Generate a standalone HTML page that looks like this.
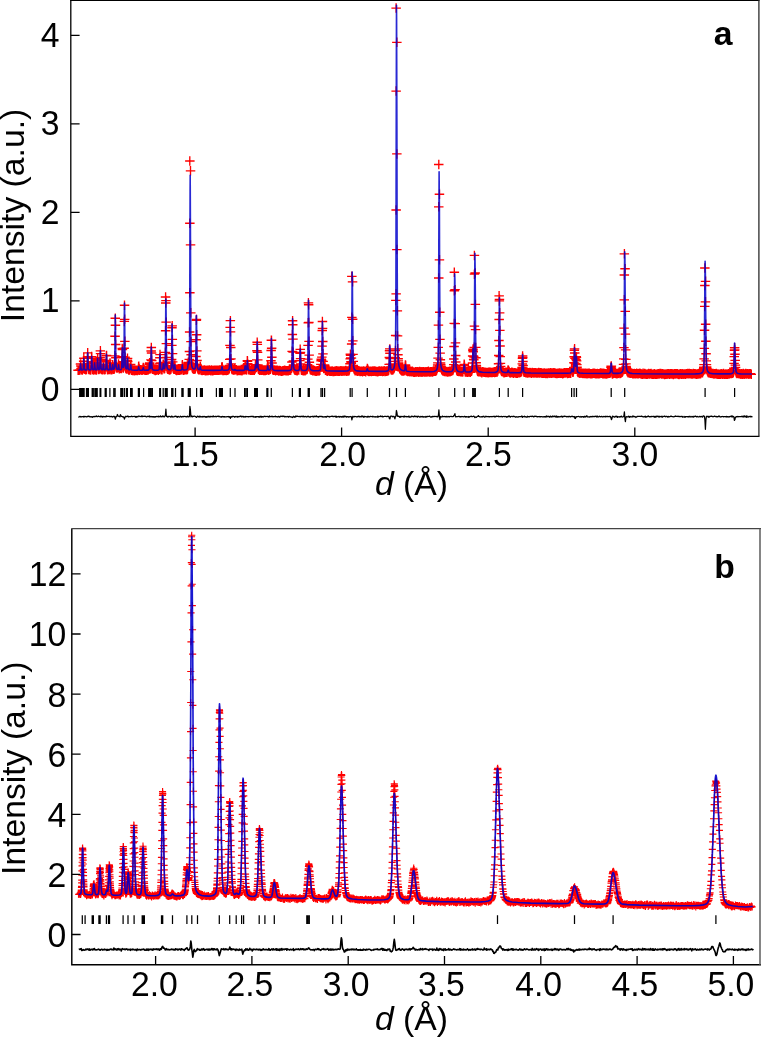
<!DOCTYPE html>
<html lang="en">
<head>
<meta charset="utf-8">
<title>Diffraction patterns a and b</title>
<style>
html,body{margin:0;padding:0;background:#fff;}
body{width:761px;height:1037px;overflow:hidden;}
svg{display:block;}
</style>
</head>
<body>
<svg width="761" height="1037" viewBox="0 0 761 1037">
<rect width="761" height="1037" fill="#fff"/>
<g id="panel-a">
<clipPath id="clip-a"><rect x="70.8" y="0.3" width="688.1" height="436"/></clipPath>
<g clip-path="url(#clip-a)" fill="none">
<path d="M73.3,370.2h9.5M78.1,365.5v9.5M74.1,370.3h9.5M78.9,365.5v9.5M74.9,369.9h9.5M79.7,365.2v9.5M75.7,364.1h9.5M80.5,359.4v9.5M75.9,363.9h9.5M80.7,359.2v9.5M76.1,366h9.5M80.9,361.2v9.5M76.3,368.3h9.5M81.1,363.5v9.5M76.5,369.7h9.5M81.3,365v9.5M76.7,369.6h9.5M81.4,364.9v9.5M76.9,369.7h9.5M81.6,365v9.5M77.7,370.1h9.5M82.4,365.3v9.5M78.5,368.8h9.5M83.2,364.1v9.5M78.7,366.4h9.5M83.4,361.6v9.5M78.9,361.2h9.5M83.6,356.5v9.5M79.1,358.2h9.5M83.8,353.5v9.5M79.2,361.2h9.5M84,356.4v9.5M79.4,364.9h9.5M84.2,360.1v9.5M79.6,367.8h9.5M84.4,363.1v9.5M79.8,368.7h9.5M84.6,363.9v9.5M80,369.2h9.5M84.8,364.5v9.5M80.2,369.3h9.5M84.9,364.5v9.5M81,369.9h9.5M85.7,365.1v9.5M81.8,369.4h9.5M86.5,364.7v9.5M82.6,364h9.5M87.3,359.2v9.5M82.8,356.7h9.5M87.5,351.9v9.5M83,352.8h9.5M87.7,348v9.5M83.2,357h9.5M87.9,352.2v9.5M83.4,363.3h9.5M88.1,358.6v9.5M83.5,367.1h9.5M88.3,362.4v9.5M83.7,368.8h9.5M88.5,364v9.5M83.9,368.9h9.5M88.7,364.2v9.5M84.1,369.4h9.5M88.9,364.7v9.5M84.3,369.5h9.5M89.1,364.7v9.5M85.1,369.7h9.5M89.9,365v9.5M85.9,370h9.5M90.7,365.3v9.5M86.7,361.7h9.5M91.5,357v9.5M86.9,356.6h9.5M91.6,351.8v9.5M87.1,358.2h9.5M91.8,353.4v9.5M87.3,362.7h9.5M92,358v9.5M87.5,366.7h9.5M92.2,361.9v9.5M87.7,368.6h9.5M92.4,363.9v9.5M87.8,369.3h9.5M92.6,364.6v9.5M88,369.2h9.5M92.8,364.5v9.5M88.2,369.7h9.5M93,365v9.5M89,370.1h9.5M93.8,365.3v9.5M89.2,369h9.5M94,364.2v9.5M89.4,368.6h9.5M94.2,363.9v9.5M89.6,365.9h9.5M94.3,361.2v9.5M89.8,362.8h9.5M94.5,358v9.5M90,364h9.5M94.7,359.2v9.5M90.2,366.3h9.5M94.9,361.5v9.5M90.4,367.9h9.5M95.1,363.1v9.5M90.5,369.3h9.5M95.3,364.5v9.5M90.7,369.8h9.5M95.5,365v9.5M90.9,369.7h9.5M95.7,365v9.5M91.7,370h9.5M96.5,365.2v9.5M92.5,365.1h9.5M97.3,360.3v9.5M92.7,360.2h9.5M97.5,355.5v9.5M92.9,358.9h9.5M97.7,354.1v9.5M93.1,361.8h9.5M97.8,357.1v9.5M93.3,366h9.5M98,361.2v9.5M93.5,368.1h9.5M98.2,363.3v9.5M93.7,369.2h9.5M98.4,364.4v9.5M93.9,369.1h9.5M98.6,364.4v9.5M94,369.4h9.5M98.8,364.7v9.5M94.8,369h9.5M99.6,364.3v9.5M95,368.4h9.5M99.8,363.6v9.5M95.2,365.4h9.5M100,360.6v9.5M95.4,357.7h9.5M100.2,353v9.5M95.6,350.8h9.5M100.4,346.1v9.5M95.8,353.6h9.5M100.5,348.8v9.5M96,359.7h9.5M100.7,355v9.5M96.2,365.3h9.5M100.9,360.6v9.5M96.4,368h9.5M101.1,363.2v9.5M96.6,369.3h9.5M101.3,364.6v9.5M96.7,369.5h9.5M101.5,364.8v9.5M96.9,369.5h9.5M101.7,364.7v9.5M97.7,369.6h9.5M102.5,364.9v9.5M98.5,364.3h9.5M103.3,359.6v9.5M98.7,364.4h9.5M103.5,359.6v9.5M98.9,365.9h9.5M103.7,361.1v9.5M99.1,367.9h9.5M103.9,363.2v9.5M99.3,369.2h9.5M104,364.5v9.5M99.5,369.6h9.5M104.2,364.8v9.5M99.7,369.7h9.5M104.4,365v9.5M100.5,369.5h9.5M105.2,364.7v9.5M101.3,366.9h9.5M106,362.1v9.5M101.5,361.9h9.5M106.2,357.2v9.5M101.7,355.8h9.5M106.4,351.1v9.5M101.8,355.5h9.5M106.6,350.8v9.5M102,360.5h9.5M106.8,355.8v9.5M102.2,365.5h9.5M107,360.8v9.5M102.4,367.9h9.5M107.2,363.1v9.5M102.6,369.3h9.5M107.4,364.6v9.5M102.8,369.4h9.5M107.5,364.7v9.5M103,369.8h9.5M107.7,365v9.5M103.8,369.5h9.5M108.5,364.8v9.5M104.6,369.6h9.5M109.3,364.8v9.5M104.8,368.1h9.5M109.5,363.4v9.5M105,365.8h9.5M109.7,361.1v9.5M105.2,363.2h9.5M109.9,358.4v9.5M105.3,362.9h9.5M110.1,358.2v9.5M105.5,365.6h9.5M110.3,360.9v9.5M105.7,368.3h9.5M110.5,363.5v9.5M105.9,368.8h9.5M110.7,364.1v9.5M106.1,369.4h9.5M110.9,364.6v9.5M106.3,369.8h9.5M111,365v9.5M107.1,369.8h9.5M111.8,365v9.5M107.3,369.2h9.5M112,364.5v9.5M107.5,368.1h9.5M112.2,363.4v9.5M107.7,366.3h9.5M112.4,361.5v9.5M107.9,364.8h9.5M112.6,360.1v9.5M108,365.5h9.5M112.8,360.8v9.5M108.2,367.5h9.5M113,362.8v9.5M108.4,368.7h9.5M113.2,364v9.5M108.6,368.9h9.5M113.4,364.1v9.5M108.8,369.3h9.5M113.6,364.6v9.5M109,369h9.5M113.7,364.2v9.5M109.2,369.3h9.5M113.9,364.6v9.5M109.4,368.9h9.5M114.1,364.2v9.5M109.6,368.6h9.5M114.3,363.8v9.5M109.8,367.7h9.5M114.5,362.9v9.5M109.9,365.2h9.5M114.7,360.4v9.5M110.1,355.8h9.5M114.9,351v9.5M110.3,336.2h9.5M115.1,331.4v9.5M110.5,318.2h9.5M115.3,313.4v9.5M110.7,325.2h9.5M115.5,320.5v9.5M110.9,344.5h9.5M115.6,339.8v9.5M111.1,357.7h9.5M115.8,352.9v9.5M111.3,364.9h9.5M116,360.1v9.5M111.5,366.7h9.5M116.2,362v9.5M111.7,367.9h9.5M116.4,363.1v9.5M111.8,367.9h9.5M116.6,363.1v9.5M112,367.4h9.5M116.8,362.6v9.5M112.2,368h9.5M117,363.3v9.5M112.4,367.9h9.5M117.2,363.2v9.5M112.6,367.4h9.5M117.4,362.7v9.5M113.4,367.3h9.5M118.2,362.5v9.5M113.6,365.9h9.5M118.3,361.2v9.5M113.8,364.1h9.5M118.5,359.3v9.5M114,365.2h9.5M118.7,360.4v9.5M114.2,366.6h9.5M118.9,361.9v9.5M114.4,368.2h9.5M119.1,363.5v9.5M114.5,368.7h9.5M119.3,364v9.5M114.7,368.9h9.5M119.5,364.1v9.5M114.9,368.6h9.5M119.7,363.8v9.5M115.7,368.3h9.5M120.5,363.5v9.5M116.5,368.3h9.5M121.3,363.5v9.5M116.7,368.5h9.5M121.5,363.7v9.5M116.9,367.4h9.5M121.7,362.7v9.5M117.1,364.2h9.5M121.8,359.5v9.5M117.3,357.1h9.5M122,352.4v9.5M117.5,348.5h9.5M122.2,343.8v9.5M117.7,349.5h9.5M122.4,344.8v9.5M117.9,356.6h9.5M122.6,351.9v9.5M118,362.9h9.5M122.8,358.1v9.5M118.2,365.8h9.5M123,361.1v9.5M118.4,367.1h9.5M123.2,362.4v9.5M118.6,368h9.5M123.4,363.2v9.5M118.8,367h9.5M123.6,362.3v9.5M119,365.8h9.5M123.7,361v9.5M119.2,361.7h9.5M123.9,357v9.5M119.4,348.2h9.5M124.1,343.5v9.5M119.6,321.4h9.5M124.3,316.7v9.5M119.8,305.2h9.5M124.5,300.4v9.5M119.9,319.3h9.5M124.7,314.5v9.5M120.1,341.3h9.5M124.9,336.6v9.5M120.3,357.2h9.5M125.1,352.4v9.5M120.5,363.9h9.5M125.3,359.2v9.5M120.7,366.5h9.5M125.5,361.8v9.5M120.9,367.3h9.5M125.6,362.6v9.5M121.1,368.2h9.5M125.8,363.5v9.5M121.3,368.3h9.5M126,363.6v9.5M121.5,368.7h9.5M126.2,363.9v9.5M121.7,368.6h9.5M126.4,363.8v9.5M121.8,368.5h9.5M126.6,363.8v9.5M122,369h9.5M126.8,364.3v9.5M122.2,367.5h9.5M127,362.8v9.5M122.4,364.8h9.5M127.2,360.1v9.5M122.6,360.1h9.5M127.4,355.3v9.5M122.8,358.3h9.5M127.5,353.5v9.5M123,361.5h9.5M127.7,356.7v9.5M123.2,365.6h9.5M127.9,360.8v9.5M123.4,367.8h9.5M128.1,363v9.5M123.6,368.9h9.5M128.3,364.2v9.5M123.7,369.4h9.5M128.5,364.6v9.5M123.9,369.9h9.5M128.7,365.2v9.5M124.7,370h9.5M129.5,365.3v9.5M125.5,368.6h9.5M130.3,363.8v9.5M125.7,366.4h9.5M130.5,361.6v9.5M125.9,364.4h9.5M130.7,359.6v9.5M126.1,365.8h9.5M130.9,361v9.5M126.3,367.6h9.5M131,362.9v9.5M126.5,368.8h9.5M131.2,364v9.5M126.7,369.7h9.5M131.4,364.9v9.5M126.9,370.1h9.5M131.6,365.3v9.5M127.1,370.2h9.5M131.8,365.4v9.5M127.9,370.4h9.5M132.6,365.7v9.5M128.7,370.1h9.5M133.4,365.3v9.5M129.5,370.7h9.5M134.2,365.9v9.5M130.3,369.9h9.5M135,365.2v9.5M131.1,370.5h9.5M135.8,365.7v9.5M131.9,370.4h9.5M136.6,365.6v9.5M132.7,370.5h9.5M137.4,365.7v9.5M133.5,370h9.5M138.2,365.3v9.5M133.6,368.9h9.5M138.4,364.2v9.5M133.8,366.8h9.5M138.6,362v9.5M134,366.4h9.5M138.8,361.6v9.5M134.2,368.1h9.5M139,363.4v9.5M134.4,368.8h9.5M139.2,364v9.5M134.6,369.7h9.5M139.3,364.9v9.5M134.8,370.2h9.5M139.5,365.5v9.5M135.6,369.8h9.5M140.3,365v9.5M136.4,369.8h9.5M141.1,365v9.5M137.2,370.3h9.5M141.9,365.6v9.5M138,369.9h9.5M142.7,365.2v9.5M138.2,369.3h9.5M142.9,364.5v9.5M138.4,368.3h9.5M143.1,363.6v9.5M138.6,367.5h9.5M143.3,362.7v9.5M138.7,367.8h9.5M143.5,363.1v9.5M138.9,369.1h9.5M143.7,364.3v9.5M139.1,369.5h9.5M143.9,364.7v9.5M139.3,369.6h9.5M144.1,364.8v9.5M140.1,370.4h9.5M144.9,365.6v9.5M140.9,370.2h9.5M145.7,365.5v9.5M141.7,370.4h9.5M146.5,365.6v9.5M142.5,369.9h9.5M147.3,365.2v9.5M143.3,369.9h9.5M148.1,365.2v9.5M144.1,369.4h9.5M148.9,364.6v9.5M144.3,368.7h9.5M149.1,363.9v9.5M144.5,367.2h9.5M149.2,362.4v9.5M144.7,364h9.5M149.4,359.2v9.5M144.9,362.8h9.5M149.6,358.1v9.5M145.1,364.4h9.5M149.8,359.7v9.5M145.3,367.1h9.5M150,362.3v9.5M145.4,367.7h9.5M150.2,362.9v9.5M145.6,368.8h9.5M150.4,364v9.5M145.8,368.1h9.5M150.6,363.3v9.5M146,366h9.5M150.8,361.2v9.5M146.2,359.9h9.5M151,355.1v9.5M146.4,351h9.5M151.1,346.2v9.5M146.6,347.5h9.5M151.3,342.8v9.5M146.8,353h9.5M151.5,348.3v9.5M147,360.6h9.5M151.7,355.8v9.5M147.2,365.5h9.5M151.9,360.7v9.5M147.3,368.3h9.5M152.1,363.5v9.5M147.5,368.9h9.5M152.3,364.2v9.5M147.7,368.9h9.5M152.5,364.1v9.5M147.9,369.4h9.5M152.7,364.6v9.5M148.1,369.3h9.5M152.9,364.5v9.5M148.9,369.6h9.5M153.7,364.8v9.5M149.7,370h9.5M154.5,365.3v9.5M150.5,370.6h9.5M155.3,365.8v9.5M151.3,370.2h9.5M156.1,365.5v9.5M152.1,369.9h9.5M156.9,365.1v9.5M152.9,369.9h9.5M157.7,365.1v9.5M153.7,370.3h9.5M158.5,365.5v9.5M154.5,369.1h9.5M159.3,364.4v9.5M154.7,367.7h9.5M159.4,362.9v9.5M154.9,363.9h9.5M159.6,359.1v9.5M155.1,357.7h9.5M159.8,353v9.5M155.3,354.6h9.5M160,349.8v9.5M155.5,357.9h9.5M160.2,353.1v9.5M155.6,363h9.5M160.4,358.2v9.5M155.8,366.3h9.5M160.6,361.6v9.5M156,368.6h9.5M160.8,363.8v9.5M156.2,369h9.5M161,364.2v9.5M156.4,369.8h9.5M161.2,365v9.5M156.6,369.3h9.5M161.3,364.5v9.5M157.4,369.7h9.5M162.1,364.9v9.5M158.2,367.3h9.5M162.9,362.6v9.5M158.4,364.6h9.5M163.1,359.8v9.5M158.6,364.2h9.5M163.3,359.4v9.5M158.8,365.4h9.5M163.5,360.7v9.5M159,366.8h9.5M163.7,362.1v9.5M159.1,368.4h9.5M163.9,363.7v9.5M159.3,368.8h9.5M164.1,364.1v9.5M159.5,368.3h9.5M164.3,363.6v9.5M159.7,368.7h9.5M164.5,363.9v9.5M159.9,368.2h9.5M164.7,363.4v9.5M160.1,367.5h9.5M164.8,362.7v9.5M160.3,365.7h9.5M165,360.9v9.5M160.5,362.3h9.5M165.2,357.5v9.5M160.7,352.3h9.5M165.4,347.6v9.5M160.9,330.7h9.5M165.6,326v9.5M161,303h9.5M165.8,298.3v9.5M161.2,300.6h9.5M166,295.8v9.5M161.4,322.1h9.5M166.2,317.4v9.5M161.6,343.6h9.5M166.4,338.9v9.5M161.8,357.3h9.5M166.6,352.6v9.5M162,363.3h9.5M166.7,358.5v9.5M162.2,366.7h9.5M166.9,362v9.5M162.4,367.7h9.5M167.1,363v9.5M162.6,368.4h9.5M167.3,363.6v9.5M162.8,368.8h9.5M167.5,364v9.5M162.9,368.9h9.5M167.7,364.2v9.5M163.1,369.2h9.5M167.9,364.4v9.5M163.3,369.2h9.5M168.1,364.5v9.5M163.5,369.4h9.5M168.3,364.6v9.5M164.3,369.7h9.5M169.1,364.9v9.5M165.1,370.1h9.5M169.9,365.3v9.5M165.9,369.4h9.5M170.7,364.6v9.5M166.1,368.9h9.5M170.9,364.2v9.5M166.3,368.3h9.5M171,363.6v9.5M166.5,367.5h9.5M171.2,362.8v9.5M166.7,366h9.5M171.4,361.2v9.5M166.9,359.5h9.5M171.6,354.7v9.5M167.1,345.4h9.5M171.8,340.6v9.5M167.2,327.7h9.5M172,323v9.5M167.4,325.9h9.5M172.2,321.1v9.5M167.6,339.4h9.5M172.4,334.7v9.5M167.8,353.6h9.5M172.6,348.8v9.5M168,361.9h9.5M172.8,357.1v9.5M168.2,365.9h9.5M172.9,361.2v9.5M168.4,367.6h9.5M173.1,362.8v9.5M168.6,368.4h9.5M173.3,363.6v9.5M168.8,368.3h9.5M173.5,363.6v9.5M169,368.9h9.5M173.7,364.2v9.5M169.1,368.8h9.5M173.9,364.1v9.5M169.3,369.1h9.5M174.1,364.4v9.5M169.5,367.9h9.5M174.3,363.1v9.5M169.7,366.5h9.5M174.5,361.7v9.5M169.9,365.2h9.5M174.7,360.4v9.5M170.1,365.3h9.5M174.8,360.5v9.5M170.3,366.9h9.5M175,362.1v9.5M170.5,368.5h9.5M175.2,363.8v9.5M170.7,369.3h9.5M175.4,364.5v9.5M170.9,369.4h9.5M175.6,364.6v9.5M171,370h9.5M175.8,365.2v9.5M171.8,370.5h9.5M176.6,365.8v9.5M172.6,370.1h9.5M177.4,365.3v9.5M173.4,370.1h9.5M178.2,365.4v9.5M174.2,369.9h9.5M179,365.2v9.5M175,370.3h9.5M179.8,365.5v9.5M175.8,369.8h9.5M180.6,365.1v9.5M176.6,369.6h9.5M181.4,364.9v9.5M177.4,365.5h9.5M182.2,360.7v9.5M177.6,364.7h9.5M182.4,359.9v9.5M177.8,366.8h9.5M182.6,362v9.5M178,368.5h9.5M182.8,363.8v9.5M178.2,369.2h9.5M183,364.5v9.5M178.4,369.8h9.5M183.1,365.1v9.5M178.6,370.3h9.5M183.3,365.6v9.5M179.4,370h9.5M184.1,365.2v9.5M180.2,369.8h9.5M184.9,365.1v9.5M181,369.5h9.5M185.7,364.7v9.5M181.8,369.6h9.5M186.5,364.9v9.5M182.6,369.4h9.5M187.3,364.7v9.5M182.8,369h9.5M187.5,364.2v9.5M183,367.8h9.5M187.7,363v9.5M183.2,366.3h9.5M187.9,361.6v9.5M183.3,364h9.5M188.1,359.3v9.5M183.5,362.3h9.5M188.3,357.6v9.5M183.7,362.5h9.5M188.5,357.8v9.5M183.9,363.7h9.5M188.7,359v9.5M184.1,364h9.5M188.9,359.3v9.5M184.3,362.6h9.5M189,357.9v9.5M184.5,359.3h9.5M189.2,354.5v9.5M184.7,351.5h9.5M189.4,346.8v9.5M184.9,332h9.5M189.6,327.2v9.5M186,312.8h9.5M190.8,308v9.5M186.2,341.6h9.5M190.9,336.9v9.5M186.4,354.7h9.5M191.1,350v9.5M186.6,360.8h9.5M191.3,356.1v9.5M186.8,363.5h9.5M191.5,358.7v9.5M187,364.8h9.5M191.7,360.1v9.5M187.1,365.5h9.5M191.9,360.7v9.5M187.3,366.6h9.5M192.1,361.9v9.5M187.5,367.1h9.5M192.3,362.4v9.5M187.7,367.9h9.5M192.5,363.2v9.5M187.9,368.6h9.5M192.7,363.8v9.5M188.1,368.4h9.5M192.8,363.7v9.5M188.3,368.4h9.5M193,363.6v9.5M188.5,368.4h9.5M193.2,363.7v9.5M188.7,368.9h9.5M193.4,364.1v9.5M188.9,368.9h9.5M193.6,364.2v9.5M189,368.7h9.5M193.8,364v9.5M189.2,369.1h9.5M194,364.4v9.5M190,368.6h9.5M194.8,363.8v9.5M190.2,369h9.5M195,364.2v9.5M190.4,368.6h9.5M195.2,363.9v9.5M190.6,368.2h9.5M195.4,363.4v9.5M190.8,366.8h9.5M195.5,362v9.5M191,364.4h9.5M195.7,359.7v9.5M191.2,356.5h9.5M195.9,351.7v9.5M191.4,339.7h9.5M196.1,335v9.5M191.6,320.3h9.5M196.3,315.6v9.5M191.7,319.5h9.5M196.5,314.7v9.5M191.9,334.7h9.5M196.7,329.9v9.5M192.1,350.9h9.5M196.9,346.2v9.5M192.3,360.5h9.5M197.1,355.7v9.5M192.5,365.2h9.5M197.3,360.5v9.5M192.7,367.3h9.5M197.4,362.6v9.5M192.9,367.5h9.5M197.6,362.7v9.5M193.1,368.3h9.5M197.8,363.5v9.5M193.3,368.9h9.5M198,364.1v9.5M193.5,369.2h9.5M198.2,364.5v9.5M193.6,369.2h9.5M198.4,364.4v9.5M193.8,369.7h9.5M198.6,365v9.5M194.6,369.7h9.5M199.4,365v9.5M195.4,366.7h9.5M200.2,361.9v9.5M195.6,366.6h9.5M200.4,361.8v9.5M195.8,368h9.5M200.6,363.2v9.5M196,368.9h9.5M200.8,364.1v9.5M196.2,369h9.5M200.9,364.3v9.5M196.4,370.2h9.5M201.1,365.4v9.5M196.6,370.1h9.5M201.3,365.4v9.5M197.4,370.5h9.5M202.1,365.8v9.5M198.2,370.1h9.5M202.9,365.4v9.5M199,370.2h9.5M203.7,365.4v9.5M199.8,370h9.5M204.5,365.2v9.5M200.6,370.8h9.5M205.3,366v9.5M201.4,370.3h9.5M206.1,365.5v9.5M202.2,370.8h9.5M206.9,366v9.5M203,370.2h9.5M207.7,365.4v9.5M203.8,370.4h9.5M208.5,365.7v9.5M204.6,369.9h9.5M209.3,365.2v9.5M205.4,370.3h9.5M210.1,365.5v9.5M206.2,370.7h9.5M210.9,365.9v9.5M207,370.1h9.5M211.7,365.3v9.5M207.8,370.7h9.5M212.5,365.9v9.5M208.6,370.5h9.5M213.3,365.7v9.5M209.4,370.1h9.5M214.1,365.4v9.5M210.2,370.3h9.5M214.9,365.5v9.5M211,370.3h9.5M215.7,365.5v9.5M211.8,370.4h9.5M216.5,365.6v9.5M212.6,370.3h9.5M217.3,365.5v9.5M213.4,370.2h9.5M218.1,365.4v9.5M214.2,370.3h9.5M218.9,365.6v9.5M215,370.1h9.5M219.7,365.3v9.5M215.8,370h9.5M220.5,365.2v9.5M216.6,370h9.5M221.3,365.2v9.5M216.8,369.7h9.5M221.5,364.9v9.5M217,367.9h9.5M221.7,363.1v9.5M217.2,367h9.5M221.9,362.2v9.5M217.3,366.7h9.5M222.1,361.9v9.5M217.5,367.6h9.5M222.3,362.8v9.5M217.7,369.1h9.5M222.5,364.4v9.5M217.9,369.5h9.5M222.7,364.7v9.5M218.1,370.4h9.5M222.8,365.7v9.5M218.3,369.9h9.5M223,365.2v9.5M219.1,370.4h9.5M223.8,365.7v9.5M219.9,370.3h9.5M224.6,365.5v9.5M220.7,370.1h9.5M225.4,365.4v9.5M221.5,370.4h9.5M226.2,365.7v9.5M222.3,370.2h9.5M227,365.4v9.5M223.1,370.2h9.5M227.8,365.4v9.5M223.9,369.5h9.5M228.6,364.8v9.5M224.1,369h9.5M228.8,364.3v9.5M224.3,369h9.5M229,364.2v9.5M224.5,368.5h9.5M229.2,363.8v9.5M224.7,367.9h9.5M229.4,363.2v9.5M224.8,365.3h9.5M229.6,360.5v9.5M225,359.4h9.5M229.8,354.6v9.5M225.2,345.3h9.5M230,340.5v9.5M225.4,327.3h9.5M230.2,322.5v9.5M225.6,320.6h9.5M230.4,315.9v9.5M225.8,331.9h9.5M230.5,327.1v9.5M226,347.5h9.5M230.7,342.8v9.5M226.2,358.8h9.5M230.9,354.1v9.5M226.4,363.9h9.5M231.1,359.2v9.5M226.6,366.6h9.5M231.3,361.8v9.5M226.7,367.8h9.5M231.5,363.1v9.5M226.9,368.3h9.5M231.7,363.6v9.5M227.1,369.1h9.5M231.9,364.4v9.5M227.3,369.1h9.5M232.1,364.3v9.5M227.5,369.3h9.5M232.3,364.5v9.5M227.7,369.8h9.5M232.4,365.1v9.5M228.5,369.8h9.5M233.2,365.1v9.5M229.3,370.2h9.5M234,365.5v9.5M230.1,369.2h9.5M234.8,364.4v9.5M230.9,369.9h9.5M235.6,365.1v9.5M231.7,369.9h9.5M236.4,365.1v9.5M232.5,370.8h9.5M237.2,366.1v9.5M233.3,370.3h9.5M238,365.5v9.5M234.1,370.5h9.5M238.8,365.7v9.5M234.9,370.4h9.5M239.6,365.6v9.5M235.7,370.4h9.5M240.4,365.7v9.5M236.5,370.4h9.5M241.2,365.7v9.5M237.3,370.9h9.5M242,366.1v9.5M238.1,370.1h9.5M242.8,365.3v9.5M238.9,369.9h9.5M243.6,365.1v9.5M239.7,369.7h9.5M244.4,365v9.5M239.9,369.1h9.5M244.6,364.4v9.5M240.1,368.6h9.5M244.8,363.9v9.5M240.3,367h9.5M245,362.2v9.5M240.5,365.4h9.5M245.2,360.7v9.5M240.6,366h9.5M245.4,361.3v9.5M240.8,367.7h9.5M245.6,362.9v9.5M241,369.3h9.5M245.8,364.5v9.5M241.2,369.1h9.5M246,364.3v9.5M241.4,369.9h9.5M246.2,365.2v9.5M241.6,369.5h9.5M246.3,364.7v9.5M242.4,364.4h9.5M247.1,359.6v9.5M242.6,360.7h9.5M247.3,356v9.5M242.8,361.3h9.5M247.5,356.5v9.5M243,363.6h9.5M247.7,358.9v9.5M243.2,366.5h9.5M247.9,361.7v9.5M243.3,368.9h9.5M248.1,364.1v9.5M243.5,369.6h9.5M248.3,364.9v9.5M243.7,369.7h9.5M248.5,364.9v9.5M243.9,369.8h9.5M248.7,365v9.5M244.7,369.8h9.5M249.5,365v9.5M245.5,370.2h9.5M250.3,365.5v9.5M246.3,370.4h9.5M251.1,365.6v9.5M247.1,370.3h9.5M251.9,365.6v9.5M247.9,370.3h9.5M252.7,365.6v9.5M248.7,370h9.5M253.5,365.3v9.5M249.5,370.2h9.5M254.3,365.4v9.5M250.3,369h9.5M255.1,364.2v9.5M250.5,367.9h9.5M255.3,363.2v9.5M250.7,366.1h9.5M255.4,361.3v9.5M250.9,364.7h9.5M255.6,359.9v9.5M251.1,365.3h9.5M255.8,360.6v9.5M251.3,366.8h9.5M256,362.1v9.5M251.5,367.5h9.5M256.2,362.8v9.5M251.6,367.3h9.5M256.4,362.6v9.5M251.8,365.5h9.5M256.6,360.8v9.5M252,359.8h9.5M256.8,355v9.5M252.2,350.7h9.5M257,345.9v9.5M252.4,342.2h9.5M257.2,337.4v9.5M252.6,344.3h9.5M257.3,339.5v9.5M252.8,352.3h9.5M257.5,347.5v9.5M253,359.9h9.5M257.7,355.1v9.5M253.2,364.8h9.5M257.9,360.1v9.5M253.4,367.5h9.5M258.1,362.8v9.5M253.5,368.5h9.5M258.3,363.8v9.5M253.7,369.3h9.5M258.5,364.5v9.5M253.9,369.5h9.5M258.7,364.8v9.5M254.1,369.4h9.5M258.9,364.6v9.5M254.9,370.2h9.5M259.7,365.4v9.5M255.7,370h9.5M260.5,365.2v9.5M256.5,370.2h9.5M261.3,365.5v9.5M257.3,370.4h9.5M262.1,365.6v9.5M258.1,370h9.5M262.9,365.3v9.5M258.9,370.5h9.5M263.7,365.8v9.5M259.7,370.5h9.5M264.5,365.8v9.5M260.5,370.4h9.5M265.3,365.7v9.5M261.3,370.3h9.5M266.1,365.6v9.5M262.1,370.1h9.5M266.9,365.3v9.5M262.3,369.6h9.5M267.1,364.8v9.5M262.5,369h9.5M267.2,364.3v9.5M262.7,367.5h9.5M267.4,362.8v9.5M262.9,366.3h9.5M267.6,361.6v9.5M263.1,366h9.5M267.8,361.3v9.5M263.3,367.5h9.5M268,362.8v9.5M263.4,368.7h9.5M268.2,364v9.5M263.6,369.4h9.5M268.4,364.7v9.5M263.8,369.8h9.5M268.6,365v9.5M264,370.2h9.5M268.8,365.5v9.5M264.8,369.6h9.5M269.6,364.8v9.5M265.6,369.2h9.5M270.4,364.5v9.5M265.8,368.3h9.5M270.6,363.6v9.5M266,366.2h9.5M270.7,361.4v9.5M266.2,360.7h9.5M270.9,356v9.5M266.4,350.5h9.5M271.1,345.8v9.5M266.6,340.2h9.5M271.3,335.4v9.5M266.8,340.1h9.5M271.5,335.4v9.5M266.9,348.2h9.5M271.7,343.4v9.5M267.1,357.2h9.5M271.9,352.4v9.5M267.3,363h9.5M272.1,358.3v9.5M267.5,367h9.5M272.3,362.2v9.5M267.7,368.7h9.5M272.5,363.9v9.5M267.9,369.4h9.5M272.6,364.6v9.5M268.1,369.5h9.5M272.8,364.8v9.5M268.3,369.3h9.5M273,364.5v9.5M268.5,370.1h9.5M273.2,365.4v9.5M269.3,370.2h9.5M274,365.5v9.5M270.1,370h9.5M274.8,365.2v9.5M270.9,370.6h9.5M275.6,365.9v9.5M271.7,370.2h9.5M276.4,365.4v9.5M272.5,370.2h9.5M277.2,365.5v9.5M273.3,370.4h9.5M278,365.7v9.5M274.1,371h9.5M278.8,366.2v9.5M274.9,370.5h9.5M279.6,365.8v9.5M275.7,370.7h9.5M280.4,366v9.5M276.5,371.1h9.5M281.2,366.4v9.5M277.3,371.1h9.5M282,366.4v9.5M278.1,370.7h9.5M282.8,365.9v9.5M278.9,370.6h9.5M283.6,365.9v9.5M279.7,370.3h9.5M284.4,365.6v9.5M280.5,370.5h9.5M285.2,365.7v9.5M281.3,370.8h9.5M286,366v9.5M282.1,370.8h9.5M286.8,366v9.5M282.9,370.7h9.5M287.6,365.9v9.5M283.7,370.9h9.5M288.4,366.1v9.5M284.5,370.3h9.5M289.2,365.6v9.5M285.3,370.3h9.5M290,365.6v9.5M286.1,370.1h9.5M290.8,365.3v9.5M286.9,368.3h9.5M291.6,363.5v9.5M287.1,366.7h9.5M291.8,362v9.5M287.2,362h9.5M292,357.2v9.5M287.4,351.3h9.5M292.2,346.5v9.5M287.6,334.5h9.5M292.4,329.8v9.5M287.8,320.7h9.5M292.6,315.9v9.5M288,324.7h9.5M292.8,319.9v9.5M288.2,339.1h9.5M292.9,334.3v9.5M288.4,352.1h9.5M293.1,347.4v9.5M288.6,360.9h9.5M293.3,356.2v9.5M288.8,364.9h9.5M293.5,360.1v9.5M289,367.3h9.5M293.7,362.5v9.5M289.1,368.2h9.5M293.9,363.5v9.5M289.3,368.7h9.5M294.1,364v9.5M289.5,368.8h9.5M294.3,364.1v9.5M289.7,369.5h9.5M294.5,364.7v9.5M289.9,370h9.5M294.7,365.3v9.5M290.1,370h9.5M294.8,365.3v9.5M290.9,370.1h9.5M295.6,365.4v9.5M291.7,370.4h9.5M296.4,365.7v9.5M292.5,370.7h9.5M297.2,365.9v9.5M293.3,370h9.5M298,365.2v9.5M294.1,370h9.5M298.8,365.3v9.5M294.9,365.9h9.5M299.6,361.2v9.5M295.1,360.6h9.5M299.8,355.8v9.5M295.3,353.4h9.5M300,348.6v9.5M295.5,349.3h9.5M300.2,344.6v9.5M295.7,352.4h9.5M300.4,347.7v9.5M295.8,358.6h9.5M300.6,353.8v9.5M296,364h9.5M300.8,359.2v9.5M296.2,366.9h9.5M301,362.1v9.5M296.4,368.7h9.5M301.2,363.9v9.5M296.6,369.7h9.5M301.4,364.9v9.5M296.8,370.3h9.5M301.5,365.5v9.5M297,370h9.5M301.7,365.2v9.5M297.2,370.1h9.5M301.9,365.4v9.5M298,370.5h9.5M302.7,365.7v9.5M298.8,370.9h9.5M303.5,366.1v9.5M299.6,370.5h9.5M304.3,365.8v9.5M300.4,370.8h9.5M305.1,366.1v9.5M301.2,370h9.5M305.9,365.2v9.5M302,369.6h9.5M306.7,364.8v9.5M302.2,369.3h9.5M306.9,364.5v9.5M302.4,369.1h9.5M307.1,364.4v9.5M302.5,368.6h9.5M307.3,363.8v9.5M302.7,366.8h9.5M307.5,362.1v9.5M302.9,364.7h9.5M307.7,359.9v9.5M303.1,359.1h9.5M307.9,354.4v9.5M303.3,345.4h9.5M308.1,340.6v9.5M303.5,322.8h9.5M308.2,318v9.5M303.7,302.9h9.5M308.4,298.1v9.5M303.9,304.7h9.5M308.6,300v9.5M304.1,322.5h9.5M308.8,317.7v9.5M304.3,341.3h9.5M309,336.5v9.5M304.4,355.1h9.5M309.2,350.3v9.5M304.6,362.2h9.5M309.4,357.4v9.5M304.8,366h9.5M309.6,361.3v9.5M305,367.1h9.5M309.8,362.3v9.5M305.2,368h9.5M310,363.2v9.5M305.4,368.8h9.5M310.1,364.1v9.5M305.6,369h9.5M310.3,364.2v9.5M305.8,369.7h9.5M310.5,364.9v9.5M306,369.8h9.5M310.7,365v9.5M306.2,369.6h9.5M310.9,364.9v9.5M306.3,370h9.5M311.1,365.3v9.5M307.1,370.3h9.5M311.9,365.5v9.5M307.9,370.8h9.5M312.7,366.1v9.5M308.7,370.5h9.5M313.5,365.7v9.5M309.5,370.6h9.5M314.3,365.9v9.5M310.3,371.1h9.5M315.1,366.3v9.5M311.1,371.2h9.5M315.9,366.5v9.5M311.9,371.2h9.5M316.7,366.5v9.5M312.7,370.8h9.5M317.5,366v9.5M313.5,370.8h9.5M318.3,366v9.5M314.3,371h9.5M319.1,366.2v9.5M315.1,370.2h9.5M319.9,365.4v9.5M315.9,366.9h9.5M320.7,362.2v9.5M316.1,364.3h9.5M320.9,359.5v9.5M316.3,360.9h9.5M321.1,356.1v9.5M316.5,359.2h9.5M321.3,354.5v9.5M316.7,360h9.5M321.5,355.2v9.5M316.9,360.3h9.5M321.6,355.6v9.5M317.1,357.1h9.5M321.8,352.4v9.5M317.3,346.1h9.5M322,341.4v9.5M317.5,330.5h9.5M322.2,325.7v9.5M317.7,321.5h9.5M322.4,316.7v9.5M317.8,328.3h9.5M322.6,323.6v9.5M318,341.5h9.5M322.8,336.8v9.5M318.2,353.8h9.5M323,349.1v9.5M318.4,361.3h9.5M323.2,356.5v9.5M318.6,365.5h9.5M323.4,360.7v9.5M318.8,367.1h9.5M323.5,362.4v9.5M319,368.5h9.5M323.7,363.8v9.5M319.2,368.4h9.5M323.9,363.6v9.5M319.4,367.6h9.5M324.1,362.9v9.5M319.6,366.4h9.5M324.3,361.7v9.5M319.7,364.9h9.5M324.5,360.2v9.5M319.9,365.1h9.5M324.7,360.3v9.5M320.1,365.8h9.5M324.9,361v9.5M320.3,367.5h9.5M325.1,362.8v9.5M320.5,368.9h9.5M325.3,364.2v9.5M320.7,370.2h9.5M325.4,365.5v9.5M320.9,370.4h9.5M325.6,365.6v9.5M321.1,370.3h9.5M325.8,365.6v9.5M321.9,370.9h9.5M326.6,366.1v9.5M322.7,371.3h9.5M327.4,366.5v9.5M323.5,370.8h9.5M328.2,366.1v9.5M324.3,370.8h9.5M329,366.1v9.5M325.1,371.3h9.5M329.8,366.6v9.5M325.9,371.1h9.5M330.6,366.4v9.5M326.7,371.2h9.5M331.4,366.5v9.5M327.5,370.9h9.5M332.2,366.2v9.5M328.3,371.5h9.5M333,366.8v9.5M329.1,371.5h9.5M333.8,366.8v9.5M329.9,371.2h9.5M334.6,366.5v9.5M330.7,371.3h9.5M335.4,366.5v9.5M331.5,370.6h9.5M336.2,365.9v9.5M332.3,371.3h9.5M337,366.5v9.5M333.1,371.1h9.5M337.8,366.3v9.5M333.9,371.2h9.5M338.6,366.5v9.5M334.7,371.3h9.5M339.4,366.5v9.5M335.5,371h9.5M340.2,366.3v9.5M336.3,370.7h9.5M341,365.9v9.5M337.1,371.2h9.5M341.8,366.5v9.5M337.9,370.9h9.5M342.6,366.2v9.5M338.7,371h9.5M343.4,366.3v9.5M339.5,370.9h9.5M344.2,366.2v9.5M340.3,371h9.5M345,366.2v9.5M341.1,370.6h9.5M345.8,365.8v9.5M341.9,371.3h9.5M346.6,366.5v9.5M342.7,370.9h9.5M347.4,366.2v9.5M343.5,371h9.5M348.2,366.2v9.5M344.3,370.6h9.5M349,365.9v9.5M344.5,369.9h9.5M349.2,365.2v9.5M344.7,369.1h9.5M349.4,364.4v9.5M344.8,368.6h9.5M349.6,363.8v9.5M345,366.8h9.5M349.8,362.1v9.5M345.2,363.7h9.5M350,358.9v9.5M345.4,358.8h9.5M350.2,354v9.5M345.6,354.2h9.5M350.4,349.4v9.5M345.8,355.2h9.5M350.5,350.5v9.5M346,358h9.5M350.7,353.2v9.5M346.2,361.7h9.5M350.9,357v9.5M346.4,363.5h9.5M351.1,358.7v9.5M346.6,363h9.5M351.3,358.2v9.5M346.7,358.1h9.5M351.5,353.4v9.5M346.9,344h9.5M351.7,339.2v9.5M347.1,317.3h9.5M351.9,312.5v9.5M347.9,319.2h9.5M352.6,314.5v9.5M348.1,340.9h9.5M352.8,336.1v9.5M348.3,354.4h9.5M353,349.7v9.5M348.5,361.3h9.5M353.2,356.5v9.5M348.6,365.3h9.5M353.4,360.6v9.5M348.8,366.6h9.5M353.6,361.9v9.5M349,367.6h9.5M353.8,362.9v9.5M349.2,368.3h9.5M354,363.5v9.5M349.4,368.9h9.5M354.2,364.1v9.5M349.6,369.1h9.5M354.3,364.4v9.5M349.8,369.5h9.5M354.5,364.8v9.5M350,369.5h9.5M354.7,364.8v9.5M350.2,369.9h9.5M354.9,365.1v9.5M350.4,370.6h9.5M355.1,365.9v9.5M350.5,370.3h9.5M355.3,365.5v9.5M351.3,370.6h9.5M356.1,365.8v9.5M352.1,371h9.5M356.9,366.2v9.5M352.9,371.2h9.5M357.7,366.4v9.5M353.7,370.8h9.5M358.5,366v9.5M354.5,371.1h9.5M359.3,366.3v9.5M355.3,371.4h9.5M360.1,366.7v9.5M356.1,371.3h9.5M360.9,366.5v9.5M356.9,371.3h9.5M361.7,366.5v9.5M357.7,371.7h9.5M362.5,366.9v9.5M358.5,371.1h9.5M363.3,366.3v9.5M359.3,371.3h9.5M364.1,366.5v9.5M360.1,371.1h9.5M364.9,366.4v9.5M360.9,371.6h9.5M365.7,366.9v9.5M361.7,370.6h9.5M366.5,365.8v9.5M362.5,368.5h9.5M367.3,363.8v9.5M362.7,368.9h9.5M367.5,364.1v9.5M362.9,369.9h9.5M367.7,365.1v9.5M363.1,370.5h9.5M367.9,365.7v9.5M363.3,371.2h9.5M368.1,366.4v9.5M363.5,370.6h9.5M368.2,365.8v9.5M364.3,371.5h9.5M369,366.7v9.5M365.1,371.2h9.5M369.8,366.5v9.5M365.9,371.2h9.5M370.6,366.4v9.5M366.7,371.5h9.5M371.4,366.7v9.5M367.5,371.1h9.5M372.2,366.4v9.5M368.3,370.9h9.5M373,366.2v9.5M369.1,371.3h9.5M373.8,366.5v9.5M369.9,371h9.5M374.6,366.2v9.5M370.7,371.2h9.5M375.4,366.5v9.5M371.5,371.5h9.5M376.2,366.7v9.5M372.3,371.5h9.5M377,366.7v9.5M373.1,371.8h9.5M377.8,367.1v9.5M373.9,371.3h9.5M378.6,366.6v9.5M374.7,371h9.5M379.4,366.2v9.5M375.5,371.2h9.5M380.2,366.4v9.5M376.3,371.1h9.5M381,366.4v9.5M377.1,371h9.5M381.8,366.3v9.5M377.9,371.5h9.5M382.6,366.7v9.5M378.7,371.2h9.5M383.4,366.4v9.5M379.5,370.8h9.5M384.2,366.1v9.5M380.3,371.5h9.5M385,366.7v9.5M381.1,371.2h9.5M385.8,366.4v9.5M381.9,371.2h9.5M386.6,366.5v9.5M382.7,371h9.5M387.4,366.2v9.5M383.5,370.6h9.5M388.2,365.9v9.5M383.7,370.2h9.5M388.4,365.5v9.5M383.9,370.2h9.5M388.6,365.5v9.5M384.1,369.4h9.5M388.8,364.7v9.5M384.3,367.9h9.5M389,363.1v9.5M384.4,364.3h9.5M389.2,359.5v9.5M384.6,357.5h9.5M389.4,352.7v9.5M384.8,350.7h9.5M389.6,346v9.5M385,348.9h9.5M389.8,344.2v9.5M385.2,353.2h9.5M390,348.4v9.5M385.4,358.6h9.5M390.1,353.8v9.5M385.6,364.1h9.5M390.3,359.4v9.5M385.8,366.8h9.5M390.5,362v9.5M386,368h9.5M390.7,363.3v9.5M386.2,368.7h9.5M390.9,363.9v9.5M386.3,369.4h9.5M391.1,364.7v9.5M386.5,369.7h9.5M391.3,365v9.5M386.7,369.6h9.5M391.5,364.9v9.5M386.9,369.9h9.5M391.7,365.2v9.5M387.1,369.7h9.5M391.9,365v9.5M387.3,370h9.5M392,365.3v9.5M387.5,369.7h9.5M392.2,364.9v9.5M387.7,369.8h9.5M392.4,365v9.5M387.9,369.9h9.5M392.6,365.2v9.5M388.1,370h9.5M392.8,365.2v9.5M388.2,369.1h9.5M393,364.3v9.5M388.4,369h9.5M393.2,364.3v9.5M388.6,368.7h9.5M393.4,364v9.5M388.8,368.9h9.5M393.6,364.2v9.5M389,368.1h9.5M393.8,363.4v9.5M389.2,368.1h9.5M393.9,363.3v9.5M389.4,368h9.5M394.1,363.2v9.5M389.6,367.4h9.5M394.3,362.7v9.5M389.8,366.9h9.5M394.5,362.1v9.5M390,366h9.5M394.7,361.2v9.5M390.1,363.9h9.5M394.9,359.1v9.5M390.3,361.3h9.5M395.1,356.5v9.5M390.5,357.4h9.5M395.3,352.7v9.5M390.7,350.5h9.5M395.5,345.8v9.5M390.9,335.5h9.5M395.7,330.8v9.5M391.1,300.4h9.5M395.8,295.7v9.5M392.6,310.9h9.5M397.4,306.1v9.5M392.8,335.9h9.5M397.6,331.2v9.5M393,348.8h9.5M397.7,344v9.5M393.2,354.7h9.5M397.9,350v9.5M393.4,358.7h9.5M398.1,353.9v9.5M393.6,360.8h9.5M398.3,356v9.5M393.8,363h9.5M398.5,358.3v9.5M393.9,364h9.5M398.7,359.3v9.5M394.1,365.2h9.5M398.9,360.5v9.5M394.3,366.6h9.5M399.1,361.9v9.5M394.5,367.1h9.5M399.3,362.3v9.5M394.7,367.3h9.5M399.5,362.6v9.5M394.9,367.9h9.5M399.6,363.2v9.5M395.1,368.4h9.5M399.8,363.7v9.5M395.3,369h9.5M400,364.3v9.5M395.5,368.8h9.5M400.2,364.1v9.5M395.7,368.8h9.5M400.4,364v9.5M395.8,369.4h9.5M400.6,364.6v9.5M396,369.6h9.5M400.8,364.9v9.5M396.2,369.8h9.5M401,365.1v9.5M396.4,370.3h9.5M401.2,365.6v9.5M396.6,370.2h9.5M401.4,365.4v9.5M396.8,370.4h9.5M401.5,365.7v9.5M397,370h9.5M401.7,365.2v9.5M397.2,370.6h9.5M401.9,365.9v9.5M397.4,370.9h9.5M402.1,366.2v9.5M398.2,370.9h9.5M402.9,366.2v9.5M399,370.9h9.5M403.7,366.2v9.5M399.8,370.6h9.5M404.5,365.8v9.5M400,370.5h9.5M404.7,365.8v9.5M400.1,368.7h9.5M404.9,364v9.5M400.3,367.1h9.5M405.1,362.4v9.5M400.5,365.4h9.5M405.3,360.6v9.5M400.7,365h9.5M405.5,360.2v9.5M400.9,365.9h9.5M405.7,361.1v9.5M401.1,367.8h9.5M405.8,363v9.5M401.3,369.1h9.5M406,364.3v9.5M401.5,370.1h9.5M406.2,365.4v9.5M401.7,370.6h9.5M406.4,365.9v9.5M401.9,370.6h9.5M406.6,365.9v9.5M402,371.1h9.5M406.8,366.3v9.5M402.8,371.6h9.5M407.6,366.8v9.5M403.6,371.2h9.5M408.4,366.4v9.5M404.4,371.4h9.5M409.2,366.7v9.5M405.2,371.7h9.5M410,367v9.5M406,371.3h9.5M410.8,366.5v9.5M406.8,371.7h9.5M411.6,366.9v9.5M407.6,371.4h9.5M412.4,366.6v9.5M408.4,372h9.5M413.2,367.2v9.5M409.2,372.2h9.5M414,367.4v9.5M410,372.2h9.5M414.8,367.4v9.5M410.8,371.7h9.5M415.6,366.9v9.5M411.6,371.9h9.5M416.4,367.2v9.5M412.4,371.8h9.5M417.2,367v9.5M413.2,371.8h9.5M418,367.1v9.5M414,372.2h9.5M418.8,367.5v9.5M414.8,371.4h9.5M419.6,366.7v9.5M415.6,372.1h9.5M420.4,367.3v9.5M416.4,371.8h9.5M421.2,367.1v9.5M417.2,372.2h9.5M422,367.5v9.5M418,371.9h9.5M422.8,367.1v9.5M418.8,371.7h9.5M423.6,366.9v9.5M419.6,371.9h9.5M424.4,367.2v9.5M420.4,372h9.5M425.2,367.3v9.5M421.2,371.9h9.5M426,367.1v9.5M422,372h9.5M426.8,367.2v9.5M422.8,371.7h9.5M427.6,367v9.5M423.6,371.4h9.5M428.4,366.6v9.5M424.4,372.1h9.5M429.2,367.3v9.5M425.2,372h9.5M430,367.2v9.5M426,371.8h9.5M430.8,367.1v9.5M426.8,371.8h9.5M431.6,367v9.5M427.6,372h9.5M432.4,367.2v9.5M428.4,371.5h9.5M433.2,366.7v9.5M429.2,371.3h9.5M434,366.5v9.5M430,371.2h9.5M434.8,366.4v9.5M430.8,371.2h9.5M435.6,366.4v9.5M431,370.3h9.5M435.8,365.6v9.5M431.2,370.9h9.5M436,366.1v9.5M431.4,370.2h9.5M436.2,365.4v9.5M431.6,369.8h9.5M436.4,365.1v9.5M431.8,370.2h9.5M436.5,365.4v9.5M432,369.5h9.5M436.7,364.7v9.5M432.2,368.7h9.5M436.9,363.9v9.5M432.4,368.4h9.5M437.1,363.6v9.5M432.6,368h9.5M437.3,363.2v9.5M432.7,367h9.5M437.5,362.2v9.5M432.9,365h9.5M437.7,360.3v9.5M433.1,362.8h9.5M437.9,358v9.5M433.3,358.1h9.5M438.1,353.3v9.5M433.5,347.3h9.5M438.3,342.5v9.5M433.7,325.1h9.5M438.4,320.3v9.5M435,312.2h9.5M439.8,307.4v9.5M435.2,339.3h9.5M440,334.6v9.5M435.4,353.1h9.5M440.2,348.3v9.5M435.6,359.7h9.5M440.3,355v9.5M435.8,363h9.5M440.5,358.2v9.5M436,364.7h9.5M440.7,359.9v9.5M436.2,366.3h9.5M440.9,361.5v9.5M436.4,366.7h9.5M441.1,361.9v9.5M436.5,367.9h9.5M441.3,363.2v9.5M436.7,368.3h9.5M441.5,363.5v9.5M436.9,369.3h9.5M441.7,364.6v9.5M437.1,369.7h9.5M441.9,365v9.5M437.3,369.2h9.5M442.1,364.4v9.5M437.5,369.6h9.5M442.2,364.9v9.5M437.7,370.3h9.5M442.4,365.6v9.5M437.9,370.6h9.5M442.6,365.8v9.5M438.1,370.7h9.5M442.8,366v9.5M438.3,370.6h9.5M443,365.9v9.5M438.4,370.9h9.5M443.2,366.2v9.5M438.6,371.1h9.5M443.4,366.3v9.5M438.8,371h9.5M443.6,366.2v9.5M439.6,371.6h9.5M444.4,366.8v9.5M440.4,371h9.5M445.2,366.3v9.5M441.2,371.8h9.5M446,367v9.5M442,371.4h9.5M446.8,366.7v9.5M442.8,372h9.5M447.6,367.3v9.5M443.6,371.7h9.5M448.4,367v9.5M444.4,371.5h9.5M449.2,366.8v9.5M445.2,371.8h9.5M450,367.1v9.5M446,371.3h9.5M450.8,366.6v9.5M446.8,371.1h9.5M451.6,366.3v9.5M447.6,370.4h9.5M452.4,365.6v9.5M447.8,370.5h9.5M452.6,365.8v9.5M448,370.4h9.5M452.8,365.6v9.5M448.2,370.1h9.5M452.9,365.4v9.5M448.4,369.3h9.5M453.1,364.5v9.5M448.6,368.8h9.5M453.3,364v9.5M448.8,367.2h9.5M453.5,362.4v9.5M449,364.6h9.5M453.7,359.9v9.5M449.1,359h9.5M453.9,354.2v9.5M449.3,346.5h9.5M454.1,341.8v9.5M449.5,323.4h9.5M454.3,318.7v9.5M450.5,323.6h9.5M455.2,318.9v9.5M450.7,342.8h9.5M455.4,338.1v9.5M450.9,355.5h9.5M455.6,350.8v9.5M451,362h9.5M455.8,357.2v9.5M451.2,365.7h9.5M456,361v9.5M451.4,367.5h9.5M456.2,362.8v9.5M451.6,368.3h9.5M456.4,363.6v9.5M451.8,369.6h9.5M456.6,364.9v9.5M452,369.8h9.5M456.7,365v9.5M452.2,370.5h9.5M456.9,365.8v9.5M452.4,370.6h9.5M457.1,365.9v9.5M452.6,370.5h9.5M457.3,365.7v9.5M452.8,370.7h9.5M457.5,366v9.5M452.9,371.1h9.5M457.7,366.4v9.5M453.1,371.2h9.5M457.9,366.4v9.5M453.3,371.3h9.5M458.1,366.5v9.5M454.1,371.5h9.5M458.9,366.8v9.5M454.9,371.3h9.5M459.7,366.6v9.5M455.7,371.8h9.5M460.5,367.1v9.5M456.5,371.5h9.5M461.3,366.7v9.5M457.3,372h9.5M462.1,367.3v9.5M458.1,371.6h9.5M462.9,366.9v9.5M458.9,369.3h9.5M463.7,364.6v9.5M459.1,367.5h9.5M463.9,362.8v9.5M459.3,365.5h9.5M464.1,360.8v9.5M459.5,364.4h9.5M464.2,359.6v9.5M459.7,365.4h9.5M464.4,360.6v9.5M459.9,367.3h9.5M464.6,362.6v9.5M460.1,368.8h9.5M464.8,364.1v9.5M460.3,370.2h9.5M465,365.5v9.5M460.4,371.6h9.5M465.2,366.9v9.5M460.6,371.3h9.5M465.4,366.5v9.5M460.8,371.9h9.5M465.6,367.2v9.5M461.6,371.6h9.5M466.4,366.9v9.5M462.4,372.1h9.5M467.2,367.4v9.5M463.2,372h9.5M468,367.2v9.5M464,372h9.5M468.8,367.2v9.5M464.8,372h9.5M469.6,367.3v9.5M465.6,372.2h9.5M470.4,367.4v9.5M466.4,371.3h9.5M471.2,366.6v9.5M466.6,371.1h9.5M471.4,366.4v9.5M466.8,370.6h9.5M471.6,365.8v9.5M467,370.7h9.5M471.7,365.9v9.5M467.2,369.9h9.5M471.9,365.2v9.5M467.4,369.2h9.5M472.1,364.4v9.5M467.6,366.7h9.5M472.3,362v9.5M467.8,363h9.5M472.5,358.3v9.5M467.9,356h9.5M472.7,351.2v9.5M468.1,350.3h9.5M472.9,345.5v9.5M468.3,349.1h9.5M473.1,344.3v9.5M468.5,351.7h9.5M473.3,347v9.5M468.7,355.9h9.5M473.5,351.2v9.5M468.9,359.3h9.5M473.6,354.6v9.5M469.1,359.9h9.5M473.8,355.1v9.5M469.3,357.1h9.5M474,352.4v9.5M469.5,347.4h9.5M474.2,342.6v9.5M469.7,326.1h9.5M474.4,321.3v9.5M470.6,304.4h9.5M475.4,299.7v9.5M470.8,329.6h9.5M475.5,324.8v9.5M471,347.4h9.5M475.7,342.7v9.5M471.2,357.7h9.5M475.9,352.9v9.5M471.4,362.7h9.5M476.1,358v9.5M471.6,365.3h9.5M476.3,360.6v9.5M471.7,366.8h9.5M476.5,362v9.5M471.9,368h9.5M476.7,363.3v9.5M472.1,368.5h9.5M476.9,363.8v9.5M472.3,369.7h9.5M477.1,365v9.5M472.5,369.8h9.5M477.3,365v9.5M472.7,370.4h9.5M477.4,365.7v9.5M472.9,371h9.5M477.6,366.3v9.5M473.1,371.1h9.5M477.8,366.4v9.5M473.3,370.7h9.5M478,365.9v9.5M473.5,371.4h9.5M478.2,366.7v9.5M473.6,371.6h9.5M478.4,366.9v9.5M473.8,371.2h9.5M478.6,366.5v9.5M474.6,371.5h9.5M479.4,366.8v9.5M475.4,372h9.5M480.2,367.2v9.5M476.2,371.7h9.5M481,367v9.5M477,372.6h9.5M481.8,367.9v9.5M477.8,371.8h9.5M482.6,367.1v9.5M478.6,372h9.5M483.4,367.3v9.5M479.4,372.3h9.5M484.2,367.6v9.5M480.2,372.4h9.5M485,367.6v9.5M481,372.5h9.5M485.8,367.7v9.5M481.8,372.5h9.5M486.6,367.8v9.5M482.6,372.4h9.5M487.4,367.7v9.5M483.4,372.8h9.5M488.2,368.1v9.5M484.2,372h9.5M489,367.3v9.5M485,372.5h9.5M489.8,367.8v9.5M485.8,372.3h9.5M490.6,367.6v9.5M486.6,372.5h9.5M491.4,367.8v9.5M487.4,372.6h9.5M492.2,367.8v9.5M488.2,372.2h9.5M493,367.5v9.5M489,372.3h9.5M493.8,367.5v9.5M489.8,372.6h9.5M494.6,367.8v9.5M490.6,372.4h9.5M495.4,367.6v9.5M491.4,371.9h9.5M496.2,367.1v9.5M492.2,372.1h9.5M497,367.4v9.5M493,370.9h9.5M497.8,366.2v9.5M493.2,369.5h9.5M498,364.8v9.5M493.4,369.1h9.5M498.2,364.3v9.5M493.6,367.7h9.5M498.4,363v9.5M493.8,363.7h9.5M498.5,359v9.5M494,355.5h9.5M498.7,350.7v9.5M494.2,340.5h9.5M498.9,335.8v9.5M494.4,319.5h9.5M499.1,314.7v9.5M494.6,300.9h9.5M499.3,296.2v9.5M494.7,299.4h9.5M499.5,294.6v9.5M494.9,312.9h9.5M499.7,308.1v9.5M495.1,330.4h9.5M499.9,325.7v9.5M495.3,346h9.5M500.1,341.2v9.5M495.5,356.6h9.5M500.3,351.8v9.5M495.7,363.3h9.5M500.4,358.5v9.5M495.9,366.4h9.5M500.6,361.7v9.5M496.1,368.4h9.5M500.8,363.6v9.5M496.3,369.7h9.5M501,365v9.5M496.5,370.2h9.5M501.2,365.4v9.5M496.6,370.7h9.5M501.4,365.9v9.5M496.8,371h9.5M501.6,366.2v9.5M497,371.2h9.5M501.8,366.4v9.5M497.2,371.3h9.5M502,366.6v9.5M497.4,371.5h9.5M502.2,366.7v9.5M497.6,371.9h9.5M502.3,367.1v9.5M498.4,371.8h9.5M503.1,367v9.5M499.2,372.7h9.5M503.9,367.9v9.5M500,372.4h9.5M504.7,367.7v9.5M500.8,372.3h9.5M505.5,367.5v9.5M501.6,372.4h9.5M506.3,367.6v9.5M502.4,372.3h9.5M507.1,367.5v9.5M503.2,370.8h9.5M507.9,366.1v9.5M503.4,370.1h9.5M508.1,365.3v9.5M503.6,370.6h9.5M508.3,365.9v9.5M503.8,370.6h9.5M508.5,365.8v9.5M504,370.9h9.5M508.7,366.2v9.5M504.1,371.7h9.5M508.9,366.9v9.5M504.3,371.7h9.5M509.1,367v9.5M504.5,372.4h9.5M509.3,367.6v9.5M505.3,372.9h9.5M510.1,368.2v9.5M506.1,372.9h9.5M510.9,368.1v9.5M506.9,372.4h9.5M511.7,367.6v9.5M507.7,372.5h9.5M512.5,367.8v9.5M508.5,373.2h9.5M513.3,368.5v9.5M509.3,372.9h9.5M514.1,368.1v9.5M510.1,372.8h9.5M514.9,368v9.5M510.9,373.1h9.5M515.7,368.3v9.5M511.7,373.2h9.5M516.5,368.5v9.5M512.5,373.1h9.5M517.3,368.4v9.5M513.3,372.8h9.5M518.1,368.1v9.5M514.1,372.8h9.5M518.9,368.1v9.5M514.9,372.9h9.5M519.7,368.1v9.5M515.7,372.4h9.5M520.5,367.6v9.5M516.5,371.8h9.5M521.3,367.1v9.5M516.7,371.9h9.5M521.5,367.1v9.5M516.9,371.1h9.5M521.7,366.3v9.5M517.1,370.1h9.5M521.8,365.3v9.5M517.3,367.5h9.5M522,362.8v9.5M517.5,363.8h9.5M522.2,359v9.5M517.7,358.2h9.5M522.4,353.5v9.5M517.9,356h9.5M522.6,351.2v9.5M518,357.6h9.5M522.8,352.9v9.5M518.2,361.5h9.5M523,356.8v9.5M518.4,365.5h9.5M523.2,360.8v9.5M518.6,368.1h9.5M523.4,363.3v9.5M518.8,369.9h9.5M523.6,365.1v9.5M519,370.7h9.5M523.7,365.9v9.5M519.2,371.4h9.5M523.9,366.7v9.5M519.4,372.1h9.5M524.1,367.4v9.5M519.6,372.2h9.5M524.3,367.4v9.5M520.4,372.3h9.5M525.1,367.5v9.5M521.2,372.6h9.5M525.9,367.9v9.5M522,372.8h9.5M526.7,368.1v9.5M522.8,373h9.5M527.5,368.2v9.5M523.6,372.7h9.5M528.3,368v9.5M524.4,372.8h9.5M529.1,368.1v9.5M525.2,372.5h9.5M529.9,367.7v9.5M526,372.6h9.5M530.7,367.9v9.5M526.8,373.4h9.5M531.5,368.6v9.5M527.6,372.5h9.5M532.3,367.7v9.5M528.4,372.9h9.5M533.1,368.1v9.5M529.2,373h9.5M533.9,368.3v9.5M530,372.9h9.5M534.7,368.1v9.5M530.8,372.8h9.5M535.5,368v9.5M531.6,373h9.5M536.3,368.2v9.5M532.4,373h9.5M537.1,368.3v9.5M533.2,373h9.5M537.9,368.2v9.5M534,372.6h9.5M538.7,367.8v9.5M534.8,373h9.5M539.5,368.2v9.5M535.6,372.8h9.5M540.3,368.1v9.5M536.4,372.9h9.5M541.1,368.1v9.5M537.2,373.1h9.5M541.9,368.4v9.5M538,373.2h9.5M542.7,368.5v9.5M538.8,373.3h9.5M543.5,368.6v9.5M539.6,372.9h9.5M544.3,368.2v9.5M540.4,373.3h9.5M545.1,368.6v9.5M541.2,373.4h9.5M545.9,368.7v9.5M542,373.4h9.5M546.7,368.6v9.5M542.8,373.5h9.5M547.5,368.7v9.5M543.6,373.1h9.5M548.3,368.3v9.5M544.4,373.1h9.5M549.1,368.3v9.5M545.2,373.3h9.5M549.9,368.6v9.5M546,372.8h9.5M550.7,368v9.5M546.8,373.2h9.5M551.5,368.4v9.5M547.6,373h9.5M552.3,368.2v9.5M548.4,373h9.5M553.1,368.3v9.5M549.2,372.7h9.5M553.9,367.9v9.5M550,372.9h9.5M554.7,368.2v9.5M550.8,373.2h9.5M555.5,368.4v9.5M551.6,373.4h9.5M556.3,368.7v9.5M552.4,373.4h9.5M557.1,368.7v9.5M553.2,373.2h9.5M557.9,368.4v9.5M554,373.1h9.5M558.7,368.4v9.5M554.8,373h9.5M559.5,368.2v9.5M555.6,373.3h9.5M560.3,368.5v9.5M556.4,373.1h9.5M561.1,368.4v9.5M557.2,373.4h9.5M561.9,368.6v9.5M558,373.7h9.5M562.7,368.9v9.5M558.8,373.2h9.5M563.5,368.4v9.5M559.6,372.8h9.5M564.3,368v9.5M560.4,373h9.5M565.1,368.2v9.5M561.2,372.8h9.5M565.9,368.1v9.5M562,372.9h9.5M566.7,368.1v9.5M562.8,373.5h9.5M567.5,368.8v9.5M563.6,373.2h9.5M568.3,368.5v9.5M564.4,372.7h9.5M569.1,368v9.5M565.2,373.2h9.5M569.9,368.5v9.5M566,373.1h9.5M570.7,368.4v9.5M566.8,369.8h9.5M571.5,365v9.5M566.9,368.7h9.5M571.7,364v9.5M567.1,368.7h9.5M571.9,363.9v9.5M567.3,369.5h9.5M572.1,364.7v9.5M567.5,370.4h9.5M572.3,365.7v9.5M567.7,371.3h9.5M572.5,366.6v9.5M567.9,371.9h9.5M572.6,367.1v9.5M568.1,372.1h9.5M572.8,367.3v9.5M568.3,372.2h9.5M573,367.4v9.5M568.5,371.8h9.5M573.2,367v9.5M568.7,370.6h9.5M573.4,365.9v9.5M568.9,369.8h9.5M573.6,365v9.5M569,367.4h9.5M573.8,362.6v9.5M569.2,362.7h9.5M574,357.9v9.5M569.4,356.7h9.5M574.2,352v9.5M569.6,350.3h9.5M574.4,345.6v9.5M569.8,348.8h9.5M574.6,344v9.5M570,353h9.5M574.7,348.2v9.5M570.2,358.4h9.5M574.9,353.6v9.5M570.4,363.5h9.5M575.1,358.7v9.5M570.6,367.1h9.5M575.3,362.4v9.5M570.8,368.4h9.5M575.5,363.7v9.5M570.9,367.2h9.5M575.7,362.4v9.5M571.1,363.4h9.5M575.9,358.7v9.5M571.3,359.5h9.5M576.1,354.7v9.5M571.5,356.7h9.5M576.3,352v9.5M571.7,357.4h9.5M576.5,352.6v9.5M571.9,360.8h9.5M576.6,356v9.5M572.1,364.6h9.5M576.8,359.9v9.5M572.3,367.2h9.5M577,362.5v9.5M572.5,369.2h9.5M577.2,364.5v9.5M572.7,371.3h9.5M577.4,366.6v9.5M572.8,371.5h9.5M577.6,366.8v9.5M573,371.7h9.5M577.8,367v9.5M573.2,372.4h9.5M578,367.6v9.5M573.4,372.6h9.5M578.2,367.8v9.5M574.2,372.7h9.5M579,367.9v9.5M575,373.3h9.5M579.8,368.5v9.5M575.8,373h9.5M580.6,368.3v9.5M576.6,373h9.5M581.4,368.2v9.5M577.4,373.3h9.5M582.2,368.5v9.5M578.2,373.5h9.5M583,368.7v9.5M579,373.1h9.5M583.8,368.4v9.5M579.8,373.4h9.5M584.6,368.7v9.5M580.6,373.3h9.5M585.4,368.6v9.5M581.4,373.8h9.5M586.2,369.1v9.5M582.2,373.2h9.5M587,368.4v9.5M583,373.8h9.5M587.8,369v9.5M583.8,373.4h9.5M588.6,368.6v9.5M584.6,373.4h9.5M589.4,368.6v9.5M585.4,373.6h9.5M590.2,368.9v9.5M586.2,373.7h9.5M591,368.9v9.5M587,373.8h9.5M591.8,369v9.5M587.8,373.5h9.5M592.6,368.8v9.5M588.6,373.3h9.5M593.4,368.5v9.5M589.4,373.3h9.5M594.2,368.6v9.5M590.2,373.6h9.5M595,368.8v9.5M591,373.6h9.5M595.8,368.9v9.5M591.8,373.8h9.5M596.6,369.1v9.5M592.6,373.6h9.5M597.4,368.8v9.5M593.4,373.8h9.5M598.2,369v9.5M594.2,373.9h9.5M599,369.1v9.5M595,373.5h9.5M599.8,368.8v9.5M595.8,373.1h9.5M600.6,368.3v9.5M596.6,373.2h9.5M601.4,368.4v9.5M597.4,373.1h9.5M602.2,368.4v9.5M598.2,373.9h9.5M603,369.2v9.5M599,373.3h9.5M603.8,368.5v9.5M599.8,373.8h9.5M604.6,369.1v9.5M600.6,373.7h9.5M605.4,368.9v9.5M601.4,374h9.5M606.2,369.2v9.5M602.2,373.8h9.5M607,369v9.5M603,373.4h9.5M607.8,368.7v9.5M603.8,373.3h9.5M608.6,368.6v9.5M604.6,373.3h9.5M609.4,368.6v9.5M605.4,373.1h9.5M610.2,368.3v9.5M605.6,372.5h9.5M610.3,367.7v9.5M605.8,371.7h9.5M610.5,366.9v9.5M606,370.4h9.5M610.7,365.7v9.5M606.2,367.3h9.5M610.9,362.6v9.5M606.4,366.1h9.5M611.1,361.4v9.5M606.6,366.1h9.5M611.3,361.3v9.5M606.7,368.1h9.5M611.5,363.4v9.5M606.9,370.4h9.5M611.7,365.7v9.5M607.1,372h9.5M611.9,367.2v9.5M607.3,373.3h9.5M612.1,368.5v9.5M607.5,373.1h9.5M612.3,368.4v9.5M607.7,374h9.5M612.4,369.2v9.5M607.9,373.4h9.5M612.6,368.7v9.5M608.1,373.6h9.5M612.8,368.9v9.5M608.9,373.4h9.5M613.6,368.6v9.5M609.7,372.9h9.5M614.4,368.2v9.5M610.5,373.2h9.5M615.2,368.5v9.5M611.3,373.5h9.5M616,368.7v9.5M612.1,373.8h9.5M616.8,369.1v9.5M612.9,373.5h9.5M617.6,368.7v9.5M613.7,373.4h9.5M618.4,368.6v9.5M614.5,372.9h9.5M619.2,368.1v9.5M615.3,373.5h9.5M620,368.7v9.5M616.1,373.3h9.5M620.8,368.6v9.5M616.9,372.4h9.5M621.6,367.7v9.5M617.1,372.2h9.5M621.8,367.4v9.5M617.3,371.6h9.5M622,366.9v9.5M617.4,372h9.5M622.2,367.3v9.5M617.6,372h9.5M622.4,367.2v9.5M617.8,371.3h9.5M622.6,366.6v9.5M618,371h9.5M622.8,366.2v9.5M618.2,370.1h9.5M623,365.3v9.5M618.4,368.7h9.5M623.1,364v9.5M618.6,367.8h9.5M623.3,363.1v9.5M618.8,364.3h9.5M623.5,359.5v9.5M619,358.8h9.5M623.7,354v9.5M619.2,347.6h9.5M623.9,342.8v9.5M619.3,328.1h9.5M624.1,323.4v9.5M619.5,299.9h9.5M624.3,295.1v9.5M620.5,311.3h9.5M625.2,306.5v9.5M620.7,334.1h9.5M625.4,329.3v9.5M620.9,349.9h9.5M625.6,345.1v9.5M621.1,359.3h9.5M625.8,354.5v9.5M621.2,363.8h9.5M626,359v9.5M621.4,366.3h9.5M626.2,361.5v9.5M621.6,367.6h9.5M626.4,362.9v9.5M621.8,369h9.5M626.6,364.3v9.5M622,369.8h9.5M626.8,365.1v9.5M622.2,370.8h9.5M626.9,366v9.5M622.4,370.4h9.5M627.1,365.6v9.5M622.6,371h9.5M627.3,366.3v9.5M622.8,371.8h9.5M627.5,367v9.5M623,371.7h9.5M627.7,367v9.5M623.1,371.9h9.5M627.9,367.2v9.5M623.3,372.6h9.5M628.1,367.9v9.5M623.5,372.2h9.5M628.3,367.5v9.5M623.7,372.2h9.5M628.5,367.4v9.5M623.9,372.2h9.5M628.7,367.5v9.5M624.7,373h9.5M629.5,368.3v9.5M625.5,373.3h9.5M630.3,368.5v9.5M626.3,372.9h9.5M631.1,368.2v9.5M627.1,373.1h9.5M631.9,368.4v9.5M627.9,373.6h9.5M632.7,368.9v9.5M628.7,373.7h9.5M633.5,368.9v9.5M629.5,373.4h9.5M634.3,368.7v9.5M630.3,373.8h9.5M635.1,369v9.5M631.1,373.8h9.5M635.9,369.1v9.5M631.9,373.2h9.5M636.7,368.5v9.5M632.7,373.6h9.5M637.5,368.9v9.5M633.5,373.8h9.5M638.3,369.1v9.5M634.3,373.6h9.5M639.1,368.8v9.5M635.1,373.3h9.5M639.9,368.5v9.5M635.9,373.7h9.5M640.7,368.9v9.5M636.7,374h9.5M641.5,369.2v9.5M637.5,374.2h9.5M642.3,369.5v9.5M638.3,373.3h9.5M643.1,368.6v9.5M639.1,374.3h9.5M643.9,369.5v9.5M639.9,373.5h9.5M644.7,368.8v9.5M640.7,374.1h9.5M645.5,369.3v9.5M641.5,374.2h9.5M646.3,369.4v9.5M642.3,374.1h9.5M647.1,369.4v9.5M643.1,373.9h9.5M647.9,369.2v9.5M643.9,373.6h9.5M648.7,368.8v9.5M644.7,374h9.5M649.5,369.3v9.5M645.5,373.7h9.5M650.3,368.9v9.5M646.3,373.4h9.5M651.1,368.7v9.5M647.1,374.4h9.5M651.9,369.6v9.5M647.9,374.1h9.5M652.7,369.4v9.5M648.7,374.4h9.5M653.5,369.6v9.5M649.5,373.7h9.5M654.3,368.9v9.5M650.3,374.3h9.5M655.1,369.6v9.5M651.1,374.4h9.5M655.9,369.6v9.5M651.9,374.4h9.5M656.7,369.6v9.5M652.7,373.9h9.5M657.5,369.2v9.5M653.5,373.6h9.5M658.3,368.9v9.5M654.3,373.9h9.5M659.1,369.2v9.5M655.1,373.5h9.5M659.9,368.8v9.5M655.9,373.5h9.5M660.7,368.8v9.5M656.7,374h9.5M661.5,369.2v9.5M657.5,373.7h9.5M662.3,369v9.5M658.3,373.9h9.5M663.1,369.2v9.5M659.1,373.9h9.5M663.9,369.2v9.5M659.9,374.4h9.5M664.6,369.7v9.5M660.7,374.3h9.5M665.4,369.6v9.5M661.5,374h9.5M666.2,369.2v9.5M662.3,374.3h9.5M667,369.6v9.5M663.1,373.8h9.5M667.8,369v9.5M663.9,373.9h9.5M668.6,369.1v9.5M664.7,374.2h9.5M669.4,369.5v9.5M665.5,373.6h9.5M670.2,368.9v9.5M666.3,373.9h9.5M671,369.2v9.5M667.1,373.6h9.5M671.8,368.9v9.5M667.9,374h9.5M672.6,369.3v9.5M668.7,374.4h9.5M673.4,369.7v9.5M669.5,373.8h9.5M674.2,369v9.5M670.3,374h9.5M675,369.3v9.5M671.1,373.7h9.5M675.8,369v9.5M671.9,373.7h9.5M676.6,368.9v9.5M672.7,373.6h9.5M677.4,368.9v9.5M673.5,374.4h9.5M678.2,369.6v9.5M674.3,374.4h9.5M679,369.7v9.5M675.1,374.1h9.5M679.8,369.3v9.5M675.9,373.8h9.5M680.6,369v9.5M676.7,374.2h9.5M681.4,369.4v9.5M677.5,373.9h9.5M682.2,369.1v9.5M678.3,374.2h9.5M683,369.4v9.5M679.1,374h9.5M683.8,369.3v9.5M679.9,374h9.5M684.6,369.3v9.5M680.7,374.1h9.5M685.4,369.4v9.5M681.5,373.8h9.5M686.2,369v9.5M682.3,373.8h9.5M687,369.1v9.5M683.1,373.5h9.5M687.8,368.7v9.5M683.9,373.8h9.5M688.6,369.1v9.5M684.7,373.6h9.5M689.4,368.8v9.5M685.5,373.9h9.5M690.2,369.1v9.5M686.3,373.7h9.5M691,368.9v9.5M687.1,373.9h9.5M691.8,369.2v9.5M687.9,374h9.5M692.6,369.3v9.5M688.7,373.5h9.5M693.4,368.8v9.5M689.5,373.7h9.5M694.2,368.9v9.5M690.3,373.6h9.5M695,368.9v9.5M691.1,374h9.5M695.8,369.3v9.5M691.9,374.3h9.5M696.6,369.5v9.5M692.7,374h9.5M697.4,369.3v9.5M693.5,373.6h9.5M698.2,368.9v9.5M694.3,374h9.5M699,369.3v9.5M695.1,373.1h9.5M699.8,368.4v9.5M695.9,373.8h9.5M700.6,369v9.5M696.7,372.9h9.5M701.4,368.1v9.5M697.5,372h9.5M702.2,367.3v9.5M697.7,372.7h9.5M702.4,368v9.5M697.9,372.4h9.5M702.6,367.7v9.5M698.1,371.4h9.5M702.8,366.6v9.5M698.3,371.3h9.5M703,366.5v9.5M698.4,370.6h9.5M703.2,365.9v9.5M698.6,370h9.5M703.4,365.2v9.5M698.8,368.6h9.5M703.6,363.8v9.5M699,367.2h9.5M703.8,362.4v9.5M699.2,364.6h9.5M704,359.8v9.5M699.4,358.8h9.5M704.1,354.1v9.5M699.6,348.3h9.5M704.3,343.5v9.5M699.8,330.2h9.5M704.5,325.4v9.5M700,306.4h9.5M704.7,301.7v9.5M700.7,301.8h9.5M705.5,297.1v9.5M700.9,324.2h9.5M705.7,319.4v9.5M701.1,341.2h9.5M705.9,336.5v9.5M701.3,353.7h9.5M706,349v9.5M701.5,360.9h9.5M706.2,356.1v9.5M701.7,364.6h9.5M706.4,359.9v9.5M701.9,367h9.5M706.6,362.3v9.5M702.1,368.3h9.5M706.8,363.5v9.5M702.2,369.2h9.5M707,364.4v9.5M702.4,370.2h9.5M707.2,365.5v9.5M702.6,370.8h9.5M707.4,366v9.5M702.8,370.9h9.5M707.6,366.1v9.5M703,371.2h9.5M707.8,366.4v9.5M703.2,371.8h9.5M707.9,367.1v9.5M703.4,372h9.5M708.1,367.2v9.5M703.6,372.5h9.5M708.3,367.8v9.5M703.8,372.9h9.5M708.5,368.1v9.5M704,372.8h9.5M708.7,368v9.5M704.1,372.7h9.5M708.9,367.9v9.5M704.3,372.8h9.5M709.1,368v9.5M705.1,372.9h9.5M709.9,368.2v9.5M705.9,373.1h9.5M710.7,368.4v9.5M706.7,373.3h9.5M711.5,368.5v9.5M707.5,373.5h9.5M712.3,368.8v9.5M708.3,373.6h9.5M713.1,368.8v9.5M709.1,373.9h9.5M713.9,369.2v9.5M709.9,373.7h9.5M714.7,368.9v9.5M710.7,373.8h9.5M715.5,369v9.5M711.5,373.5h9.5M716.3,368.8v9.5M712.3,374.3h9.5M717.1,369.5v9.5M713.1,374h9.5M717.9,369.3v9.5M713.9,374.3h9.5M718.7,369.6v9.5M714.7,374.1h9.5M719.5,369.4v9.5M715.5,374.3h9.5M720.3,369.5v9.5M716.3,373.8h9.5M721.1,369.1v9.5M717.1,374.1h9.5M721.9,369.3v9.5M717.9,374.4h9.5M722.7,369.6v9.5M718.7,373.6h9.5M723.5,368.8v9.5M719.5,374.2h9.5M724.3,369.5v9.5M720.3,374.4h9.5M725.1,369.6v9.5M721.1,374h9.5M725.9,369.3v9.5M721.9,374.1h9.5M726.7,369.4v9.5M722.7,374.2h9.5M727.5,369.5v9.5M723.5,373.7h9.5M728.3,368.9v9.5M724.3,374h9.5M729.1,369.2v9.5M725.1,373.6h9.5M729.9,368.8v9.5M725.9,373.5h9.5M730.7,368.8v9.5M726.7,373.4h9.5M731.5,368.7v9.5M727.5,373.3h9.5M732.3,368.5v9.5M728.3,372.8h9.5M733.1,368.1v9.5M728.5,372.6h9.5M733.3,367.9v9.5M728.7,371.5h9.5M733.5,366.8v9.5M728.9,371.1h9.5M733.7,366.3v9.5M729.1,368.2h9.5M733.8,363.5v9.5M729.3,363.4h9.5M734,358.7v9.5M729.5,356.6h9.5M734.2,351.9v9.5M729.7,350.2h9.5M734.4,345.5v9.5M729.9,347.7h9.5M734.6,342.9v9.5M730,349.9h9.5M734.8,345.1v9.5M730.2,354.2h9.5M735,349.4v9.5M730.4,360.3h9.5M735.2,355.5v9.5M730.6,365.1h9.5M735.4,360.3v9.5M730.8,367.5h9.5M735.6,362.7v9.5M731,370.3h9.5M735.7,365.6v9.5M731.2,371.4h9.5M735.9,366.6v9.5M731.4,371.9h9.5M736.1,367.2v9.5M731.6,372.8h9.5M736.3,368v9.5M731.8,372.3h9.5M736.5,367.6v9.5M731.9,372.9h9.5M736.7,368.2v9.5M732.1,373.4h9.5M736.9,368.7v9.5M732.9,373.4h9.5M737.7,368.6v9.5M733.7,373.5h9.5M738.5,368.8v9.5M734.5,373.8h9.5M739.3,369v9.5M735.3,373.7h9.5M740.1,368.9v9.5M736.1,374.3h9.5M740.9,369.5v9.5M736.9,373.6h9.5M741.7,368.9v9.5M737.7,374.1h9.5M742.5,369.4v9.5M738.5,373.6h9.5M743.3,368.8v9.5M739.3,374.1h9.5M744.1,369.4v9.5M740.1,373.9h9.5M744.9,369.2v9.5M740.9,373.5h9.5M745.7,368.7v9.5M741.7,373.9h9.5M746.5,369.2v9.5M742.5,373.7h9.5M747.3,368.9v9.5M743.3,373.8h9.5M748.1,369.1v9.5M744.1,374.4h9.5M748.9,369.6v9.5M744.9,373.7h9.5M749.7,368.9v9.5M745.7,373.7h9.5M750.5,368.9v9.5M746.5,374.4h9.5M751.3,369.6v9.5M160.8,297h9.5M165.6,292.2v9.5M185.1,161h9.5M189.8,156.2v9.5M185.8,170.8h9.5M190.5,166.1v9.5M185.1,223.2h9.5M189.8,218.4v9.5M185.8,244.9h9.5M190.5,240.2v9.5M185.1,292.7h9.5M189.8,287.9v9.5M347.1,276.4h9.5M351.8,271.6v9.5M347.8,281.9h9.5M352.6,277.1v9.5M391.4,8.1h9.5M396.1,3.3v9.5M392.1,42.4h9.5M396.9,37.6v9.5M391.4,91.1h9.5M396.1,86.3v9.5M392.1,153.9h9.5M396.9,149.2v9.5M391.4,210h9.5M396.1,205.2v9.5M392.1,249.6h9.5M396.9,244.8v9.5M391.4,293.8h9.5M396.1,289.1v9.5M434,164.5h9.5M438.8,159.8v9.5M434.7,194.2h9.5M439.5,189.4v9.5M434,206.8h9.5M438.8,202.1v9.5M434.7,259.9h9.5M439.5,255.1v9.5M434,278h9.5M438.8,273.2v9.5M449.6,272.2h9.5M454.3,267.4v9.5M450.3,289.6h9.5M455.1,284.9v9.5M449.6,290.7h9.5M454.3,285.9v9.5M469.7,255.4h9.5M474.4,250.7v9.5M470.4,273h9.5M475.2,268.2v9.5M469.7,274.1h9.5M474.4,269.4v9.5M494.4,295.9h9.5M499.1,291.1v9.5M619.6,253.8h9.5M624.4,249.1v9.5M620.3,268.7h9.5M625.1,263.9v9.5M619.6,275h9.5M624.4,270.2v9.5M700.1,268h9.5M704.9,263.2v9.5M700.8,281.3h9.5M705.6,276.6v9.5M700.1,285.5h9.5M704.9,280.8v9.5" stroke="#ff0000" stroke-width="1.35"/>
<path d="M78.1,370.24 79.6,370.05 79.8,369.9 80.1,369.2 80.3,366.6 80.6,363.7 80.8,365.87 81.1,368.5 81.3,369.6 81.6,369.9 82.3,370 82.8,369.8 83.1,369.4 83.3,367.65 83.6,362.04 83.8,358.2 83.8,358.4 84.1,363.33 84.3,367.65 84.6,369.24 84.8,369.7 85.3,369.9 86.1,369.9 86.6,369.7 86.8,369.4 87.1,368.4 87.3,363.9 87.6,354.4 87.7,352.7 87.8,355.2 88.1,363.2 88.3,367.73 88.6,369.14 88.8,369.56 89.3,369.85 90.1,369.9 90.6,369.77 90.8,369.53 91.1,368.7 91.3,365.1 91.6,357.56 91.7,356.2 91.8,358.17 92.1,364.5 92.3,368.17 92.6,369.3 92.8,369.6 93.3,369.8 93.6,369.8 93.8,369.6 94.1,368.83 94.3,365.9 94.6,362.7 94.8,365.1 95.1,368.1 95.3,369.4 95.6,369.73 96.1,369.86 96.6,369.7 96.8,369.4 97.1,368.1 97.3,363.3 97.6,358.2 97.8,362.03 98.1,366.8 98.3,368.9 98.6,369.43 98.8,369.6 99.1,369.6 99.3,369.45 99.6,369.07 99.8,367.5 100.1,361.1 100.3,351.2 100.4,350.7 100.6,355.1 100.8,363.6 101.1,367.8 101.3,369.1 101.6,369.5 102.1,369.74 102.6,369.67 102.8,369.2 103.1,367.1 103.3,363.86 103.4,363.7 103.6,365.14 103.8,367.9 104.1,369.3 104.3,369.7 104.8,369.85 105.3,369.7 105.6,369.5 105.8,368.76 106.1,365.5 106.3,357.36 106.5,354.3 106.6,355.3 106.8,362.26 107.1,367.24 107.3,369 107.6,369.5 108.1,369.8 108.8,369.86 109.1,369.8 109.3,369.44 109.6,367.9 109.8,364.1 110,362.7 110.1,363.2 110.3,366.4 110.6,368.7 110.8,369.5 111.1,369.73 111.6,369.8 111.8,369.64 112.1,369 112.6,364.7 112.8,366.3 113.1,368.3 113.3,369.15 113.6,369.27 113.8,369.1 114.1,368.76 114.3,368.03 114.6,366.04 114.8,357.3 115.1,331.7 115.3,315.1 115.3,316 115.6,337.4 115.8,357.3 116.1,365.3 116.3,367.6 116.6,368.47 116.8,368.94 117.3,369.4 117.6,369.46 117.8,369.4 118.1,368.85 118.6,364.7 118.8,366.33 119.1,368.4 119.3,369.4 119.6,369.65 120.3,369.74 120.8,369.6 121.1,369.4 121.3,369.1 121.6,368.2 121.8,364.6 122.1,354.3 122.3,347.7 122.3,348.03 122.6,356.34 122.8,364.1 123.1,367 123.3,367.36 123.6,366.6 123.8,363.5 124.1,349.3 124.3,315.4 124.5,303 124.6,307.16 124.8,335.7 125.1,356.95 125.3,364.8 125.6,367.13 125.8,368.06 126.1,368.56 126.3,368.8 126.6,368.9 126.8,368.46 127.1,366.1 127.3,360.3 127.5,358.2 127.6,358.94 127.8,363.9 128.1,367.66 128.3,369.1 128.6,369.5 129.1,369.8 129.6,369.84 129.8,369.8 130.1,369.44 130.3,368 130.6,365.2 130.7,364.7 130.8,365.4 131.1,367.8 131.3,369.3 131.6,369.8 132.1,370.07 134.8,370.25 137.6,370.2 137.8,370.1 138.1,369.86 138.3,368.86 138.6,367 138.7,366.7 138.8,367.16 139.1,368.7 139.3,369.7 139.6,370.05 140.6,370.24 142.3,370.2 142.6,370.1 142.8,369.65 143.1,368.44 143.3,367.7 143.3,367.74 143.8,369.65 144.1,370.05 144.8,370.24 147.8,370.16 148.6,369.9 148.8,369.67 149.1,368.67 149.6,362.7 149.8,364.7 150.1,367.44 150.3,368.5 150.6,368 150.8,364.1 151.1,353.56 151.3,347.1 151.3,347.46 151.6,355.94 151.8,364.3 152.1,367.95 152.3,369.1 152.6,369.5 153.1,369.9 154.3,370.15 157.3,370.2 158.6,369.94 158.8,369.8 159.1,369.5 159.3,368.6 159.6,364.94 159.8,357.05 160,354.3 160.1,355.2 160.3,361.64 160.6,366.74 160.8,368.8 161.1,369.4 161.6,369.7 162.1,369.75 162.3,369.66 162.6,369.4 162.8,368.3 163.1,365.4 163.3,363.7 163.3,363.8 163.8,367.94 164.1,368.73 164.3,368.75 164.6,368.4 164.8,367.6 165.1,365.7 165.3,358.34 165.6,333.63 165.8,300.64 165.9,299.1 166.1,313.16 166.3,342.65 166.6,359.6 166.8,365.45 167.1,367.35 167.3,368.2 167.6,368.74 168.1,369.3 168.8,369.64 169.8,369.67 170.3,369.5 170.6,369.3 170.8,368.96 171.1,368.34 171.3,366.73 171.6,360.3 171.8,341.5 172.1,324.1 172.3,337.04 172.6,355.1 172.8,364.3 173.1,367.4 173.3,368.4 173.6,368.86 173.8,369.07 174.1,368.86 174.3,367.5 174.6,365.1 174.7,364.7 174.8,365.35 175.1,367.56 175.3,369.06 175.6,369.65 176.1,369.96 178.1,370.2 180.8,370.1 181.3,370 181.6,369.7 181.8,368.7 182.1,366.17 182.3,364.7 182.3,364.8 182.8,368.65 183.1,369.56 183.3,369.85 184.3,370 186.1,369.77 186.8,369.46 187.3,369 187.6,368.5 187.8,367.16 188.1,364.14 188.3,362.2 188.3,362.15 188.6,363.34 188.8,364.16 189.1,363 189.3,358.66 189.6,342.3 189.8,285.04 190.1,190.56 190.2,175.4 190.3,197.54 190.6,277 190.8,332.35 191.1,354.15 191.3,361.15 191.6,364.05 191.8,365.7 192.1,366.77 192.3,367.5 192.6,368 193.1,368.64 193.8,369.05 194.3,369.07 194.8,368.8 195.1,368.5 195.3,367.8 195.6,366.2 195.8,360.05 196.1,340.8 196.3,316.6 196.4,315.5 196.6,325.7 196.8,347.74 197.1,361.16 197.3,366.14 197.6,367.8 197.8,368.5 198.1,368.96 198.6,369.44 199.3,369.7 199.6,369.6 199.8,369 200.1,367.53 200.3,366.7 200.3,366.75 200.8,369.15 201.1,369.76 201.3,370 202.8,370.2 213.8,370.4 220.6,370.3 221.1,370.2 221.3,369.93 221.6,369 221.8,367.27 222,366.7 222.1,366.9 222.3,368.26 222.6,369.45 222.8,370 223.3,370.25 226.1,370.3 227.8,370 228.6,369.6 228.8,369.3 229.1,368.8 229.3,367.84 229.6,364.93 229.8,354.4 230.1,331.3 230.3,318.7 230.3,319.35 230.6,336 230.8,354.4 231.1,363.84 231.3,367.2 231.6,368.4 231.8,368.96 232.3,369.6 233.1,369.96 234.1,370.1 234.3,370.05 234.9,369.4 235.1,369.57 235.3,369.9 235.6,370.16 236.6,370.34 243.1,370.36 244.1,370.2 244.3,370.1 244.6,369.6 244.8,368.17 245.1,366.03 245.2,365.7 245.3,366.16 245.6,367.9 245.8,369.2 246.1,369.7 246.3,369.8 246.6,369.5 246.8,368.3 247.1,364.86 247.3,360.9 247.4,360.7 247.6,362.35 247.8,366.1 248.1,368.6 248.3,369.6 248.6,369.94 249.3,370.23 252.1,370.37 254.1,370.2 254.6,370 254.8,369.7 255.1,368.8 255.3,366.57 255.6,364.7 255.8,365.76 256.1,367.35 256.4,367.67 256.6,365.15 256.9,356.44 257.1,343.6 257.2,341.7 257.4,344.6 257.6,355.4 257.9,363.8 258.1,367.6 258.4,368.9 258.6,369.43 259.1,369.9 260.1,370.26 263.4,370.5 266.4,370.4 266.9,370.2 267.1,369.7 267.4,368.35 267.6,366.4 267.7,366.1 267.9,366.5 268.1,368.1 268.4,369.4 268.6,369.93 268.9,370.1 269.6,370 270.1,369.6 270.4,369.13 270.6,367.9 270.9,363.47 271.1,351.9 271.4,339.05 271.4,338.5 271.6,343.7 271.9,355.8 272.1,364.15 272.4,367.7 272.6,369 272.9,369.5 273.4,370 274.4,370.36 277.4,370.6 287.4,370.64 289.6,370.44 290.6,370.06 291.1,369.54 291.4,369.04 291.6,368.1 291.9,365.3 292.1,355.9 292.4,335 292.6,318.8 292.9,330.6 293.1,349.54 293.4,361.45 293.6,366.4 293.9,368.2 294.1,369 294.4,369.4 294.9,369.94 295.9,370.34 297.6,370.46 298.6,370.24 298.9,370.1 299.1,369.8 299.4,369.04 299.6,366.5 299.9,359.66 300.1,350.35 300.2,349 300.4,351 300.6,358.8 300.9,365.2 301.1,368.3 301.4,369.4 301.6,369.9 302.1,370.25 303.4,370.5 305.1,370.45 306.1,370.14 306.6,369.76 306.9,369.4 307.1,368.9 307.4,368 307.6,366.03 307.9,359.5 308.1,340.4 308.4,309.55 308.5,300.4 308.6,303.35 308.9,326.6 309.1,349.3 309.4,361.4 309.6,366.06 309.9,367.8 310.1,368.7 310.4,369.2 310.9,369.84 311.6,370.3 313.1,370.6 316.9,370.8 318.9,370.6 319.6,370.4 320.1,370 320.4,369.5 320.6,368.15 320.9,364.8 321.1,360.34 321.2,359.5 321.4,359.77 321.6,360.86 321.9,356.2 322.1,339.9 322.4,322.1 322.4,321.4 322.6,328.8 322.9,346.5 323.1,359.5 323.4,365.56 323.6,367.75 323.9,368.4 324.1,367.9 324.4,366.07 324.6,364.7 324.9,366.04 325.1,368.1 325.4,369.45 325.6,370.1 325.9,370.36 326.9,370.7 330.1,371 343.6,371.1 347.1,370.9 348.4,370.6 348.9,370.3 349.1,370.1 349.4,369.7 349.6,368.8 349.9,366.15 350.4,354.6 350.4,354.3 350.6,355.97 350.9,360.4 351.1,362.85 351.4,360.83 351.6,348.74 351.9,317.3 352.1,277.64 352.2,272.1 352.4,280.4 352.6,313.83 352.9,342.9 353.1,358.25 353.4,364.37 353.6,366.8 353.9,368 354.1,368.75 354.4,369.3 354.9,369.93 355.6,370.45 357.1,370.9 360.9,371.2 365.9,371.23 366.4,371.14 366.6,370.9 366.9,370.3 367.1,369.2 367.3,368.7 367.4,368.7 367.6,369.4 367.9,370.3 368.1,370.86 368.4,371.1 369.4,371.3 382.1,371.36 386.4,371.15 387.6,370.86 388.1,370.6 388.4,370.3 388.6,369.85 388.9,368.7 389.1,365.1 389.4,356.9 389.6,347.05 389.7,345.7 389.9,347.65 390.1,355.8 390.4,363.2 390.6,367.24 390.9,368.9 391.1,369.5 391.4,369.8 391.9,369.9 392.6,369.7 393.1,369.25 393.6,368.5 393.9,368 394.1,367.24 394.4,366.25 394.6,364.85 394.9,362.8 395.1,359.6 395.4,354.04 395.6,340.4 395.9,298.43 396.1,193.9 396.4,46.04 396.5,5.2 396.6,18.2 396.9,125.7 397.1,240.5 397.4,309.8 397.6,340.5 397.9,352.54 398.1,358.1 398.4,361.34 398.6,363.54 398.9,365.1 399.1,366.27 399.4,367.15 399.6,367.83 400.1,368.8 400.9,369.7 401.9,370.35 403.4,370.8 404.1,370.8 404.4,370.7 404.6,370.4 404.9,369.26 405.1,366.95 405.4,364.8 405.4,364.7 405.6,365.57 405.9,367.77 406.1,369.56 406.4,370.5 406.6,370.9 407.1,371.2 409.4,371.5 420.4,371.8 430.9,371.8 433.9,371.5 435.1,371.1 435.9,370.67 436.4,370.13 436.6,369.74 436.9,369.2 437.1,368.5 437.4,367.47 437.6,365.9 437.9,363.3 438.1,357.7 438.4,341.37 438.6,297.86 438.9,222.04 439.1,171.7 439.4,207.8 439.6,272.94 439.9,322.1 440.1,347.73 440.4,358.5 440.6,363 440.9,365.4 441.1,366.87 441.4,367.9 441.6,368.7 441.9,369.26 442.4,370.05 443.1,370.73 444.4,371.3 446.6,371.7 449.6,371.73 451.1,371.5 451.9,371.2 452.4,370.8 452.6,370.5 452.9,370.05 453.1,369.4 453.4,368.35 453.6,366.34 453.9,360.95 454.1,345.6 454.4,313.7 454.6,278.35 454.7,273.7 454.9,280.6 455.1,310.14 455.4,338.6 455.6,355.8 455.9,363.65 456.1,366.9 456.4,368.4 456.6,369.3 456.9,369.9 457.4,370.7 458.1,371.3 459.4,371.7 461.6,371.95 462.9,371.8 463.1,371.67 463.4,371.26 463.6,370.1 463.9,367.7 464.1,365.04 464.2,364.7 464.4,365.2 464.9,369.6 465.1,370.9 465.4,371.5 465.6,371.75 466.6,372 469.1,371.96 470.6,371.6 471.4,371.1 471.6,370.8 471.9,370.25 472.1,369.1 472.4,366.04 472.6,359.53 472.9,351.1 473,348.7 473.1,349.1 473.4,353.86 473.6,358.84 473.9,360.05 474.1,353.64 474.4,331.9 474.6,290.6 474.9,254.56 474.9,253.2 475.1,266.96 475.4,303.8 475.6,335.74 475.9,354.2 476.1,362.6 476.4,366.1 476.6,367.84 476.9,368.9 477.1,369.6 477.4,370.15 477.9,370.85 478.6,371.44 479.9,371.9 482.6,372.3 490.1,372.5 494.6,372.4 496.1,372.1 496.9,371.75 497.4,371.3 497.6,370.9 497.9,370.3 498.1,369.3 498.4,367.27 498.6,361.57 498.9,346.9 499.1,320.8 499.4,298.55 499.4,297.7 499.6,306 499.9,328.7 500.1,348.76 500.4,360.7 500.6,366.3 500.9,368.64 501.1,369.8 501.4,370.46 501.6,370.9 502.1,371.5 502.9,372 504.4,372.36 506.9,372.5 507.4,372.3 507.6,371.9 508.1,370.3 508.2,370.2 508.4,370.36 508.9,371.8 509.1,372.23 509.4,372.46 510.4,372.66 518.1,372.77 520.4,372.6 521.1,372.24 521.4,371.96 521.6,371.3 521.9,369.54 522.1,365.34 522.4,358.77 522.6,354.7 522.9,357.6 523.1,363.1 523.4,367.6 523.6,370.2 523.9,371.4 524.1,371.95 524.6,372.37 525.9,372.7 530.9,372.93 567.4,373.2 570.1,373 570.6,372.84 570.9,372.6 571.1,372.04 571.4,370.9 571.6,369.35 571.8,368.7 571.9,368.7 572.1,369.47 572.4,370.6 572.6,371.4 572.9,371.8 573.1,371.7 573.4,371.23 573.6,369.74 573.9,365.9 574.1,358.5 574.4,349.87 574.5,347.7 574.6,348.3 574.9,354.04 575.1,360.93 575.4,365.4 575.6,366.24 575.9,363.3 576.1,358.3 576.3,356.3 576.4,356.46 576.6,359.8 576.9,364.6 577.1,368.4 577.4,370.6 577.6,371.66 577.9,372.17 578.4,372.6 579.6,373 583.1,373.3 605.9,373.5 608.9,373.36 609.6,373.2 609.9,373 610.1,372.7 610.4,371.9 610.6,369.97 610.9,366.7 611.1,363.6 611.2,363.2 611.4,363.77 611.6,366.37 611.9,369.2 612.1,371.2 612.4,372.3 612.6,372.8 613.1,373.14 614.6,373.4 618.4,373.33 620.4,373 621.4,372.6 622.1,371.9 622.4,371.55 622.6,371.04 622.9,370.3 623.1,369.27 623.4,367.5 623.6,363.6 623.9,353.63 624.1,330.76 624.4,292.4 624.6,256.1 624.7,251.7 624.9,258.24 625.1,288.5 625.4,321.6 625.6,345.26 625.9,358.4 626.1,364.6 626.4,367.5 626.6,369.05 626.9,370 627.1,370.7 627.4,371.24 627.9,371.95 628.6,372.56 629.9,373.1 632.4,373.46 640.1,373.76 667.9,374 695.4,373.86 699.6,373.6 701.1,373.2 701.9,372.8 702.4,372.36 702.9,371.6 703.1,371 703.4,370.1 703.6,368.77 703.9,366.1 704.1,359.86 704.4,345.17 704.6,317.4 704.9,281.1 705.1,261.2 705.4,275.2 705.6,304.4 705.9,331.7 706.1,350.34 706.4,360.7 706.6,365.76 706.9,368.2 707.1,369.6 707.4,370.5 707.6,371.1 708.1,371.96 708.9,372.67 710.1,373.24 712.4,373.6 718.6,373.9 729.4,373.83 731.6,373.6 732.4,373.3 732.9,372.9 733.1,372.5 733.4,371.7 733.6,369.9 733.9,365.7 734.1,358.1 734.4,348.36 734.6,343.1 734.9,346.8 735.1,354.6 735.4,362 735.6,367.2 735.9,370.1 736.1,371.6 736.4,372.3 736.6,372.7 737.1,373.16 738.1,373.55 740.6,373.83 751.9,374" stroke="#0000cc" stroke-opacity="0.84" stroke-width="1.6" stroke-linejoin="round"/>
<path d="M79.7,387.9V396.9M80.9,387.9V396.9M82.1,387.9V396.9M83.3,387.9V396.9M84.1,387.9V396.9M86.5,387.9V396.9M87.5,387.9V396.9M88.4,387.9V396.9M92.2,387.9V396.9M93.3,387.9V396.9M94.9,387.9V396.9M96,387.9V396.9M97.2,387.9V396.9M100.1,387.9V396.9M100.8,387.9V396.9M105.2,387.9V396.9M106.2,387.9V396.9M109.9,387.9V396.9M113.8,387.9V396.9M115.1,387.9V396.9M120.8,387.9V396.9M121.8,387.9V396.9M122.7,387.9V396.9M124.5,387.9V396.9M126.5,387.9V396.9M127.4,387.9V396.9M130.6,387.9V396.9M131.4,387.9V396.9M132.2,387.9V396.9M138.4,387.9V396.9M139.4,387.9V396.9M143.6,387.9V396.9M148.7,387.9V396.9M149.9,387.9V396.9M151.1,387.9V396.9M152.4,387.9V396.9M159.7,387.9V396.9M160.5,387.9V396.9M163.2,387.9V396.9M165.3,387.9V396.9M166.3,387.9V396.9M167.2,387.9V396.9M171.7,387.9V396.9M172.9,387.9V396.9M175.5,387.9V396.9M181.9,387.9V396.9M183.1,387.9V396.9M188.3,387.9V396.9M189.3,387.9V396.9M190.2,387.9V396.9M196.6,387.9V396.9M200.5,387.9V396.9M201.5,387.9V396.9M202.4,387.9V396.9M216.4,387.9V396.9M219.5,387.9V396.9M220.6,387.9V396.9M221.6,387.9V396.9M222.4,387.9V396.9M230.3,387.9V396.9M235,387.9V396.9M244.6,387.9V396.9M246,387.9V396.9M247.4,387.9V396.9M254.6,387.9V396.9M255.6,387.9V396.9M256.5,387.9V396.9M257.4,387.9V396.9M266.9,387.9V396.9M267.8,387.9V396.9M271.3,387.9V396.9M292.4,387.9V396.9M299.4,387.9V396.9M300.4,387.9V396.9M308.2,387.9V396.9M309.3,387.9V396.9M321,387.9V396.9M322.5,387.9V396.9M324.6,387.9V396.9M350.2,387.9V396.9M352.1,387.9V396.9M367.3,387.9V396.9M389.5,387.9V396.9M396.5,387.9V396.9M405.4,387.9V396.9M438.9,387.9V396.9M454.7,387.9V396.9M464.2,387.9V396.9M472.7,387.9V396.9M474,387.9V396.9M475.3,387.9V396.9M499.4,387.9V396.9M508.2,387.9V396.9M522.6,387.9V396.9M571.6,387.9V396.9M574.1,387.9V396.9M576.5,387.9V396.9M611.2,387.9V396.9M624.7,387.9V396.9M705.1,387.9V396.9M734.6,387.9V396.9" stroke="#000" stroke-width="1.25"/>
<path d="M78.4,416.6 78.9,417.1 79.4,416.7 79.9,416.3 80.4,416.6 80.9,417 81.4,416.9 81.9,416.6 82.4,416.6 82.9,416.6 83.4,416.4 83.9,417.2 84.4,416.6 84.9,416.3 85.4,416.5 85.9,416.8 86.4,416.8 86.9,416.6 87.4,416.4 87.9,416.6 88.4,416.1 88.9,416.2 89.4,416.8 89.9,416.5 90.4,416.7 90.9,417 91.4,416.8 91.9,416.6 92.4,417.3 92.9,416.8 93.4,416.5 93.9,416.8 94.4,416.7 94.9,416.3 95.4,416.6 95.9,416.5 96.4,416 96.9,416.5 97.4,416.5 97.9,416.5 98.4,416.1 98.9,416.5 99.4,416.6 99.9,416.6 100.4,416.2 100.9,416.8 101.4,416.2 101.9,416.5 102.4,417 102.9,416.4 103.4,416.4 103.9,416.9 104.4,416.5 104.9,416.5 105.4,416.7 105.9,416.9 106.4,415.9 106.9,416.3 107.4,416.3 107.9,416.3 108.4,416.3 108.9,416.3 109.4,416.7 109.9,416.3 110.4,416.6 110.9,416.7 111.4,416.4 111.9,416.6 112.4,417.1 112.9,416.7 113.4,416.4 113.9,416.6 114.4,416.3 114.9,417.6 115.4,419.2 115.9,416.6 116.4,416.5 116.9,416.5 117.4,414.5 117.9,415.6 118.4,416.2 118.9,416.3 119.4,416.4 119.9,416.8 120.4,414.7 120.9,415.5 121.4,416.4 121.9,416.5 122.4,416.8 122.9,416.7 123.4,417.2 123.9,416.9 124.4,419.1 124.9,417.5 125.4,416.8 125.9,416.2 126.4,416.6 126.9,416.6 127.4,416.5 127.9,416 128.4,416.9 128.9,416.5 129.4,416.5 129.9,416.5 130.4,416.5 130.9,416.7 131.4,416.2 131.9,416.3 132.4,416.7 132.9,416.6 133.4,416.5 133.9,416.4 134.4,416.3 134.9,416.6 135.4,417 135.9,416.3 136.4,417.1 136.9,416.9 137.4,416.5 137.9,416.8 138.4,416.2 138.9,416.1 139.4,416.2 139.9,416.5 140.4,416.5 140.9,416.4 141.4,416.6 141.9,416 142.4,416.7 142.9,416.2 143.4,416.4 143.9,416.5 144.4,416.3 144.9,416.2 145.4,416.3 145.9,416.6 146.4,416.8 146.9,416.8 147.4,416.3 147.9,416.4 148.4,416.3 148.9,416.7 149.4,416 149.9,417 150.4,416.5 150.9,416.4 151.4,416.7 151.9,416.9 152.4,416.7 152.9,416.9 153.4,416.6 153.9,417 154.4,417 154.9,416.6 155.4,417 155.9,416.6 156.4,416.6 156.9,416.3 157.4,416.5 157.9,416.8 158.4,416.2 158.9,416.8 159.4,416.7 159.9,416.7 160.4,415.9 160.9,416.6 161.4,416.8 161.9,416.4 162.4,416.6 162.9,415.9 163.4,416.8 163.9,416.4 164.4,416.9 164.9,416 165.4,415 165.9,409.2 166.4,416.5 166.9,416.3 167.4,416.4 167.9,417.3 168.4,416.4 168.9,416.4 169.4,416.5 169.9,416.3 170.4,417 170.9,417.1 171.4,416.4 171.9,416.1 172.4,417 172.9,416.9 173.4,416.8 173.9,416.9 174.4,416.3 174.9,416.5 175.4,416.2 175.9,416.2 176.4,416.9 176.9,416.4 177.4,417.3 177.9,416.6 178.4,416.4 178.9,416.8 179.4,417.1 179.9,416.7 180.4,416.2 180.9,416.7 181.4,417 181.9,416.5 182.4,416.4 182.9,416.9 183.4,416.6 183.9,416.3 184.4,416.5 184.9,416.4 185.4,416.7 185.9,416.6 186.4,416.9 186.9,416.8 187.4,416.1 187.9,416.7 188.4,416.9 188.9,416.7 189.4,416.7 189.9,406.3 190.4,409.9 190.9,416.8 191.4,416.3 191.9,416 192.4,416.9 192.9,416.4 193.4,416.5 193.9,416.2 194.4,416.2 194.9,416.3 195.4,416.5 195.9,416.9 196.4,417.4 196.9,417 197.4,416.2 197.9,416.3 198.4,416.8 198.9,416.6 199.4,416.1 199.9,417.2 200.4,416.3 200.9,416.7 201.4,416.7 201.9,417 202.4,416.5 202.9,416.9 203.4,416.4 203.9,416.9 204.4,416.4 204.9,416.5 205.4,417.2 205.9,416.7 206.4,416.6 206.9,417.3 207.4,416.7 207.9,416.4 208.4,416.8 208.9,416.2 209.4,416.9 209.9,417 210.4,416.4 210.9,416.4 211.4,416.7 211.9,416.6 212.4,416.3 212.9,416.8 213.4,416 213.9,416.5 214.4,416.5 214.9,416.5 215.4,416.7 215.9,416.2 216.4,416.8 216.9,416.5 217.4,416.4 217.9,416.2 218.4,416.2 218.9,416.7 219.4,416.3 219.9,416.6 220.4,416.9 220.9,416.9 221.4,417.1 221.9,416.5 222.4,416.3 222.9,416.9 223.4,416.7 223.9,416.9 224.4,416.6 224.9,417 225.4,416.9 225.9,416.8 226.4,416.8 226.9,416.7 227.4,416.7 227.9,416.7 228.4,416.9 228.9,416.4 229.4,417.1 229.9,416.9 230.4,418.4 230.9,416.6 231.4,416.5 231.9,417.2 232.4,416.5 232.9,416.2 233.4,416.4 233.9,416.5 234.4,417.2 234.9,416.7 235.4,416.9 235.9,416.3 236.4,416.7 236.9,416.8 237.4,417.1 237.9,416.4 238.4,416.8 238.9,416.7 239.4,416.3 239.9,416.6 240.4,416.5 240.9,415.9 241.4,416.8 241.9,416.8 242.4,416.5 242.9,416.2 243.4,417 243.9,416.7 244.4,416.9 244.9,417 245.4,416.4 245.9,416.8 246.4,416.5 246.9,416.6 247.4,416.6 247.9,416.6 248.4,416.9 248.9,416.6 249.4,416.6 249.9,416.5 250.4,416.7 250.9,416.3 251.4,416.4 251.9,416.6 252.4,416.4 252.9,416.6 253.4,416.4 253.9,417.2 254.4,417 254.9,416.7 255.4,416.6 255.9,417.3 256.4,416.7 256.9,416.6 257.4,416.7 257.9,416.7 258.4,417 258.9,416.6 259.4,417.2 259.9,416.3 260.4,416.8 260.9,416.3 261.4,417.1 261.9,416.5 262.4,416.6 262.9,416.9 263.4,417 263.9,416.3 264.4,416.5 264.9,416.2 265.4,416.6 265.9,416.6 266.4,416.5 266.9,416.4 267.4,416.5 267.9,416.4 268.4,416.8 268.9,417.1 269.4,416 269.9,416.6 270.4,416.5 270.9,416.7 271.4,416.3 271.9,416.6 272.4,416.3 272.9,416.8 273.4,416.6 273.9,416.6 274.4,416.7 274.9,416.5 275.4,416.1 275.9,416.8 276.4,416.7 276.9,416.6 277.4,416.9 277.9,417 278.4,416.3 278.9,416.4 279.4,417.1 279.9,417 280.4,416.4 280.9,416.2 281.4,416.4 281.9,416.5 282.4,416.1 282.9,416.6 283.4,416.2 283.9,416.2 284.4,416.9 284.9,416.4 285.4,416.6 285.9,416.8 286.4,416.8 286.9,416.5 287.4,416.6 287.9,416.4 288.4,417.1 288.9,416.8 289.4,416.3 289.9,416.6 290.4,416.8 290.9,416.7 291.4,417.1 291.9,417 292.4,417.5 292.9,417.3 293.4,416.2 293.9,416.7 294.4,416.6 294.9,417.4 295.4,416.6 295.9,416 296.4,416.4 296.9,416.6 297.4,416.2 297.9,416.3 298.4,416.5 298.9,416.7 299.4,416.6 299.9,416.3 300.4,416.8 300.9,416.4 301.4,416.5 301.9,416.2 302.4,416.4 302.9,416.8 303.4,416.1 303.9,416.6 304.4,416.8 304.9,416.5 305.4,416.7 305.9,416.3 306.4,417 306.9,416.9 307.4,416.7 307.9,416.1 308.4,416.3 308.9,416.9 309.4,417.1 309.9,416.7 310.4,417 310.9,416.4 311.4,416.5 311.9,416.6 312.4,416.7 312.9,416.1 313.4,416.9 313.9,417 314.4,416.3 314.9,416.2 315.4,416.7 315.9,416.4 316.4,415.9 316.9,416.8 317.4,416.6 317.9,416.5 318.4,417.2 318.9,416.6 319.4,416.4 319.9,416.6 320.4,416.3 320.9,416.4 321.4,416.7 321.9,416.4 322.4,416.5 322.9,417.1 323.4,416.9 323.9,416.8 324.4,416.8 324.9,416.7 325.4,417 325.9,416.6 326.4,417.2 326.9,416.3 327.4,416.5 327.9,416.2 328.4,416.5 328.9,416.8 329.4,417 329.9,416.4 330.4,416.6 330.9,416.5 331.4,416.4 331.9,416.2 332.4,416.6 332.9,416.1 333.4,416.6 333.9,416.6 334.4,416.4 334.9,416.3 335.4,416.2 335.9,417.2 336.4,416.2 336.9,417.1 337.4,416.8 337.9,416.5 338.4,416.3 338.9,416.9 339.4,417.1 339.9,416.3 340.4,416.5 340.9,416.9 341.4,416.7 341.9,417.2 342.4,416.4 342.9,416.8 343.4,416.2 343.9,417.2 344.4,416.4 344.9,415.9 345.4,416.6 345.9,416.6 346.4,417.2 346.9,416.5 347.4,416.6 347.9,416.8 348.4,417.1 348.9,416.6 349.4,416.9 349.9,416.8 350.4,416.5 350.9,416.6 351.4,417 351.9,419.8 352.4,417.3 352.9,416.2 353.4,417 353.9,416.9 354.4,416.6 354.9,416.4 355.4,416.5 355.9,416.7 356.4,416.8 356.9,416.7 357.4,416.9 357.9,416.4 358.4,416.7 358.9,416.1 359.4,416.8 359.9,416.6 360.4,416.5 360.9,416.9 361.4,416.8 361.9,415.8 362.4,416.6 362.9,416.2 363.4,416.9 363.9,417.3 364.4,416.4 364.9,416.6 365.4,416.5 365.9,416.7 366.4,416.8 366.9,417 367.4,416.3 367.9,417.1 368.4,416.3 368.9,416.7 369.4,416.9 369.9,416.8 370.4,416.3 370.9,416.4 371.4,416.5 371.9,416.6 372.4,416.9 372.9,416.2 373.4,416.7 373.9,416.8 374.4,416.8 374.9,416.7 375.4,417.1 375.9,416.7 376.4,416.9 376.9,416.8 377.4,417.1 377.9,416 378.4,417 378.9,416.5 379.4,416.5 379.9,416.3 380.4,416 380.9,416.5 381.4,416.4 381.9,416.7 382.4,416.2 382.9,417 383.4,416.7 383.9,416.5 384.4,416.4 384.9,416.4 385.4,416.3 385.9,416.4 386.4,416.6 386.9,416.5 387.4,416.2 387.9,416.5 388.4,416.3 388.9,416.7 389.4,418.5 389.9,418.9 390.4,416.5 390.9,416.1 391.4,416.2 391.9,416.1 392.4,416.8 392.9,416.4 393.4,416.6 393.9,416.4 394.4,417.3 394.9,418.9 395.4,416.6 395.9,416.2 396.4,410.5 396.9,412.6 397.4,416.2 397.9,416.3 398.4,416.2 398.9,416.2 399.4,416.7 399.9,417.4 400.4,416.3 400.9,416.9 401.4,416.7 401.9,416.3 402.4,416.5 402.9,416.5 403.4,416.4 403.9,417.2 404.4,416 404.9,416.7 405.4,416.7 405.9,416.4 406.4,416.6 406.9,416.9 407.4,416.6 407.9,416.7 408.4,416.8 408.9,416 409.4,417 409.9,417.3 410.4,416.9 410.9,416.9 411.4,416.2 411.9,416.6 412.4,416.4 412.9,416.4 413.4,416.9 413.9,416.4 414.4,416.6 414.9,416 415.4,416.6 415.9,416.6 416.4,416.4 416.9,416.4 417.4,417.2 417.9,416.2 418.4,416.3 418.9,416.4 419.4,417 419.9,417.2 420.4,416.7 420.9,416.4 421.4,416.5 421.9,416.9 422.4,416.3 422.9,417 423.4,417 423.9,416.6 424.4,416.8 424.9,416.8 425.4,417.1 425.9,416.3 426.4,417 426.9,416.5 427.4,416.4 427.9,416.6 428.4,416.5 428.9,416.3 429.4,416.1 429.9,416.3 430.4,417 430.9,417.2 431.4,416.8 431.9,417 432.4,416.4 432.9,416.6 433.4,416.7 433.9,416.3 434.4,416.3 434.9,416.6 435.4,416.5 435.9,416.3 436.4,416.7 436.9,416.5 437.4,416.9 437.9,416.6 438.4,415.3 438.9,409.9 439.4,417 439.9,419.5 440.4,416.5 440.9,416.8 441.4,416.8 441.9,417 442.4,416.1 442.9,416.5 443.4,416.5 443.9,416.7 444.4,416.5 444.9,416.4 445.4,416.8 445.9,416.7 446.4,416.3 446.9,417 447.4,416.9 447.9,416.4 448.4,416.8 448.9,416.4 449.4,416.9 449.9,416.5 450.4,416.4 450.9,416.5 451.4,416.4 451.9,416.7 452.4,416.7 452.9,416.6 453.4,416.4 453.9,415.5 454.4,415.1 454.9,413.6 455.4,416.6 455.9,416.9 456.4,416.7 456.9,416.5 457.4,416.5 457.9,416.6 458.4,416.4 458.9,416.4 459.4,416.3 459.9,417 460.4,416.6 460.9,416.9 461.4,416.5 461.9,416.6 462.4,416.5 462.9,416.7 463.4,416.8 463.9,416.7 464.4,416.4 464.9,416.4 465.4,417.1 465.9,416.5 466.4,416.5 466.9,417 467.4,416.9 467.9,416.8 468.4,416.5 468.9,417.3 469.4,416.7 469.9,416.8 470.4,416.5 470.9,416.2 471.4,416.2 471.9,416.7 472.4,416.7 472.9,416.5 473.4,416.2 473.9,416.2 474.4,416.7 474.9,417.7 475.4,417 475.9,416.9 476.4,417.4 476.9,416.9 477.4,416.4 477.9,416.3 478.4,415.6 478.9,416.4 479.4,416.5 479.9,416.9 480.4,416.8 480.9,416.8 481.4,416.7 481.9,416.8 482.4,417 482.9,416.3 483.4,416.5 483.9,416.2 484.4,417.1 484.9,417 485.4,416.8 485.9,416.2 486.4,416.7 486.9,416.5 487.4,416.6 487.9,416.5 488.4,416.8 488.9,416.5 489.4,416.9 489.9,416.7 490.4,416.5 490.9,416.6 491.4,416.5 491.9,416.8 492.4,416.5 492.9,416.7 493.4,416.5 493.9,416.2 494.4,416.9 494.9,416.3 495.4,416.8 495.9,416.7 496.4,416.1 496.9,416.3 497.4,416.4 497.9,416.4 498.4,416.2 498.9,416.8 499.4,416.5 499.9,416.7 500.4,416.5 500.9,416.7 501.4,416.4 501.9,416.6 502.4,416.8 502.9,416.6 503.4,416.5 503.9,416.3 504.4,416.7 504.9,416.7 505.4,416.5 505.9,416.4 506.4,416.8 506.9,417.3 507.4,416.5 507.9,416.7 508.4,416.7 508.9,415.8 509.4,416.6 509.9,416.4 510.4,417 510.9,416.5 511.4,416.4 511.9,416.5 512.4,416.6 512.9,416.4 513.4,416.6 513.9,416.2 514.4,416.5 514.9,416.8 515.4,417.2 515.9,416.8 516.4,416.7 516.9,417 517.4,416.9 517.9,417.1 518.4,416.9 518.9,416.6 519.4,416.7 519.9,416.7 520.4,416.7 520.9,416.7 521.4,416.4 521.9,416 522.4,417.4 522.9,416.7 523.4,416.6 523.9,416.6 524.4,416.1 524.9,416.8 525.4,416.9 525.9,416.6 526.4,417.1 526.9,417.2 527.4,416.2 527.9,416.9 528.4,416.7 528.9,416.7 529.4,416.9 529.9,416.4 530.4,416.4 530.9,416.4 531.4,416.4 531.9,416.6 532.4,416.2 532.9,416.3 533.4,416.8 533.9,416.6 534.4,416.7 534.9,416 535.4,416.4 535.9,416.4 536.4,416.6 536.9,416.4 537.4,416.9 537.9,416.6 538.4,416.6 538.9,416.6 539.4,416.8 539.9,416.5 540.4,416.9 540.9,416.7 541.4,416.6 541.9,416.6 542.4,416.8 542.9,416.9 543.4,416.9 543.9,416.7 544.4,416.9 544.9,416.6 545.4,417 545.9,416.6 546.4,416 546.9,417 547.4,416.6 547.9,416.2 548.4,416.5 548.9,416.3 549.4,417.2 549.9,416.7 550.4,416.1 550.9,416.8 551.4,416.5 551.9,417.2 552.4,416.3 552.9,415.9 553.4,416.6 553.9,416.5 554.4,416.5 554.9,416 555.4,416.7 555.9,417.1 556.4,416 556.9,417 557.4,416.4 557.9,417.3 558.4,416.7 558.9,416.5 559.4,416.9 559.9,416.8 560.4,416.4 560.9,416.8 561.4,416.4 561.9,416.1 562.4,417.2 562.9,416.5 563.4,416.4 563.9,416.7 564.4,416.1 564.9,416.2 565.4,416.5 565.9,416.4 566.4,416.6 566.9,416.9 567.4,416.5 567.9,416.7 568.4,416.8 568.9,416.3 569.4,416.7 569.9,416.3 570.4,416.9 570.9,416.7 571.4,416.6 571.9,416.2 572.4,416.6 572.9,416.4 573.4,416.8 573.9,416.6 574.4,416.5 574.9,418.3 575.4,418.5 575.9,416.7 576.4,417 576.9,416.5 577.4,416.5 577.9,416.6 578.4,416.4 578.9,416.5 579.4,416.6 579.9,417.1 580.4,417 580.9,416.5 581.4,417.1 581.9,416.6 582.4,416.7 582.9,416.9 583.4,416.7 583.9,417.3 584.4,416.7 584.9,416.2 585.4,417 585.9,416.5 586.4,416.5 586.9,415.7 587.4,416.9 587.9,416.8 588.4,416.8 588.9,416.9 589.4,417.1 589.9,416.6 590.4,416.9 590.9,416.4 591.4,416.5 591.9,416.9 592.4,416.7 592.9,416.2 593.4,416.7 593.9,416.5 594.4,416.4 594.9,416.7 595.4,416.5 595.9,416.1 596.4,416.3 596.9,417.1 597.4,416.1 597.9,416.7 598.4,416.8 598.9,416.8 599.4,416.2 599.9,416.5 600.4,416.6 600.9,416.8 601.4,416.4 601.9,416.3 602.4,416.9 602.9,416.9 603.4,416.7 603.9,416.4 604.4,416.7 604.9,416.6 605.4,416.9 605.9,416.2 606.4,416.6 606.9,416.6 607.4,416.3 607.9,416.7 608.4,416.6 608.9,416.5 609.4,416.7 609.9,416.2 610.4,416.6 610.9,417.6 611.4,419.6 611.9,418.6 612.4,416.4 612.9,416.2 613.4,416.7 613.9,416.7 614.4,417.2 614.9,416.8 615.4,416.3 615.9,416.8 616.4,416.3 616.9,416.2 617.4,417.4 617.9,416.7 618.4,416.8 618.9,416.8 619.4,417.1 619.9,416.7 620.4,417 620.9,416.3 621.4,416.2 621.9,417 622.4,417 622.9,416.8 623.4,416.7 623.9,415.8 624.4,411.9 624.9,418.6 625.4,421.7 625.9,417.1 626.4,416.7 626.9,416.9 627.4,416.8 627.9,416.8 628.4,416.2 628.9,416.8 629.4,417.3 629.9,416.4 630.4,416.6 630.9,416.9 631.4,416.9 631.9,416.8 632.4,416.1 632.9,416.8 633.4,416.2 633.9,416.4 634.4,416.8 634.9,416.5 635.4,416.8 635.9,417.5 636.4,416.8 636.9,416.8 637.4,416.3 637.9,416.4 638.4,416.3 638.9,416.4 639.4,416.3 639.9,416.4 640.4,416.5 640.9,416.3 641.4,416.2 641.9,416.2 642.4,416.7 642.9,416.6 643.4,416.9 643.9,416.9 644.4,416.5 644.9,416.8 645.4,416.2 645.9,417.3 646.4,417 646.9,416.5 647.4,416.3 647.9,416.7 648.4,416 648.9,416.4 649.4,416.8 649.9,416.6 650.4,416.5 650.9,416.9 651.4,416.3 651.9,416.7 652.4,416.5 652.9,416.3 653.4,416.7 653.9,416.3 654.4,417.2 654.9,416.4 655.4,417.2 655.9,416.3 656.4,416.8 656.9,416.2 657.4,416.2 657.9,416.6 658.4,416.8 658.9,416.2 659.4,417 659.9,416.4 660.4,416.6 660.9,416.7 661.4,416.8 661.9,416.1 662.4,417.1 662.9,416.8 663.4,416.5 663.9,416.3 664.4,416.1 664.9,416.2 665.4,416.8 665.9,416.5 666.4,416.3 666.9,416.4 667.4,417.1 667.9,416.5 668.4,416.4 668.9,417 669.4,416.7 669.9,416.6 670.4,416.4 670.9,416.1 671.4,416.2 671.9,416.5 672.4,416.5 672.9,416.7 673.4,416.8 673.9,416.7 674.4,416.7 674.9,416.3 675.4,416 675.9,416.4 676.4,416.3 676.9,416.4 677.4,416.5 677.9,416.2 678.4,416.3 678.9,416.6 679.4,416.6 679.9,416.4 680.4,416.7 680.9,416.5 681.4,416.3 681.9,416.6 682.4,417.2 682.9,416.4 683.4,416.9 683.9,417 684.4,417 684.9,416.4 685.4,417.2 685.9,416.6 686.4,416.5 686.9,416.5 687.4,416.8 687.9,416.6 688.4,416.5 688.9,417 689.4,416.4 689.9,416.3 690.4,416.8 690.9,416.8 691.4,416.9 691.9,416.3 692.4,416.9 692.9,416.7 693.4,417.1 693.9,416.2 694.4,416.7 694.9,416.5 695.4,416.1 695.9,416.4 696.4,416.9 696.9,416.5 697.4,416.4 697.9,416.9 698.4,416.9 698.9,416.9 699.4,416.4 699.9,416.6 700.4,416.9 700.9,416.4 701.4,416.4 701.9,416.8 702.4,417.1 702.9,416.3 703.4,415.8 703.9,416.2 704.4,416.4 704.9,419.8 705.4,429.3 705.9,419.8 706.4,416.4 706.9,416.6 707.4,416.3 707.9,416.6 708.4,416.4 708.9,417.4 709.4,416.8 709.9,416.3 710.4,416.3 710.9,416.5 711.4,416.1 711.9,416.4 712.4,416.4 712.9,416.9 713.4,416.5 713.9,416.4 714.4,416.2 714.9,416.2 715.4,416.6 715.9,416.5 716.4,416.9 716.9,416.4 717.4,416.9 717.9,416.7 718.4,416.6 718.9,416 719.4,416.2 719.9,416.8 720.4,417 720.9,416.7 721.4,416.8 721.9,416.5 722.4,416.5 722.9,416.4 723.4,416.9 723.9,416.7 724.4,416.5 724.9,416.5 725.4,416.8 725.9,416.7 726.4,416.4 726.9,417.1 727.4,416.7 727.9,416.6 728.4,417 728.9,416.9 729.4,416.6 729.9,416.8 730.4,416.3 730.9,416.4 731.4,415.9 731.9,417 732.4,416 732.9,416.8 733.4,416.4 733.9,416.9 734.4,420.3 734.9,419.7 735.4,417.1 735.9,417.1 736.4,416.7 736.9,416.9 737.4,416.4 737.9,416.8 738.4,416.6 738.9,416.5 739.4,416.6 739.9,416.6 740.4,416.7 740.9,416.7 741.4,416.4 741.9,416.4 742.4,416.8 742.9,416.1 743.4,416.4 743.9,417.1 744.4,415.8 744.9,416.4 745.4,416.8 745.9,416.1 746.4,417.4 746.9,415.8 747.4,417 747.9,417.1 748.4,416.9 748.9,416.5 749.4,416.7 749.9,416.3 750.4,416.8 750.9,416.3 751.4,416.5 751.9,416.9 752.4,416.3" stroke="#000" stroke-width="1.25" stroke-linejoin="round"/>
</g>
<path d="M195.1,436.3v-8.8M341.6,436.3v-8.8M488.2,436.3v-8.8M634.8,436.3v-8.8M70.8,389.4h8.8M70.8,300.9h8.8M70.8,212.4h8.8M70.8,123.9h8.8M70.8,35.4h8.8" stroke="#000" stroke-width="1.3" fill="none"/>
</g>
<g id="panel-b">
<clipPath id="clip-b"><rect x="71.8" y="528.7" width="688.2" height="436.1"/></clipPath>
<g clip-path="url(#clip-b)" fill="none">
<path d="M75,894.2h7.1M78.5,890.7v7.1M75.7,894.5h7.1M79.2,891v7.1M76.4,893.3h7.1M79.9,889.7v7.1M77.1,894.5h7.1M80.6,891v7.1M77.1,893.8h7.1M80.7,890.3v7.1M77.2,892.4h7.1M80.8,888.9v7.1M77.3,893.2h7.1M80.9,889.6v7.1M77.4,892.3h7.1M81,888.8v7.1M77.5,891.9h7.1M81.1,888.4v7.1M77.6,891.7h7.1M81.2,888.2v7.1M77.7,890.3h7.1M81.3,886.7v7.1M77.8,890.1h7.1M81.4,886.6v7.1M77.9,887.3h7.1M81.5,883.7v7.1M78,886.2h7.1M81.6,882.7v7.1M78.1,882.8h7.1M81.7,879.2v7.1M78.2,880.1h7.1M81.8,876.5v7.1M78.3,875.2h7.1M81.9,871.7v7.1M78.4,870.9h7.1M82,867.3v7.1M78.5,865.8h7.1M82.1,862.2v7.1M78.6,862.2h7.1M82.1,858.6v7.1M78.7,857.8h7.1M82.2,854.3v7.1M78.8,854.4h7.1M82.3,850.8v7.1M78.9,851h7.1M82.4,847.5v7.1M79,848.6h7.1M82.5,845v7.1M79.1,848h7.1M82.6,844.5v7.1M79.2,849.3h7.1M82.7,845.8v7.1M79.3,850.9h7.1M82.8,847.4v7.1M79.4,854.6h7.1M82.9,851.1v7.1M79.5,857.6h7.1M83,854v7.1M79.6,860.1h7.1M83.1,856.5v7.1M79.7,864h7.1M83.2,860.5v7.1M79.8,869.4h7.1M83.3,865.8v7.1M79.9,872.4h7.1M83.4,868.9v7.1M80,875.6h7.1M83.5,872.1v7.1M80.1,879.8h7.1M83.6,876.3v7.1M80.2,881.6h7.1M83.7,878v7.1M80.3,884.1h7.1M83.8,880.6v7.1M80.4,886.1h7.1M83.9,882.5v7.1M80.4,886.9h7.1M84,883.4v7.1M80.5,890.1h7.1M84.1,886.5v7.1M80.6,889.8h7.1M84.2,886.2v7.1M80.7,891h7.1M84.3,887.5v7.1M80.8,891.6h7.1M84.4,888v7.1M80.9,893.1h7.1M84.5,889.5v7.1M81,892.9h7.1M84.6,889.4v7.1M81.1,893.3h7.1M84.7,889.7v7.1M81.2,892.3h7.1M84.8,888.8v7.1M81.3,893.6h7.1M84.9,890v7.1M81.4,892.7h7.1M85,889.2v7.1M81.5,894.1h7.1M85.1,890.5v7.1M81.6,894.2h7.1M85.2,890.6v7.1M82.3,894.3h7.1M85.9,890.7v7.1M83,895.6h7.1M86.6,892.1v7.1M83.7,895h7.1M87.3,891.4v7.1M84.4,895.1h7.1M88,891.5v7.1M85.1,894.8h7.1M88.7,891.3v7.1M85.8,894.6h7.1M89.4,891.1v7.1M86.5,895.4h7.1M90.1,891.9v7.1M87.2,895.5h7.1M90.8,891.9v7.1M87.9,893.8h7.1M91.5,890.3v7.1M88.6,895.1h7.1M92.2,891.5v7.1M88.7,894.6h7.1M92.3,891v7.1M88.8,894.7h7.1M92.4,891.1v7.1M88.9,894.1h7.1M92.5,890.5v7.1M89,892.5h7.1M92.6,889v7.1M89.1,892.1h7.1M92.7,888.6v7.1M89.2,893.5h7.1M92.8,889.9v7.1M89.3,891.8h7.1M92.9,888.2v7.1M89.4,889.8h7.1M93,886.3v7.1M89.5,890.1h7.1M93.1,886.5v7.1M89.6,888.5h7.1M93.2,885v7.1M89.7,886.6h7.1M93.3,883v7.1M89.8,885.5h7.1M93.4,882v7.1M89.9,884.6h7.1M93.5,881.1v7.1M90,885.1h7.1M93.6,881.5v7.1M90.1,884.3h7.1M93.7,880.8v7.1M90.2,883.9h7.1M93.8,880.4v7.1M90.3,884.4h7.1M93.9,880.8v7.1M90.4,884.9h7.1M94,881.3v7.1M90.5,883.8h7.1M94.1,880.3v7.1M90.6,885.4h7.1M94.2,881.9v7.1M90.7,885.8h7.1M94.3,882.3v7.1M90.8,886.4h7.1M94.4,882.9v7.1M90.9,887.8h7.1M94.5,884.2v7.1M91,888.9h7.1M94.6,885.4v7.1M91.1,889.7h7.1M94.7,886.1v7.1M91.2,889.6h7.1M94.8,886.1v7.1M91.3,891h7.1M94.9,887.5v7.1M91.4,893.1h7.1M95,889.6v7.1M91.5,891.8h7.1M95.1,888.3v7.1M91.6,891.8h7.1M95.2,888.3v7.1M91.7,893.5h7.1M95.3,890v7.1M91.8,894.1h7.1M95.4,890.5v7.1M91.9,894.2h7.1M95.5,890.7v7.1M92,893.3h7.1M95.6,889.8v7.1M92.1,894.9h7.1M95.7,891.4v7.1M92.3,893.8h7.1M95.8,890.3v7.1M93,893.8h7.1M96.5,890.3v7.1M93.7,894.2h7.1M97.2,890.6v7.1M94.4,894.2h7.1M97.9,890.7v7.1M94.5,894.7h7.1M98,891.2v7.1M94.6,894.5h7.1M98.1,891v7.1M94.7,893.9h7.1M98.2,890.3v7.1M94.8,894.3h7.1M98.3,890.7v7.1M94.9,893.4h7.1M98.4,889.8v7.1M95,893.4h7.1M98.5,889.9v7.1M95.1,891.2h7.1M98.6,887.7v7.1M95.2,890.2h7.1M98.7,886.7v7.1M95.3,890.7h7.1M98.8,887.2v7.1M95.4,887.8h7.1M98.9,884.3v7.1M95.5,886.9h7.1M99,883.3v7.1M95.6,885h7.1M99.1,881.4v7.1M95.7,882.4h7.1M99.2,878.8v7.1M95.8,879.9h7.1M99.3,876.3v7.1M95.9,878.5h7.1M99.4,874.9v7.1M96,873.7h7.1M99.5,870.2v7.1M96.1,873h7.1M99.6,869.4v7.1M96.2,871.4h7.1M99.7,867.8v7.1M96.3,868.7h7.1M99.8,865.1v7.1M96.4,867.8h7.1M99.9,864.3v7.1M96.5,868.3h7.1M100,864.7v7.1M96.6,869.5h7.1M100.2,865.9v7.1M96.7,868.6h7.1M100.3,865v7.1M96.8,871h7.1M100.4,867.4v7.1M96.9,872.6h7.1M100.5,869.1v7.1M97,875.2h7.1M100.6,871.6v7.1M97.1,877.1h7.1M100.7,873.5v7.1M97.2,879.6h7.1M100.8,876.1v7.1M97.3,881.1h7.1M100.9,877.5v7.1M97.4,883.4h7.1M101,879.9v7.1M97.5,884.8h7.1M101.1,881.2v7.1M97.6,886.5h7.1M101.2,882.9v7.1M97.7,888.3h7.1M101.3,884.7v7.1M97.8,889.5h7.1M101.4,886v7.1M97.9,889.9h7.1M101.5,886.3v7.1M98,892.6h7.1M101.6,889.1v7.1M98.1,892.2h7.1M101.7,888.6v7.1M98.2,891.9h7.1M101.8,888.3v7.1M98.4,894h7.1M101.9,890.4v7.1M98.5,893.1h7.1M102,889.5v7.1M98.6,894.2h7.1M102.1,890.6v7.1M98.7,894h7.1M102.2,890.5v7.1M98.8,894.4h7.1M102.3,890.8v7.1M98.9,894.4h7.1M102.4,890.9v7.1M99,894h7.1M102.5,890.4v7.1M99.7,894.7h7.1M103.2,891.1v7.1M100.4,895.9h7.1M103.9,892.4v7.1M101.1,893.6h7.1M104.6,890.1v7.1M101.8,894.4h7.1M105.3,890.8v7.1M101.9,894.5h7.1M105.4,890.9v7.1M102,893.3h7.1M105.5,889.7v7.1M102.1,892.8h7.1M105.6,889.2v7.1M102.2,894.6h7.1M105.7,891v7.1M102.3,892.8h7.1M105.8,889.2v7.1M102.4,893.8h7.1M105.9,890.2v7.1M102.5,892.6h7.1M106.1,889v7.1M102.6,891.8h7.1M106.2,888.3v7.1M102.7,891.6h7.1M106.3,888.1v7.1M102.8,891.3h7.1M106.4,887.8v7.1M102.9,891.4h7.1M106.5,887.8v7.1M103,890.6h7.1M106.6,887.1v7.1M103.1,890.3h7.1M106.7,886.8v7.1M103.2,890.3h7.1M106.8,886.8v7.1M103.3,891.2h7.1M106.9,887.6v7.1M103.4,891h7.1M107,887.4v7.1M103.5,889.9h7.1M107.1,886.4v7.1M103.7,890.4h7.1M107.2,886.8v7.1M103.8,891.2h7.1M107.3,887.7v7.1M103.9,890.7h7.1M107.4,887.2v7.1M104,891h7.1M107.5,887.4v7.1M104.1,890.6h7.1M107.6,887v7.1M104.2,890.9h7.1M107.7,887.3v7.1M104.3,890.9h7.1M107.8,887.4v7.1M104.4,890.7h7.1M107.9,887.2v7.1M104.5,889.1h7.1M108,885.6v7.1M104.6,889h7.1M108.1,885.5v7.1M104.7,886.2h7.1M108.3,882.6v7.1M104.8,885.4h7.1M108.4,881.9v7.1M104.9,882.7h7.1M108.5,879.1v7.1M105,879.8h7.1M108.6,876.2v7.1M105.1,876.3h7.1M108.7,872.8v7.1M105.2,872.7h7.1M108.8,869.1v7.1M105.3,871h7.1M108.9,867.5v7.1M105.4,868.9h7.1M109,865.3v7.1M105.5,868h7.1M109.1,864.5v7.1M105.7,864.7h7.1M109.2,861.2v7.1M105.8,866.5h7.1M109.3,862.9v7.1M105.9,865.5h7.1M109.4,861.9v7.1M106,867.1h7.1M109.5,863.5v7.1M106.1,866.9h7.1M109.6,863.3v7.1M106.2,869.9h7.1M109.7,866.4v7.1M106.3,871.7h7.1M109.8,868.2v7.1M106.4,874.7h7.1M109.9,871.1v7.1M106.5,876.7h7.1M110,873.1v7.1M106.6,878.2h7.1M110.2,874.6v7.1M106.7,881.8h7.1M110.3,878.3v7.1M106.8,883.8h7.1M110.4,880.2v7.1M106.9,885.6h7.1M110.5,882.1v7.1M107,887.6h7.1M110.6,884.1v7.1M107.1,889.2h7.1M110.7,885.6v7.1M107.2,889.7h7.1M110.8,886.1v7.1M107.3,889.9h7.1M110.9,886.3v7.1M107.5,890.7h7.1M111,887.2v7.1M107.6,893.3h7.1M111.1,889.7v7.1M107.7,893.4h7.1M111.2,889.9v7.1M107.8,893.4h7.1M111.3,889.9v7.1M107.9,893.4h7.1M111.4,889.9v7.1M108,894h7.1M111.5,890.4v7.1M108.1,894.2h7.1M111.6,890.6v7.1M108.2,894.1h7.1M111.7,890.5v7.1M108.3,894h7.1M111.9,890.4v7.1M108.4,895.7h7.1M112,892.2v7.1M108.5,894.8h7.1M112.1,891.2v7.1M109.2,894.5h7.1M112.8,890.9v7.1M109.9,894.2h7.1M113.5,890.6v7.1M110.6,894.6h7.1M114.2,891.1v7.1M111.3,895.7h7.1M114.9,892.1v7.1M112,895.7h7.1M115.6,892.2v7.1M112.7,895.1h7.1M116.3,891.5v7.1M113.4,895.3h7.1M117,891.7v7.1M114.1,895h7.1M117.7,891.4v7.1M114.8,894.4h7.1M118.4,890.9v7.1M115.5,896h7.1M119.1,892.4v7.1M116.2,895.2h7.1M119.8,891.6v7.1M116.9,895.8h7.1M120.5,892.3v7.1M117.6,893.4h7.1M121.2,889.8v7.1M117.7,893.5h7.1M121.3,889.9v7.1M117.8,893.8h7.1M121.4,890.2v7.1M117.9,892.4h7.1M121.5,888.9v7.1M118.1,890.9h7.1M121.6,887.3v7.1M118.2,890.2h7.1M121.7,886.6v7.1M118.3,889.5h7.1M121.8,886v7.1M118.4,888h7.1M121.9,884.4v7.1M118.5,885.5h7.1M122,882v7.1M118.6,883.6h7.1M122.1,880.1v7.1M118.7,880.5h7.1M122.3,877v7.1M118.8,876.4h7.1M122.4,872.9v7.1M118.9,872.2h7.1M122.5,868.6v7.1M119,867.6h7.1M122.6,864.1v7.1M119.1,863.7h7.1M122.7,860.1v7.1M119.3,859.5h7.1M122.8,856v7.1M119.4,854.8h7.1M122.9,851.3v7.1M119.5,851.7h7.1M123,848.1v7.1M119.6,848.6h7.1M123.1,845.1v7.1M119.7,846.5h7.1M123.2,843v7.1M119.8,846.7h7.1M123.4,843.2v7.1M119.9,848.8h7.1M123.5,845.3v7.1M120,850.3h7.1M123.6,846.8v7.1M120.1,853.5h7.1M123.7,850v7.1M120.2,855.5h7.1M123.8,851.9v7.1M120.4,859.4h7.1M123.9,855.9v7.1M120.5,863.3h7.1M124,859.8v7.1M120.6,866.8h7.1M124.1,863.2v7.1M120.7,869.3h7.1M124.2,865.8v7.1M120.8,873.1h7.1M124.3,869.6v7.1M120.9,876.6h7.1M124.5,873v7.1M121,878.8h7.1M124.6,875.2v7.1M121.1,882.4h7.1M124.7,878.9v7.1M121.2,885.1h7.1M124.8,881.5v7.1M121.3,886h7.1M124.9,882.5v7.1M121.5,889.1h7.1M125,885.6v7.1M121.6,889.1h7.1M125.1,885.6v7.1M121.7,890.3h7.1M125.2,886.7v7.1M121.8,891.1h7.1M125.3,887.5v7.1M121.9,891.4h7.1M125.4,887.9v7.1M122,892.7h7.1M125.6,889.2v7.1M122.1,892.8h7.1M125.7,889.3v7.1M122.2,894.2h7.1M125.8,890.7v7.1M122.3,893.7h7.1M125.9,890.1v7.1M122.5,893.7h7.1M126,890.2v7.1M122.6,893.2h7.1M126.1,889.7v7.1M122.7,892.3h7.1M126.2,888.8v7.1M122.8,893.1h7.1M126.3,889.5v7.1M122.9,892.3h7.1M126.4,888.8v7.1M123,893.2h7.1M126.6,889.6v7.1M123.1,892h7.1M126.7,888.4v7.1M123.2,892.4h7.1M126.8,888.9v7.1M123.3,890.9h7.1M126.9,887.3v7.1M123.5,889.8h7.1M127,886.3v7.1M123.6,888h7.1M127.1,884.5v7.1M123.7,886.4h7.1M127.2,882.9v7.1M123.8,884.9h7.1M127.3,881.4v7.1M123.9,883.2h7.1M127.4,879.6v7.1M124,880h7.1M127.6,876.5v7.1M124.1,878.8h7.1M127.7,875.3v7.1M124.2,877.7h7.1M127.8,874.2v7.1M124.3,874.9h7.1M127.9,871.3v7.1M124.5,873.5h7.1M128,869.9v7.1M124.6,872.4h7.1M128.1,868.9v7.1M124.7,871.7h7.1M128.2,868.2v7.1M124.8,873.8h7.1M128.3,870.3v7.1M124.9,873.7h7.1M128.4,870.2v7.1M125,874.9h7.1M128.6,871.4v7.1M125.1,877.2h7.1M128.7,873.6v7.1M125.2,878.7h7.1M128.8,875.1v7.1M125.3,878.6h7.1M128.9,875v7.1M125.5,881.6h7.1M129,878v7.1M125.6,883h7.1M129.1,879.4v7.1M125.7,884.4h7.1M129.2,880.9v7.1M125.8,886h7.1M129.3,882.5v7.1M125.9,887.1h7.1M129.5,883.5v7.1M126,889.4h7.1M129.6,885.9v7.1M126.1,889.9h7.1M129.7,886.3v7.1M126.2,890.6h7.1M129.8,887.1v7.1M126.3,892h7.1M129.9,888.5v7.1M126.5,892.4h7.1M130,888.9v7.1M126.6,892.7h7.1M130.1,889.1v7.1M126.7,893h7.1M130.2,889.5v7.1M126.8,894.3h7.1M130.3,890.7v7.1M126.9,893.7h7.1M130.5,890.1v7.1M127,893.4h7.1M130.6,889.9v7.1M127.1,893h7.1M130.7,889.5v7.1M127.2,893.5h7.1M130.8,889.9v7.1M127.4,893h7.1M130.9,889.5v7.1M127.5,893.8h7.1M131,890.2v7.1M127.6,893.9h7.1M131.1,890.3v7.1M127.7,892.5h7.1M131.2,888.9v7.1M127.8,893.5h7.1M131.4,890v7.1M127.9,893.8h7.1M131.5,890.2v7.1M128,893.2h7.1M131.6,889.7v7.1M128.1,892.1h7.1M131.7,888.6v7.1M128.3,893.2h7.1M131.8,889.7v7.1M128.4,891.3h7.1M131.9,887.7v7.1M128.5,890h7.1M132,886.5v7.1M128.6,889h7.1M132.1,885.5v7.1M128.7,888.2h7.1M132.3,884.7v7.1M128.8,886.9h7.1M132.4,883.3v7.1M128.9,884.5h7.1M132.5,880.9v7.1M129,880.7h7.1M132.6,877.1v7.1M129.2,875.9h7.1M132.7,872.3v7.1M129.3,871.7h7.1M132.8,868.1v7.1M129.4,866.3h7.1M132.9,862.8v7.1M129.5,861h7.1M133,857.5v7.1M129.6,853.8h7.1M133.2,850.2v7.1M129.7,848.6h7.1M133.3,845.1v7.1M129.8,842.8h7.1M133.4,839.2v7.1M129.9,836.5h7.1M133.5,832.9v7.1M130.1,832h7.1M133.6,828.4v7.1M130.2,827.5h7.1M133.7,823.9v7.1M130.3,825.2h7.1M133.8,821.6v7.1M130.4,825.6h7.1M134,822.1v7.1M130.5,828h7.1M134.1,824.5v7.1M130.6,830.3h7.1M134.2,826.8v7.1M130.7,832.7h7.1M134.3,829.1v7.1M130.9,838h7.1M134.4,834.5v7.1M131,841.7h7.1M134.5,838.2v7.1M131.1,848.1h7.1M134.6,844.5v7.1M131.2,852.6h7.1M134.7,849.1v7.1M131.3,857.2h7.1M134.9,853.6v7.1M131.4,863.1h7.1M135,859.5v7.1M131.5,866.7h7.1M135.1,863.2v7.1M131.6,870.9h7.1M135.2,867.4v7.1M131.8,874.5h7.1M135.3,870.9v7.1M131.9,879h7.1M135.4,875.5v7.1M132,881.8h7.1M135.5,878.2v7.1M132.1,884.3h7.1M135.7,880.7v7.1M132.2,886.1h7.1M135.8,882.6v7.1M132.3,889.1h7.1M135.9,885.5v7.1M132.4,889.2h7.1M136,885.6v7.1M132.6,890.1h7.1M136.1,886.5v7.1M132.7,892.3h7.1M136.2,888.7v7.1M132.8,893.1h7.1M136.3,889.5v7.1M132.9,892.9h7.1M136.5,889.3v7.1M133,891.9h7.1M136.6,888.3v7.1M133.1,892.9h7.1M136.7,889.4v7.1M133.2,894h7.1M136.8,890.5v7.1M133.4,893.8h7.1M136.9,890.2v7.1M133.5,895h7.1M137,891.4v7.1M133.6,893.1h7.1M137.1,889.6v7.1M133.7,894.6h7.1M137.2,891.1v7.1M133.8,893.8h7.1M137.4,890.3v7.1M133.9,895.2h7.1M137.5,891.7v7.1M134,894.3h7.1M137.6,890.8v7.1M134.2,895.2h7.1M137.7,891.6v7.1M134.3,894.1h7.1M137.8,890.5v7.1M134.4,893.6h7.1M137.9,890v7.1M134.5,893.8h7.1M138.1,890.3v7.1M134.6,894.2h7.1M138.2,890.7v7.1M134.7,893.9h7.1M138.3,890.4v7.1M135.4,895.5h7.1M139,892v7.1M136.1,895.6h7.1M139.7,892v7.1M136.8,894.5h7.1M140.4,891v7.1M136.9,893.5h7.1M140.5,889.9v7.1M137.1,893.9h7.1M140.6,890.4v7.1M137.2,893.3h7.1M140.7,889.8v7.1M137.3,894.4h7.1M140.8,890.9v7.1M137.4,893.2h7.1M141,889.7v7.1M137.5,892.7h7.1M141.1,889.2v7.1M137.6,891.3h7.1M141.2,887.8v7.1M137.8,889.4h7.1M141.3,885.8v7.1M137.9,888.6h7.1M141.4,885v7.1M138,886.6h7.1M141.5,883v7.1M138.1,885.4h7.1M141.6,881.8v7.1M138.2,882.6h7.1M141.8,879v7.1M138.3,878.8h7.1M141.9,875.3v7.1M138.4,875.5h7.1M142,872v7.1M138.6,872.9h7.1M142.1,869.3v7.1M138.7,866.9h7.1M142.2,863.4v7.1M138.8,862.6h7.1M142.3,859.1v7.1M138.9,858.8h7.1M142.5,855.2v7.1M139,854.5h7.1M142.6,850.9v7.1M139.1,851.3h7.1M142.7,847.7v7.1M139.3,849.4h7.1M142.8,845.8v7.1M139.4,848.7h7.1M142.9,845.2v7.1M139.5,846.2h7.1M143,842.6v7.1M139.6,848.1h7.1M143.2,844.5v7.1M139.7,849.6h7.1M143.3,846.1v7.1M139.8,851.7h7.1M143.4,848.2v7.1M140,854.4h7.1M143.5,850.9v7.1M140.1,857.5h7.1M143.6,854v7.1M140.2,861.9h7.1M143.7,858.4v7.1M140.3,864.5h7.1M143.9,860.9v7.1M140.4,868.3h7.1M144,864.8v7.1M140.5,871.9h7.1M144.1,868.3v7.1M140.7,875.3h7.1M144.2,871.7v7.1M140.8,878.1h7.1M144.3,874.6v7.1M140.9,881.7h7.1M144.4,878.1v7.1M141,883.4h7.1M144.5,879.9v7.1M141.1,885.7h7.1M144.7,882.1v7.1M141.2,887.4h7.1M144.8,883.8v7.1M141.3,888.2h7.1M144.9,884.7v7.1M141.5,889.6h7.1M145,886.1v7.1M141.6,890.5h7.1M145.1,886.9v7.1M141.7,892.2h7.1M145.2,888.6v7.1M141.8,892.2h7.1M145.4,888.7v7.1M141.9,892.5h7.1M145.5,888.9v7.1M142,893.8h7.1M145.6,890.2v7.1M142.2,894.3h7.1M145.7,890.7v7.1M142.3,893h7.1M145.8,889.5v7.1M142.4,895.5h7.1M146,892v7.1M142.5,894.6h7.1M146.1,891v7.1M142.6,894.6h7.1M146.2,891v7.1M142.8,895.5h7.1M146.3,891.9v7.1M142.9,894.9h7.1M146.4,891.4v7.1M143,894.5h7.1M146.5,891v7.1M143.1,896.1h7.1M146.7,892.6v7.1M143.8,894.5h7.1M147.4,891v7.1M144.5,895.3h7.1M148.1,891.8v7.1M145.2,896.1h7.1M148.8,892.6v7.1M145.9,894.9h7.1M149.5,891.3v7.1M146.6,895.6h7.1M150.2,892v7.1M147.3,896h7.1M150.9,892.4v7.1M148,896.9h7.1M151.6,893.3v7.1M148.7,895.1h7.1M152.3,891.6v7.1M149.4,895.7h7.1M153,892.2v7.1M150.1,896.2h7.1M153.7,892.6v7.1M150.8,895.8h7.1M154.4,892.2v7.1M151.5,894.9h7.1M155.1,891.3v7.1M152.2,895.9h7.1M155.8,892.4v7.1M152.9,895.6h7.1M156.5,892.1v7.1M153.6,895.7h7.1M157.2,892.2v7.1M154.3,896h7.1M157.9,892.5v7.1M155,895.6h7.1M158.6,892.1v7.1M155.1,895.2h7.1M158.7,891.6v7.1M155.2,895h7.1M158.8,891.5v7.1M155.4,894h7.1M158.9,890.4v7.1M155.5,894.6h7.1M159,891v7.1M155.6,894.7h7.1M159.2,891.1v7.1M155.7,894.2h7.1M159.3,890.6v7.1M155.8,894.4h7.1M159.4,890.8v7.1M156,893.6h7.1M159.5,890v7.1M156.1,895h7.1M159.6,891.4v7.1M156.2,894.9h7.1M159.8,891.3v7.1M156.3,893.2h7.1M159.9,889.6v7.1M156.5,893.3h7.1M160,889.8v7.1M156.6,892.4h7.1M160.1,888.8v7.1M156.7,892.7h7.1M160.2,889.1v7.1M156.8,891.2h7.1M160.4,887.6v7.1M156.9,889.7h7.1M160.5,886.1v7.1M157.1,887.8h7.1M160.6,884.3v7.1M157.2,885.9h7.1M160.7,882.4v7.1M157.3,882.4h7.1M160.9,878.8v7.1M157.4,880h7.1M161,876.4v7.1M157.5,874.7h7.1M161.1,871.1v7.1M157.7,870.2h7.1M161.2,866.7v7.1M157.8,863.7h7.1M161.3,860.2v7.1M157.9,857.3h7.1M161.5,853.7v7.1M158,848.5h7.1M161.6,845v7.1M158.2,840.6h7.1M161.7,837.1v7.1M158.3,830.3h7.1M161.8,826.8v7.1M158.4,822.3h7.1M162,818.8v7.1M158.5,813.1h7.1M162.1,809.5v7.1M158.6,805.6h7.1M162.2,802.1v7.1M158.8,799.2h7.1M162.3,795.7v7.1M158.9,795.4h7.1M162.4,791.9v7.1M159,791.6h7.1M162.6,788v7.1M159.1,793.2h7.1M162.7,789.7v7.1M159.3,794h7.1M162.8,790.5v7.1M159.4,799.5h7.1M162.9,795.9v7.1M159.5,802.5h7.1M163.1,798.9v7.1M159.6,809h7.1M163.2,805.5v7.1M159.7,815.4h7.1M163.3,811.8v7.1M159.9,824.9h7.1M163.4,821.4v7.1M160,830.4h7.1M163.5,826.9v7.1M160.1,838.8h7.1M163.7,835.3v7.1M160.2,845.6h7.1M163.8,842.1v7.1M160.4,851.7h7.1M163.9,848.1v7.1M160.5,858.9h7.1M164,855.3v7.1M160.6,865.3h7.1M164.2,861.7v7.1M160.7,869.8h7.1M164.3,866.3v7.1M160.8,875h7.1M164.4,871.5v7.1M161,877.9h7.1M164.5,874.4v7.1M161.1,881.4h7.1M164.6,877.8v7.1M161.2,883.8h7.1M164.8,880.2v7.1M161.3,886.5h7.1M164.9,882.9v7.1M161.5,889.1h7.1M165,885.6v7.1M161.6,889.6h7.1M165.1,886.1v7.1M161.7,890.6h7.1M165.3,887.1v7.1M161.8,891h7.1M165.4,887.4v7.1M162,891.6h7.1M165.5,888v7.1M162.1,893.6h7.1M165.6,890.1v7.1M162.2,892.3h7.1M165.8,888.8v7.1M162.3,892.8h7.1M165.9,889.2v7.1M162.4,893.6h7.1M166,890.1v7.1M162.6,893.6h7.1M166.1,890.1v7.1M162.7,895.2h7.1M166.2,891.7v7.1M162.8,893.1h7.1M166.4,889.5v7.1M162.9,894.6h7.1M166.5,891.1v7.1M163.1,895h7.1M166.6,891.4v7.1M163.2,893.8h7.1M166.7,890.3v7.1M163.3,894.2h7.1M166.9,890.7v7.1M163.4,895h7.1M167,891.5v7.1M163.6,895.9h7.1M167.1,892.4v7.1M163.7,894.3h7.1M167.2,890.7v7.1M163.8,893.9h7.1M167.4,890.3v7.1M163.9,895.7h7.1M167.5,892.1v7.1M164.1,896.1h7.1M167.6,892.6v7.1M164.2,894.9h7.1M167.7,891.4v7.1M164.3,894h7.1M167.8,890.5v7.1M165,896.4h7.1M168.5,892.8v7.1M165.7,895.4h7.1M169.2,891.9v7.1M166.4,896.4h7.1M169.9,892.8v7.1M167.1,895.5h7.1M170.6,892v7.1M167.8,894.8h7.1M171.3,891.3v7.1M167.9,894.6h7.1M171.5,891.1v7.1M168,895.8h7.1M171.6,892.2v7.1M168.2,895.6h7.1M171.7,892.1v7.1M168.3,893.3h7.1M171.8,889.8v7.1M168.4,893.7h7.1M172,890.1v7.1M168.5,895.4h7.1M172.1,891.8v7.1M168.7,893.8h7.1M172.2,890.3v7.1M168.8,893.1h7.1M172.3,889.6v7.1M168.9,894h7.1M172.5,890.5v7.1M169,893.9h7.1M172.6,890.4v7.1M169.2,894h7.1M172.7,890.4v7.1M169.3,893.8h7.1M172.8,890.3v7.1M169.4,894h7.1M173,890.5v7.1M169.6,894h7.1M173.1,890.5v7.1M169.7,894.7h7.1M173.2,891.1v7.1M169.8,894.1h7.1M173.4,890.5v7.1M169.9,894.5h7.1M173.5,891v7.1M170.1,894.8h7.1M173.6,891.2v7.1M170.2,895.9h7.1M173.7,892.4v7.1M170.3,895.4h7.1M173.9,891.9v7.1M170.4,895.2h7.1M174,891.6v7.1M170.6,895.7h7.1M174.1,892.2v7.1M170.7,895.7h7.1M174.2,892.2v7.1M171.4,896.5h7.1M174.9,893v7.1M172.1,896.2h7.1M175.6,892.7v7.1M172.8,897.1h7.1M176.3,893.5v7.1M173.5,896.8h7.1M177,893.3v7.1M174.2,895.9h7.1M177.7,892.3v7.1M174.9,895.6h7.1M178.4,892v7.1M175.6,896.4h7.1M179.1,892.9v7.1M176.3,896.1h7.1M179.8,892.6v7.1M177,895.6h7.1M180.5,892.1v7.1M177.7,894.5h7.1M181.2,891v7.1M178.4,894.2h7.1M181.9,890.7v7.1M179.1,895.4h7.1M182.6,891.9v7.1M179.2,895.7h7.1M182.8,892.1v7.1M179.3,895.7h7.1M182.9,892.1v7.1M179.5,894.2h7.1M183,890.6v7.1M179.6,895.7h7.1M183.1,892.2v7.1M179.7,894.6h7.1M183.3,891v7.1M179.9,895.1h7.1M183.4,891.6v7.1M180,895.1h7.1M183.5,891.5v7.1M180.1,894.2h7.1M183.7,890.6v7.1M180.2,894.2h7.1M183.8,890.7v7.1M180.4,893.4h7.1M183.9,889.8v7.1M180.5,893.8h7.1M184,890.2v7.1M180.6,893.1h7.1M184.2,889.5v7.1M180.8,894.3h7.1M184.3,890.8v7.1M180.9,893.8h7.1M184.4,890.3v7.1M181,894.1h7.1M184.6,890.6v7.1M181.1,893.3h7.1M184.7,889.8v7.1M181.3,892.1h7.1M184.8,888.6v7.1M181.4,892.2h7.1M184.9,888.6v7.1M181.5,890.9h7.1M185.1,887.3v7.1M181.7,890.6h7.1M185.2,887v7.1M181.8,889.2h7.1M185.3,885.6v7.1M181.9,886.9h7.1M185.5,883.3v7.1M182,885.9h7.1M185.6,882.4v7.1M182.2,884.1h7.1M185.7,880.6v7.1M182.3,881.8h7.1M185.9,878.2v7.1M182.4,880.4h7.1M186,876.8v7.1M182.6,878.6h7.1M186.1,875.1v7.1M182.7,874.9h7.1M186.2,871.4v7.1M182.8,872.7h7.1M186.4,869.2v7.1M182.9,869.8h7.1M186.5,866.3v7.1M183.1,869.3h7.1M186.6,865.7v7.1M183.2,868h7.1M186.8,864.4v7.1M183.3,866.6h7.1M186.9,863v7.1M183.5,867.9h7.1M187,864.4v7.1M183.6,868.5h7.1M187.1,865v7.1M183.7,868.4h7.1M187.3,864.8v7.1M183.9,869.7h7.1M187.4,866.2v7.1M184,870.6h7.1M187.5,867v7.1M184.1,873.2h7.1M187.7,869.6v7.1M184.2,873.1h7.1M187.8,869.6v7.1M184.4,875.4h7.1M187.9,871.8v7.1M184.5,878.1h7.1M188.1,874.5v7.1M184.6,878.2h7.1M188.2,874.6v7.1M184.8,879.5h7.1M188.3,875.9v7.1M184.9,879.8h7.1M188.4,876.3v7.1M185,879.6h7.1M188.6,876v7.1M185.2,880.4h7.1M188.7,876.8v7.1M185.3,880.3h7.1M188.8,876.8v7.1M185.4,878.3h7.1M189,874.8v7.1M185.5,877.6h7.1M189.1,874v7.1M185.7,875.5h7.1M189.2,872v7.1M185.8,871.5h7.1M189.4,868v7.1M185.9,864.4h7.1M189.5,860.9v7.1M186.1,857.7h7.1M189.6,854.1v7.1M186.2,847.9h7.1M189.8,844.3v7.1M186.3,837.7h7.1M189.9,834.2v7.1M186.5,822.6h7.1M190,819v7.1M186.6,804.6h7.1M190.1,801.1v7.1M186.7,782.3h7.1M190.3,778.8v7.1M186.9,757.8h7.1M190.4,754.3v7.1M187,731.6h7.1M190.5,728.1v7.1M187.1,702.5h7.1M190.7,699v7.1M187.2,671.5h7.1M190.8,668v7.1M187.4,641.8h7.1M190.9,638.2v7.1M187.5,612.9h7.1M191.1,609.3v7.1M187.6,585.9h7.1M191.2,582.4v7.1M187.8,562.6h7.1M191.3,559.1v7.1M187.9,545.4h7.1M191.5,541.8v7.1M188,536.7h7.1M191.6,533.1v7.1M188.2,535.2h7.1M191.7,531.7v7.1M188.3,539.7h7.1M191.8,536.2v7.1M188.4,549.7h7.1M192,546.2v7.1M188.6,564.4h7.1M192.1,560.9v7.1M188.7,584.2h7.1M192.2,580.6v7.1M188.8,605.6h7.1M192.4,602v7.1M189,629.7h7.1M192.5,626.1v7.1M189.1,654.1h7.1M192.6,650.5v7.1M189.2,679.7h7.1M192.8,676.2v7.1M189.3,705.3h7.1M192.9,701.7v7.1M189.5,728.4h7.1M193,724.8v7.1M189.6,750.5h7.1M193.2,747v7.1M189.7,771.7h7.1M193.3,768.1v7.1M189.9,791.2h7.1M193.4,787.6v7.1M190,806.9h7.1M193.6,803.3v7.1M190.1,822.1h7.1M193.7,818.5v7.1M190.3,833.4h7.1M193.8,829.9v7.1M190.4,843.9h7.1M194,840.4v7.1M190.5,852.1h7.1M194.1,848.6v7.1M190.7,860.2h7.1M194.2,856.7v7.1M190.8,867.8h7.1M194.3,864.3v7.1M190.9,872.3h7.1M194.5,868.7v7.1M191.1,876.7h7.1M194.6,873.2v7.1M191.2,880.2h7.1M194.7,876.6v7.1M191.3,882.4h7.1M194.9,878.9v7.1M191.5,884.5h7.1M195,881v7.1M191.6,886.5h7.1M195.1,883v7.1M191.7,888.3h7.1M195.3,884.8v7.1M191.9,889.3h7.1M195.4,885.8v7.1M192,890.2h7.1M195.5,886.7v7.1M192.1,890.6h7.1M195.7,887.1v7.1M192.3,890.5h7.1M195.8,887v7.1M192.4,891.3h7.1M195.9,887.7v7.1M192.5,891.1h7.1M196.1,887.5v7.1M192.6,892.6h7.1M196.2,889.1v7.1M192.8,891h7.1M196.3,887.4v7.1M192.9,892.1h7.1M196.5,888.5v7.1M193,893.5h7.1M196.6,889.9v7.1M193.2,892.2h7.1M196.7,888.7v7.1M193.3,891.8h7.1M196.9,888.2v7.1M193.4,892.6h7.1M197,889.1v7.1M193.6,893.6h7.1M197.1,890.1v7.1M193.7,892.7h7.1M197.3,889.2v7.1M193.8,893.4h7.1M197.4,889.8v7.1M194,893.1h7.1M197.5,889.6v7.1M194.1,892.9h7.1M197.7,889.4v7.1M194.2,894.5h7.1M197.8,890.9v7.1M194.4,893.5h7.1M197.9,889.9v7.1M194.5,893.2h7.1M198.1,889.7v7.1M194.6,893.4h7.1M198.2,889.8v7.1M194.8,894.1h7.1M198.3,890.5v7.1M194.9,894.2h7.1M198.5,890.6v7.1M195,894.5h7.1M198.6,891v7.1M195.2,894.2h7.1M198.7,890.7v7.1M195.3,893.2h7.1M198.9,889.7v7.1M195.4,894.7h7.1M199,891.1v7.1M195.6,894.2h7.1M199.1,890.6v7.1M195.7,894.3h7.1M199.3,890.7v7.1M195.8,893.5h7.1M199.4,890v7.1M196,894.2h7.1M199.5,890.7v7.1M196.1,894.2h7.1M199.7,890.6v7.1M196.2,894.7h7.1M199.8,891.2v7.1M196.4,893.8h7.1M199.9,890.3v7.1M196.5,894.9h7.1M200.1,891.4v7.1M196.6,895h7.1M200.2,891.5v7.1M196.8,894.2h7.1M200.3,890.7v7.1M196.9,894.6h7.1M200.5,891.1v7.1M197,894.5h7.1M200.6,891v7.1M197.2,895.8h7.1M200.7,892.2v7.1M197.3,894h7.1M200.9,890.5v7.1M197.5,895h7.1M201,891.4v7.1M197.6,894.1h7.1M201.1,890.6v7.1M197.7,895h7.1M201.3,891.5v7.1M197.9,895.9h7.1M201.4,892.4v7.1M198,895h7.1M201.5,891.4v7.1M198.1,895.5h7.1M201.7,892v7.1M198.3,894.9h7.1M201.8,891.3v7.1M198.4,896.6h7.1M201.9,893.1v7.1M198.5,896.1h7.1M202.1,892.6v7.1M198.7,896.3h7.1M202.2,892.8v7.1M198.8,894.7h7.1M202.3,891.1v7.1M198.9,894.9h7.1M202.5,891.3v7.1M199.1,896.4h7.1M202.6,892.8v7.1M199.2,895.5h7.1M202.7,892v7.1M199.3,895.5h7.1M202.9,892v7.1M200,896h7.1M203.6,892.5v7.1M200.7,895h7.1M204.3,891.5v7.1M201.4,896.5h7.1M205,892.9v7.1M202.1,896h7.1M205.7,892.5v7.1M202.8,896.4h7.1M206.4,892.8v7.1M203.5,895.6h7.1M207.1,892.1v7.1M204.2,896.4h7.1M207.8,892.9v7.1M204.9,895.6h7.1M208.5,892.1v7.1M205.6,896.7h7.1M209.2,893.2v7.1M206.3,896.8h7.1M209.9,893.2v7.1M207,896.6h7.1M210.6,893v7.1M207.7,896.2h7.1M211.3,892.7v7.1M208.4,896.2h7.1M212,892.6v7.1M208.6,894.5h7.1M212.1,891v7.1M208.7,896.2h7.1M212.3,892.7v7.1M208.8,895.4h7.1M212.4,891.9v7.1M209,895.7h7.1M212.5,892.1v7.1M209.1,895.4h7.1M212.7,891.8v7.1M209.3,894.6h7.1M212.8,891v7.1M209.4,895.1h7.1M212.9,891.5v7.1M209.5,895.9h7.1M213.1,892.3v7.1M209.7,896.3h7.1M213.2,892.8v7.1M209.8,894.9h7.1M213.4,891.3v7.1M209.9,894.6h7.1M213.5,891.1v7.1M210.1,896.2h7.1M213.6,892.6v7.1M210.2,894.5h7.1M213.8,890.9v7.1M210.4,896.2h7.1M213.9,892.6v7.1M210.5,895h7.1M214,891.4v7.1M210.6,894.2h7.1M214.2,890.7v7.1M210.8,895.4h7.1M214.3,891.9v7.1M210.9,895.8h7.1M214.5,892.2v7.1M211.1,893.6h7.1M214.6,890v7.1M211.2,895.5h7.1M214.7,891.9v7.1M211.3,894.1h7.1M214.9,890.5v7.1M211.5,895.1h7.1M215,891.6v7.1M211.6,893.7h7.1M215.2,890.1v7.1M211.7,892.7h7.1M215.3,889.1v7.1M211.9,893.9h7.1M215.4,890.4v7.1M212,894h7.1M215.6,890.4v7.1M212.2,894.2h7.1M215.7,890.7v7.1M212.3,893.9h7.1M215.8,890.3v7.1M212.4,892.8h7.1M216,889.3v7.1M212.6,891.7h7.1M216.1,888.1v7.1M212.7,890.9h7.1M216.3,887.3v7.1M212.9,890.2h7.1M216.4,886.7v7.1M213,888.8h7.1M216.5,885.3v7.1M213.1,887.9h7.1M216.7,884.3v7.1M213.3,885.1h7.1M216.8,881.6v7.1M213.4,884.1h7.1M217,880.6v7.1M213.5,881h7.1M217.1,877.4v7.1M213.7,878.3h7.1M217.2,874.8v7.1M213.8,872.9h7.1M217.4,869.3v7.1M214,866h7.1M217.5,862.5v7.1M214.1,859.4h7.1M217.7,855.9v7.1M214.2,849.5h7.1M217.8,846v7.1M214.4,839.7h7.1M217.9,836.2v7.1M214.5,827.3h7.1M218.1,823.8v7.1M214.7,816.5h7.1M218.2,812.9v7.1M214.8,801.7h7.1M218.4,798.2v7.1M214.9,785.6h7.1M218.5,782.1v7.1M215.1,771.1h7.1M218.6,767.5v7.1M215.2,756.7h7.1M218.8,753.2v7.1M215.4,742.3h7.1M218.9,738.7v7.1M215.5,729.8h7.1M219.1,726.2v7.1M215.6,718.9h7.1M219.2,715.4v7.1M215.8,712.3h7.1M219.3,708.8v7.1M215.9,709.8h7.1M219.5,706.3v7.1M216.1,711h7.1M219.6,707.5v7.1M216.2,713.2h7.1M219.7,709.6v7.1M216.3,718.7h7.1M219.9,715.2v7.1M216.5,728.1h7.1M220,724.6v7.1M216.6,736.3h7.1M220.2,732.8v7.1M216.8,748.7h7.1M220.3,745.1v7.1M216.9,759.9h7.1M220.4,756.4v7.1M217,772.7h7.1M220.6,769.2v7.1M217.2,785.8h7.1M220.7,782.3v7.1M217.3,797.4h7.1M220.9,793.9v7.1M217.5,809.4h7.1M221,805.9v7.1M217.6,819.5h7.1M221.2,815.9v7.1M217.7,830.1h7.1M221.3,826.5v7.1M217.9,840.5h7.1M221.4,836.9v7.1M218,849.6h7.1M221.6,846.1v7.1M218.2,857h7.1M221.7,853.5v7.1M218.3,863.8h7.1M221.9,860.2v7.1M218.4,868.4h7.1M222,864.9v7.1M218.6,873.1h7.1M222.1,869.5v7.1M218.7,877.6h7.1M222.3,874v7.1M218.9,880.1h7.1M222.4,876.6v7.1M219,882.7h7.1M222.6,879.2v7.1M219.1,884.2h7.1M222.7,880.6v7.1M219.3,887.3h7.1M222.8,883.7v7.1M219.4,887.2h7.1M223,883.7v7.1M219.6,889.4h7.1M223.1,885.8v7.1M219.7,888.9h7.1M223.3,885.4v7.1M219.9,891.3h7.1M223.4,887.8v7.1M220,890.4h7.1M223.5,886.9v7.1M220.1,892.1h7.1M223.7,888.6v7.1M220.3,890.8h7.1M223.8,887.3v7.1M220.4,891.9h7.1M224,888.3v7.1M220.6,893.2h7.1M224.1,889.7v7.1M220.7,892.1h7.1M224.2,888.5v7.1M220.8,892.8h7.1M224.4,889.3v7.1M221,892.6h7.1M224.5,889v7.1M221.1,891.9h7.1M224.7,888.3v7.1M221.3,893.3h7.1M224.8,889.8v7.1M221.4,893.5h7.1M225,889.9v7.1M221.5,892.5h7.1M225.1,889v7.1M221.7,893.7h7.1M225.2,890.1v7.1M221.8,892.8h7.1M225.4,889.2v7.1M222,892.6h7.1M225.5,889.1v7.1M222.1,893.3h7.1M225.7,889.8v7.1M222.3,892.8h7.1M225.8,889.2v7.1M222.4,894.3h7.1M225.9,890.8v7.1M222.5,892h7.1M226.1,888.5v7.1M222.7,893.4h7.1M226.2,889.8v7.1M222.8,893.3h7.1M226.4,889.8v7.1M223,891.2h7.1M226.5,887.6v7.1M223.1,890.7h7.1M226.7,887.2v7.1M223.3,891.6h7.1M226.8,888.1v7.1M223.4,890.1h7.1M226.9,886.5v7.1M223.5,889.6h7.1M227.1,886v7.1M223.7,888.6h7.1M227.2,885.1v7.1M223.8,885.7h7.1M227.4,882.2v7.1M224,882.9h7.1M227.5,879.3v7.1M224.1,879.5h7.1M227.7,876v7.1M224.2,877.2h7.1M227.8,873.6v7.1M224.4,872.1h7.1M227.9,868.5v7.1M224.5,867.9h7.1M228.1,864.3v7.1M224.7,862h7.1M228.2,858.5v7.1M224.8,854.4h7.1M228.4,850.9v7.1M225,849.4h7.1M228.5,845.9v7.1M225.1,841.5h7.1M228.7,837.9v7.1M225.2,833.6h7.1M228.8,830.1v7.1M225.4,824.6h7.1M228.9,821v7.1M225.5,817.9h7.1M229.1,814.4v7.1M225.7,811.4h7.1M229.2,807.8v7.1M225.8,806.3h7.1M229.4,802.7v7.1M226,802.2h7.1M229.5,798.7v7.1M226.1,801.6h7.1M229.7,798.1v7.1M226.2,801.7h7.1M229.8,798.1v7.1M226.4,803.4h7.1M229.9,799.9v7.1M226.5,805.8h7.1M230.1,802.2v7.1M226.7,811h7.1M230.2,807.5v7.1M226.8,815.3h7.1M230.4,811.7v7.1M227,819.6h7.1M230.5,816.1v7.1M227.1,826.4h7.1M230.7,822.9v7.1M227.2,833.1h7.1M230.8,829.6v7.1M227.4,840.2h7.1M230.9,836.6v7.1M227.5,845.6h7.1M231.1,842v7.1M227.7,851.7h7.1M231.2,848.1v7.1M227.8,857.1h7.1M231.4,853.5v7.1M228,863.2h7.1M231.5,859.7v7.1M228.1,867.3h7.1M231.7,863.8v7.1M228.3,871.5h7.1M231.8,868v7.1M228.4,875.2h7.1M231.9,871.7v7.1M228.5,879.4h7.1M232.1,875.9v7.1M228.7,881.6h7.1M232.2,878v7.1M228.8,883.2h7.1M232.4,879.7v7.1M229,886.8h7.1M232.5,883.3v7.1M229.1,887.6h7.1M232.7,884v7.1M229.3,889.7h7.1M232.8,886.1v7.1M229.4,890.8h7.1M233,887.3v7.1M229.5,892.3h7.1M233.1,888.7v7.1M229.7,892.9h7.1M233.2,889.3v7.1M229.8,892.3h7.1M233.4,888.8v7.1M230,893.1h7.1M233.5,889.5v7.1M230.1,892.6h7.1M233.7,889.1v7.1M230.3,894.9h7.1M233.8,891.4v7.1M230.4,894.3h7.1M234,890.7v7.1M230.6,895.1h7.1M234.1,891.5v7.1M230.7,894h7.1M234.3,890.5v7.1M230.8,893.2h7.1M234.4,889.6v7.1M231,895.4h7.1M234.5,891.8v7.1M231.1,894.4h7.1M234.7,890.9v7.1M231.3,894.4h7.1M234.8,890.9v7.1M231.4,894.3h7.1M235,890.7v7.1M231.6,894.6h7.1M235.1,891.1v7.1M231.7,894.4h7.1M235.3,890.9v7.1M231.9,892.9h7.1M235.4,889.3v7.1M232,894.5h7.1M235.6,891v7.1M232.1,893.3h7.1M235.7,889.8v7.1M232.3,893.2h7.1M235.8,889.7v7.1M232.4,894.6h7.1M236,891v7.1M232.6,893.9h7.1M236.1,890.4v7.1M232.7,893h7.1M236.3,889.5v7.1M232.9,892h7.1M236.4,888.5v7.1M233,893.3h7.1M236.6,889.8v7.1M233.2,893.6h7.1M236.7,890.1v7.1M233.3,893.2h7.1M236.9,889.7v7.1M233.5,892.5h7.1M237,889v7.1M233.6,892.9h7.1M237.1,889.4v7.1M233.7,892.7h7.1M237.3,889.2v7.1M233.9,893.8h7.1M237.4,890.3v7.1M234,894.3h7.1M237.6,890.8v7.1M234.2,894.6h7.1M237.7,891v7.1M234.3,893.5h7.1M237.9,889.9v7.1M234.5,894.2h7.1M238,890.7v7.1M234.6,894.5h7.1M238.2,891v7.1M234.8,893.9h7.1M238.3,890.3v7.1M234.9,894.1h7.1M238.5,890.6v7.1M235.1,895.4h7.1M238.6,891.9v7.1M235.2,894.4h7.1M238.8,890.8v7.1M235.3,894.8h7.1M238.9,891.3v7.1M235.5,893.8h7.1M239,890.3v7.1M235.6,894h7.1M239.2,890.5v7.1M235.8,892.7h7.1M239.3,889.1v7.1M235.9,893.6h7.1M239.5,890v7.1M236.1,894.1h7.1M239.6,890.5v7.1M236.2,894h7.1M239.8,890.4v7.1M236.4,893h7.1M239.9,889.5v7.1M236.5,891.9h7.1M240.1,888.3v7.1M236.7,890.4h7.1M240.2,886.9v7.1M236.8,888.6h7.1M240.4,885.1v7.1M237,887.2h7.1M240.5,883.6v7.1M237.1,885.4h7.1M240.7,881.9v7.1M237.2,881.6h7.1M240.8,878.1v7.1M237.4,879.3h7.1M240.9,875.7v7.1M237.5,873.7h7.1M241.1,870.2v7.1M237.7,868.1h7.1M241.2,864.6v7.1M237.8,862.7h7.1M241.4,859.1v7.1M238,855.4h7.1M241.5,851.8v7.1M238.1,848h7.1M241.7,844.4v7.1M238.3,841.4h7.1M241.8,837.8v7.1M238.4,831.6h7.1M242,828.1v7.1M238.6,822.8h7.1M242.1,819.3v7.1M238.7,814.4h7.1M242.3,810.8v7.1M238.9,805.8h7.1M242.4,802.2v7.1M239,796.7h7.1M242.6,793.1v7.1M239.2,791.3h7.1M242.7,787.8v7.1M239.3,785.8h7.1M242.9,782.3v7.1M239.5,782.8h7.1M243,779.2v7.1M239.6,782.5h7.1M243.1,779v7.1M239.7,782.5h7.1M243.3,778.9v7.1M239.9,785.6h7.1M243.4,782.1v7.1M240,790.2h7.1M243.6,786.6v7.1M240.2,795.8h7.1M243.7,792.3v7.1M240.3,801.3h7.1M243.9,797.8v7.1M240.5,808.3h7.1M244,804.7v7.1M240.6,816.3h7.1M244.2,812.7v7.1M240.8,824.1h7.1M244.3,820.5v7.1M240.9,831.1h7.1M244.5,827.6v7.1M241.1,838.8h7.1M244.6,835.3v7.1M241.2,844.8h7.1M244.8,841.2v7.1M241.4,851.5h7.1M244.9,847.9v7.1M241.5,858.1h7.1M245.1,854.5v7.1M241.7,863.3h7.1M245.2,859.7v7.1M241.8,868.2h7.1M245.4,864.6v7.1M242,874.1h7.1M245.5,870.6v7.1M242.1,876.7h7.1M245.7,873.2v7.1M242.3,879.5h7.1M245.8,876v7.1M242.4,883.3h7.1M246,879.8v7.1M242.6,886.5h7.1M246.1,882.9v7.1M242.7,887.3h7.1M246.2,883.8v7.1M242.8,889.7h7.1M246.4,886.2v7.1M243,889.9h7.1M246.5,886.3v7.1M243.1,890.9h7.1M246.7,887.3v7.1M243.3,891.6h7.1M246.8,888v7.1M243.4,892.6h7.1M247,889.1v7.1M243.6,894.4h7.1M247.1,890.9v7.1M243.7,892.9h7.1M247.3,889.4v7.1M243.9,895.2h7.1M247.4,891.6v7.1M244,893.7h7.1M247.6,890.1v7.1M244.2,894.4h7.1M247.7,890.9v7.1M244.3,895.4h7.1M247.9,891.8v7.1M244.5,895.4h7.1M248,891.8v7.1M244.6,895.3h7.1M248.2,891.8v7.1M244.8,894.1h7.1M248.3,890.6v7.1M244.9,895.6h7.1M248.5,892.1v7.1M245.1,894.8h7.1M248.6,891.2v7.1M245.2,896.7h7.1M248.8,893.2v7.1M245.4,895.5h7.1M248.9,892v7.1M245.5,895.9h7.1M249.1,892.3v7.1M245.7,895h7.1M249.2,891.5v7.1M245.8,895.5h7.1M249.4,892v7.1M246,895.1h7.1M249.5,891.5v7.1M246.1,896.7h7.1M249.7,893.1v7.1M246.3,895.9h7.1M249.8,892.3v7.1M246.4,896.5h7.1M250,892.9v7.1M246.6,895.7h7.1M250.1,892.1v7.1M246.7,895.8h7.1M250.3,892.3v7.1M246.9,897.1h7.1M250.4,893.5v7.1M247,895.6h7.1M250.6,892v7.1M247.2,895.1h7.1M250.7,891.6v7.1M247.3,896.6h7.1M250.9,893.1v7.1M247.5,895.6h7.1M251,892v7.1M247.6,896.1h7.1M251.2,892.5v7.1M247.8,897h7.1M251.3,893.5v7.1M247.9,895.9h7.1M251.5,892.3v7.1M248.1,897h7.1M251.6,893.5v7.1M248.2,896h7.1M251.8,892.4v7.1M248.4,897.5h7.1M251.9,893.9v7.1M248.5,897.4h7.1M252.1,893.8v7.1M248.7,896.2h7.1M252.2,892.6v7.1M249.4,896.4h7.1M252.9,892.8v7.1M250.1,895.9h7.1M253.6,892.4v7.1M250.2,896.6h7.1M253.8,893v7.1M250.4,897.2h7.1M253.9,893.7v7.1M250.5,895.4h7.1M254.1,891.9v7.1M250.7,897h7.1M254.2,893.4v7.1M250.8,895.4h7.1M254.4,891.9v7.1M251,895.7h7.1M254.5,892.2v7.1M251.1,895.1h7.1M254.7,891.6v7.1M251.3,897.4h7.1M254.8,893.8v7.1M251.4,896.2h7.1M255,892.6v7.1M251.6,896.2h7.1M255.1,892.7v7.1M251.7,895.5h7.1M255.3,892v7.1M251.9,896.6h7.1M255.4,893.1v7.1M252,894.6h7.1M255.6,891v7.1M252.2,895.6h7.1M255.7,892v7.1M252.3,896.5h7.1M255.9,893v7.1M252.5,894.8h7.1M256,891.3v7.1M252.6,894.7h7.1M256.2,891.2v7.1M252.8,894.7h7.1M256.3,891.1v7.1M252.9,893.1h7.1M256.5,889.5v7.1M253.1,892.8h7.1M256.6,889.3v7.1M253.2,892.4h7.1M256.8,888.8v7.1M253.4,890.5h7.1M256.9,887v7.1M253.5,889h7.1M257.1,885.4v7.1M253.7,886.4h7.1M257.2,882.8v7.1M253.8,884.3h7.1M257.4,880.8v7.1M254,881.1h7.1M257.5,877.6v7.1M254.1,878.5h7.1M257.7,875v7.1M254.3,874h7.1M257.8,870.5v7.1M254.4,868.8h7.1M258,865.3v7.1M254.6,862.9h7.1M258.1,859.4v7.1M254.8,859.3h7.1M258.3,855.7v7.1M254.9,853.9h7.1M258.5,850.3v7.1M255.1,847.3h7.1M258.6,843.8v7.1M255.2,841.6h7.1M258.8,838v7.1M255.4,837.2h7.1M258.9,833.6v7.1M255.5,834.5h7.1M259.1,831v7.1M255.7,830.1h7.1M259.2,826.5v7.1M255.8,828.6h7.1M259.4,825.1v7.1M256,828.6h7.1M259.5,825v7.1M256.1,829.8h7.1M259.7,826.3v7.1M256.3,830.5h7.1M259.8,826.9v7.1M256.4,832.7h7.1M260,829.2v7.1M256.6,835.5h7.1M260.1,831.9v7.1M256.7,840.5h7.1M260.3,837v7.1M256.9,844.2h7.1M260.4,840.6v7.1M257,847.7h7.1M260.6,844.2v7.1M257.2,851.3h7.1M260.7,847.8v7.1M257.3,856.2h7.1M260.9,852.7v7.1M257.5,861.6h7.1M261,858v7.1M257.6,865h7.1M261.2,861.4v7.1M257.8,870.1h7.1M261.3,866.5v7.1M258,873.5h7.1M261.5,869.9v7.1M258.1,876.8h7.1M261.7,873.3v7.1M258.3,880.2h7.1M261.8,876.6v7.1M258.4,882.8h7.1M262,879.3v7.1M258.6,884.3h7.1M262.1,880.7v7.1M258.7,886.7h7.1M262.3,883.1v7.1M258.9,889.8h7.1M262.4,886.3v7.1M259,889.3h7.1M262.6,885.8v7.1M259.2,891.1h7.1M262.7,887.5v7.1M259.3,893.1h7.1M262.9,889.6v7.1M259.5,893.1h7.1M263,889.6v7.1M259.6,893.4h7.1M263.2,889.8v7.1M259.8,893.6h7.1M263.3,890v7.1M259.9,895.3h7.1M263.5,891.7v7.1M260.1,896h7.1M263.6,892.4v7.1M260.3,896.5h7.1M263.8,892.9v7.1M260.4,895.8h7.1M264,892.3v7.1M260.6,896.7h7.1M264.1,893.1v7.1M260.7,895.4h7.1M264.3,891.9v7.1M260.9,896.4h7.1M264.4,892.8v7.1M261,895.9h7.1M264.6,892.4v7.1M261.2,896.6h7.1M264.7,893v7.1M261.3,897.1h7.1M264.9,893.5v7.1M261.5,897.4h7.1M265,893.8v7.1M261.6,896h7.1M265.2,892.5v7.1M261.8,897.6h7.1M265.3,894.1v7.1M261.9,896.5h7.1M265.5,892.9v7.1M262.1,896.2h7.1M265.6,892.6v7.1M262.8,896.9h7.1M266.3,893.4v7.1M263.5,896.2h7.1M267,892.6v7.1M264.2,897.3h7.1M267.7,893.7v7.1M264.9,897.6h7.1M268.4,894v7.1M265.6,897.3h7.1M269.1,893.7v7.1M266.3,897.7h7.1M269.8,894.2v7.1M267,897.1h7.1M270.5,893.5v7.1M267.7,896.8h7.1M271.2,893.3v7.1M267.9,895.7h7.1M271.4,892.1v7.1M268,896.4h7.1M271.6,892.9v7.1M268.2,895.5h7.1M271.7,891.9v7.1M268.3,895.3h7.1M271.9,891.8v7.1M268.5,895.1h7.1M272,891.5v7.1M268.6,894.6h7.1M272.2,891.1v7.1M268.8,892.7h7.1M272.3,889.1v7.1M268.9,891.9h7.1M272.5,888.4v7.1M269.1,891.8h7.1M272.7,888.3v7.1M269.3,891.3h7.1M272.8,887.8v7.1M269.4,890.1h7.1M273,886.6v7.1M269.6,889.3h7.1M273.1,885.7v7.1M269.7,888.4h7.1M273.3,884.8v7.1M269.9,886.6h7.1M273.4,883.1v7.1M270,885.2h7.1M273.6,881.6v7.1M270.2,883.5h7.1M273.8,880v7.1M270.4,882.8h7.1M273.9,879.2v7.1M270.5,882.5h7.1M274.1,879v7.1M270.7,882.7h7.1M274.2,879.2v7.1M270.8,882.7h7.1M274.4,879.1v7.1M271,882.7h7.1M274.5,879.2v7.1M271.1,883h7.1M274.7,879.5v7.1M271.3,884.1h7.1M274.8,880.6v7.1M271.5,884.6h7.1M275,881v7.1M271.6,885.5h7.1M275.2,881.9v7.1M271.8,886.4h7.1M275.3,882.8v7.1M271.9,886.8h7.1M275.5,883.2v7.1M272.1,887.5h7.1M275.6,883.9v7.1M272.2,889.5h7.1M275.8,885.9v7.1M272.4,890.4h7.1M275.9,886.9v7.1M272.6,890.9h7.1M276.1,887.4v7.1M272.7,891.7h7.1M276.3,888.1v7.1M272.9,893.9h7.1M276.4,890.4v7.1M273,893h7.1M276.6,889.4v7.1M273.2,894h7.1M276.7,890.5v7.1M273.3,895h7.1M276.9,891.4v7.1M273.5,894.5h7.1M277.1,891v7.1M273.7,895.8h7.1M277.2,892.3v7.1M273.8,897.3h7.1M277.4,893.7v7.1M274,897.1h7.1M277.5,893.5v7.1M274.1,897.1h7.1M277.7,893.6v7.1M274.3,897.3h7.1M277.8,893.8v7.1M274.5,897.2h7.1M278,893.6v7.1M274.6,897.9h7.1M278.2,894.4v7.1M274.8,897.3h7.1M278.3,893.7v7.1M275.5,897.4h7.1M279,893.9v7.1M276.2,897.9h7.1M279.7,894.4v7.1M276.9,898.6h7.1M280.4,895v7.1M277.6,898.2h7.1M281.1,894.7v7.1M278.3,898.5h7.1M281.8,895v7.1M279,897h7.1M282.5,893.4v7.1M279.7,899h7.1M283.2,895.4v7.1M280.4,899.3h7.1M283.9,895.8v7.1M281.1,899.1h7.1M284.6,895.6v7.1M281.8,898h7.1M285.3,894.5v7.1M282.5,897.7h7.1M286,894.1v7.1M283.2,898.5h7.1M286.7,894.9v7.1M283.9,897.6h7.1M287.4,894.1v7.1M284.6,898.8h7.1M288.1,895.3v7.1M285.3,898h7.1M288.8,894.4v7.1M286,899h7.1M289.5,895.5v7.1M286.7,899.3h7.1M290.2,895.7v7.1M287.4,897.2h7.1M290.9,893.7v7.1M288.1,898.6h7.1M291.6,895v7.1M288.8,897.9h7.1M292.3,894.4v7.1M289.5,897.5h7.1M293,893.9v7.1M290.2,898h7.1M293.7,894.5v7.1M290.9,898.3h7.1M294.4,894.7v7.1M291.6,899.2h7.1M295.1,895.6v7.1M292.3,897.4h7.1M295.8,893.9v7.1M293,899.2h7.1M296.5,895.6v7.1M293.7,899.6h7.1M297.2,896.1v7.1M294.4,898.9h7.1M297.9,895.3v7.1M295.1,898.8h7.1M298.6,895.3v7.1M295.8,898.5h7.1M299.3,894.9v7.1M296.5,897.7h7.1M300,894.1v7.1M297.2,898.8h7.1M300.7,895.2v7.1M297.9,898.7h7.1M301.4,895.1v7.1M298.6,898.9h7.1M302.1,895.3v7.1M299.3,899.5h7.1M302.8,895.9v7.1M300,898.7h7.1M303.5,895.1v7.1M300.7,898.3h7.1M304.2,894.8v7.1M301.4,898.7h7.1M304.9,895.2v7.1M301.5,896.6h7.1M305.1,893v7.1M301.7,896.5h7.1M305.3,892.9v7.1M301.9,896.7h7.1M305.4,893.2v7.1M302,896.2h7.1M305.6,892.6v7.1M302.2,896.6h7.1M305.8,893.1v7.1M302.4,895.4h7.1M305.9,891.8v7.1M302.5,896h7.1M306.1,892.5v7.1M302.7,895h7.1M306.3,891.4v7.1M302.9,893.4h7.1M306.4,889.8v7.1M303,891.2h7.1M306.6,887.7v7.1M303.2,890.4h7.1M306.8,886.8v7.1M303.4,888.7h7.1M306.9,885.1v7.1M303.5,885.4h7.1M307.1,881.8v7.1M303.7,884.1h7.1M307.3,880.5v7.1M303.9,881.8h7.1M307.4,878.3v7.1M304,878.9h7.1M307.6,875.4v7.1M304.2,877.2h7.1M307.8,873.6v7.1M304.4,874.3h7.1M307.9,870.8v7.1M304.5,870.4h7.1M308.1,866.9v7.1M304.7,868.8h7.1M308.3,865.3v7.1M304.9,866.3h7.1M308.4,862.7v7.1M305,865.8h7.1M308.6,862.2v7.1M305.2,863.9h7.1M308.8,860.4v7.1M305.4,864.9h7.1M308.9,861.4v7.1M305.5,864.9h7.1M309.1,861.3v7.1M305.7,866h7.1M309.3,862.5v7.1M305.9,866.4h7.1M309.4,862.8v7.1M306,867h7.1M309.6,863.4v7.1M306.2,870.9h7.1M309.8,867.3v7.1M306.4,871.6h7.1M309.9,868v7.1M306.6,874.7h7.1M310.1,871.2v7.1M306.7,876.3h7.1M310.3,872.7v7.1M306.9,878.7h7.1M310.4,875.1v7.1M307.1,881.5h7.1M310.6,878v7.1M307.2,882.7h7.1M310.8,879.1v7.1M307.4,885.4h7.1M310.9,881.8v7.1M307.6,885.3h7.1M311.1,881.7v7.1M307.7,888.6h7.1M311.3,885v7.1M307.9,889.3h7.1M311.4,885.8v7.1M308.1,890.8h7.1M311.6,887.2v7.1M308.2,892.1h7.1M311.8,888.5v7.1M308.4,893.4h7.1M312,889.8v7.1M308.6,895.2h7.1M312.1,891.6v7.1M308.7,893.6h7.1M312.3,890.1v7.1M308.9,895.5h7.1M312.5,891.9v7.1M309.1,895.5h7.1M312.6,891.9v7.1M309.2,897.2h7.1M312.8,893.7v7.1M309.4,896.5h7.1M313,893v7.1M309.6,897.4h7.1M313.1,893.9v7.1M309.8,897.1h7.1M313.3,893.5v7.1M309.9,898h7.1M313.5,894.5v7.1M310.1,898.4h7.1M313.6,894.9v7.1M310.3,897.6h7.1M313.8,894v7.1M310.4,898h7.1M314,894.4v7.1M311.1,897.3h7.1M314.7,893.7v7.1M311.8,898.6h7.1M315.4,895.1v7.1M312.5,899.1h7.1M316.1,895.5v7.1M313.2,898.2h7.1M316.8,894.7v7.1M313.9,899.4h7.1M317.5,895.9v7.1M314.6,897.5h7.1M318.2,894v7.1M315.3,897.6h7.1M318.9,894v7.1M316,897.8h7.1M319.6,894.3v7.1M316.7,898.5h7.1M320.3,894.9v7.1M317.4,898.8h7.1M321,895.3v7.1M318.1,898.8h7.1M321.7,895.2v7.1M318.8,898.8h7.1M322.4,895.3v7.1M319.5,899.4h7.1M323.1,895.8v7.1M320.2,898.5h7.1M323.8,895v7.1M320.9,898h7.1M324.5,894.4v7.1M321.6,898h7.1M325.2,894.5v7.1M322.3,900h7.1M325.9,896.4v7.1M323,897.6h7.1M326.6,894.1v7.1M323.7,898.6h7.1M327.3,895.1v7.1M324.4,899.7h7.1M328,896.1v7.1M325.1,898.8h7.1M328.7,895.2v7.1M325.8,897.3h7.1M329.4,893.8v7.1M326,897.7h7.1M329.6,894.1v7.1M326.2,898h7.1M329.7,894.4v7.1M326.4,897.9h7.1M329.9,894.3v7.1M326.5,896h7.1M330.1,892.5v7.1M326.7,896.7h7.1M330.3,893.2v7.1M326.9,895.9h7.1M330.4,892.3v7.1M327.1,895.9h7.1M330.6,892.3v7.1M327.2,895.5h7.1M330.8,891.9v7.1M327.4,893.7h7.1M331,890.1v7.1M327.6,892.2h7.1M331.1,888.7v7.1M327.8,892.8h7.1M331.3,889.3v7.1M327.9,893.1h7.1M331.5,889.5v7.1M328.1,891.8h7.1M331.6,888.2v7.1M328.3,890.9h7.1M331.8,887.4v7.1M328.4,891.5h7.1M332,888v7.1M328.6,889.4h7.1M332.2,885.8v7.1M328.8,890.5h7.1M332.3,887v7.1M329,889.5h7.1M332.5,886v7.1M329.1,890h7.1M332.7,886.5v7.1M329.3,890.3h7.1M332.9,886.7v7.1M329.5,891.5h7.1M333,888v7.1M329.7,890.2h7.1M333.2,886.7v7.1M329.9,890.9h7.1M333.4,887.4v7.1M330,890.6h7.1M333.6,887.1v7.1M330.2,892.5h7.1M333.8,889v7.1M330.4,892.4h7.1M333.9,888.8v7.1M330.6,893.5h7.1M334.1,889.9v7.1M330.7,892.9h7.1M334.3,889.4v7.1M330.9,893.9h7.1M334.5,890.3v7.1M331.1,895.2h7.1M334.6,891.7v7.1M331.3,894.8h7.1M334.8,891.3v7.1M331.4,895.7h7.1M335,892.1v7.1M331.6,895.9h7.1M335.2,892.4v7.1M331.8,895.6h7.1M335.3,892v7.1M332,895h7.1M335.5,891.4v7.1M332.1,896.9h7.1M335.7,893.3v7.1M332.3,896.4h7.1M335.9,892.9v7.1M332.5,897h7.1M336,893.5v7.1M332.7,895.2h7.1M336.2,891.7v7.1M332.8,895.2h7.1M336.4,891.7v7.1M333,895.1h7.1M336.6,891.5v7.1M333.2,895.5h7.1M336.7,892v7.1M333.4,896.6h7.1M336.9,893v7.1M333.5,895.9h7.1M337.1,892.4v7.1M333.7,895.1h7.1M337.3,891.5v7.1M333.9,894.6h7.1M337.4,891.1v7.1M334.1,894.3h7.1M337.6,890.7v7.1M334.3,892.5h7.1M337.8,889v7.1M334.4,891.7h7.1M338,888.2v7.1M334.6,889.9h7.1M338.2,886.3v7.1M334.8,886.5h7.1M338.3,883v7.1M335,884.9h7.1M338.5,881.3v7.1M335.1,882.9h7.1M338.7,879.3v7.1M335.3,877.8h7.1M338.9,874.3v7.1M335.5,873.5h7.1M339,869.9v7.1M335.7,867.8h7.1M339.2,864.3v7.1M335.8,861.8h7.1M339.4,858.2v7.1M336,855.9h7.1M339.6,852.3v7.1M336.2,847.1h7.1M339.7,843.6v7.1M336.4,838.1h7.1M339.9,834.5v7.1M336.6,828.4h7.1M340.1,824.9v7.1M336.7,819.5h7.1M340.3,815.9v7.1M336.9,808.9h7.1M340.5,805.3v7.1M337.1,799.2h7.1M340.6,795.7v7.1M337.3,792h7.1M340.8,788.4v7.1M337.4,784.3h7.1M341,780.8v7.1M337.6,777h7.1M341.2,773.4v7.1M337.8,775.4h7.1M341.3,771.9v7.1M338,774.5h7.1M341.5,771v7.1M338.2,775.4h7.1M341.7,771.9v7.1M338.3,780.1h7.1M341.9,776.5v7.1M338.5,783.7h7.1M342.1,780.1v7.1M338.7,790.3h7.1M342.2,786.8v7.1M338.9,797.3h7.1M342.4,793.8v7.1M339,805.1h7.1M342.6,801.6v7.1M339.2,814.3h7.1M342.8,810.8v7.1M339.4,820.6h7.1M342.9,817.1v7.1M339.6,828.5h7.1M343.1,824.9v7.1M339.8,836.1h7.1M343.3,832.6v7.1M339.9,844.1h7.1M343.5,840.5v7.1M340.1,850.6h7.1M343.7,847v7.1M340.3,857.8h7.1M343.8,854.2v7.1M340.5,862.6h7.1M344,859v7.1M340.6,867.5h7.1M344.2,864v7.1M340.8,872.8h7.1M344.4,869.3v7.1M341,877.4h7.1M344.6,873.9v7.1M341.2,880.4h7.1M344.7,876.8v7.1M341.4,884.3h7.1M344.9,880.7v7.1M341.5,887.8h7.1M345.1,884.3v7.1M341.7,888.4h7.1M345.3,884.8v7.1M341.9,890.5h7.1M345.4,887v7.1M342.1,892.8h7.1M345.6,889.2v7.1M342.3,892.5h7.1M345.8,889v7.1M342.4,893.3h7.1M346,889.7v7.1M342.6,893.8h7.1M346.2,890.3v7.1M342.8,895.4h7.1M346.3,891.9v7.1M343,896h7.1M346.5,892.4v7.1M343.2,895.9h7.1M346.7,892.3v7.1M343.3,896.3h7.1M346.9,892.8v7.1M343.5,897.5h7.1M347.1,893.9v7.1M343.7,897.4h7.1M347.2,893.9v7.1M343.9,896.1h7.1M347.4,892.5v7.1M344.1,897.2h7.1M347.6,893.6v7.1M344.2,897.4h7.1M347.8,893.9v7.1M344.4,898h7.1M348,894.4v7.1M344.6,897.5h7.1M348.1,893.9v7.1M344.8,897.3h7.1M348.3,893.7v7.1M345,897.5h7.1M348.5,894v7.1M345.1,896.8h7.1M348.7,893.2v7.1M345.3,898h7.1M348.9,894.4v7.1M345.5,897.7h7.1M349,894.1v7.1M345.7,898.5h7.1M349.2,894.9v7.1M345.9,897.5h7.1M349.4,894v7.1M346,898h7.1M349.6,894.5v7.1M346.2,897.7h7.1M349.8,894.1v7.1M346.4,897.7h7.1M349.9,894.1v7.1M346.6,899h7.1M350.1,895.4v7.1M346.8,898.2h7.1M350.3,894.7v7.1M347.5,899h7.1M351,895.5v7.1M348.2,898.1h7.1M351.7,894.5v7.1M348.9,899.1h7.1M352.4,895.5v7.1M349.6,898h7.1M353.1,894.4v7.1M350.3,898.9h7.1M353.8,895.3v7.1M351,898.9h7.1M354.5,895.4v7.1M351.7,899.7h7.1M355.2,896.2v7.1M352.4,899.5h7.1M355.9,896v7.1M353.1,899.3h7.1M356.6,895.8v7.1M353.8,900.1h7.1M357.3,896.5v7.1M354.5,899.7h7.1M358,896.1v7.1M355.2,900h7.1M358.7,896.4v7.1M355.9,900.1h7.1M359.4,896.6v7.1M356.6,899.6h7.1M360.1,896.1v7.1M357.3,899.5h7.1M360.8,895.9v7.1M358,899.9h7.1M361.5,896.4v7.1M358.7,899.5h7.1M362.2,895.9v7.1M359.4,900h7.1M362.9,896.5v7.1M360.1,900.6h7.1M363.6,897v7.1M360.8,900.4h7.1M364.3,896.9v7.1M361.5,899.6h7.1M365,896v7.1M362.2,899h7.1M365.7,895.4v7.1M362.9,899.8h7.1M366.4,896.3v7.1M363.6,899.8h7.1M367.1,896.3v7.1M364.3,900.7h7.1M367.8,897.1v7.1M365,899.7h7.1M368.5,896.1v7.1M365.7,899.8h7.1M369.2,896.3v7.1M366.4,900.5h7.1M369.9,896.9v7.1M367.1,899.7h7.1M370.6,896.1v7.1M367.8,899.9h7.1M371.3,896.3v7.1M368.5,901.2h7.1M372,897.6v7.1M369.2,901h7.1M372.7,897.5v7.1M369.9,900.4h7.1M373.4,896.9v7.1M370.6,900.2h7.1M374.1,896.7v7.1M371.3,899.4h7.1M374.8,895.8v7.1M372,900.4h7.1M375.5,896.9v7.1M372.7,900.1h7.1M376.2,896.5v7.1M373.4,900.2h7.1M376.9,896.6v7.1M374.1,899.7h7.1M377.6,896.1v7.1M374.8,900h7.1M378.3,896.5v7.1M375.5,899.9h7.1M379,896.3v7.1M376.2,900.2h7.1M379.7,896.7v7.1M376.9,900.9h7.1M380.4,897.4v7.1M377.6,900.2h7.1M381.1,896.6v7.1M378.3,898.8h7.1M381.8,895.2v7.1M379,899.2h7.1M382.5,895.7v7.1M379.7,898.7h7.1M383.2,895.2v7.1M380.4,899.2h7.1M383.9,895.7v7.1M381.1,900h7.1M384.6,896.5v7.1M381.8,899.8h7.1M385.3,896.3v7.1M382.5,899h7.1M386,895.5v7.1M383.2,899.4h7.1M386.7,895.9v7.1M383.3,898.7h7.1M386.9,895.1v7.1M383.5,898.1h7.1M387.1,894.6v7.1M383.7,898.1h7.1M387.3,894.5v7.1M383.9,898.4h7.1M387.5,894.8v7.1M384.1,899.8h7.1M387.7,896.3v7.1M384.3,897.9h7.1M387.9,894.3v7.1M384.5,899.5h7.1M388.1,896v7.1M384.7,899.5h7.1M388.2,895.9v7.1M384.9,898.3h7.1M388.4,894.8v7.1M385.1,898.3h7.1M388.6,894.7v7.1M385.3,897.7h7.1M388.8,894.2v7.1M385.5,897.9h7.1M389,894.4v7.1M385.7,898.2h7.1M389.2,894.6v7.1M385.8,897.5h7.1M389.4,893.9v7.1M386,897.8h7.1M389.6,894.3v7.1M386.2,897.5h7.1M389.8,894v7.1M386.4,896.4h7.1M390,892.8v7.1M386.6,895.7h7.1M390.2,892.1v7.1M386.8,894.4h7.1M390.4,890.9v7.1M387,893.4h7.1M390.6,889.9v7.1M387.2,890.7h7.1M390.7,887.2v7.1M387.4,889.6h7.1M390.9,886v7.1M387.6,886.7h7.1M391.1,883.2v7.1M387.8,882.6h7.1M391.3,879.1v7.1M388,880.3h7.1M391.5,876.7v7.1M388.2,873.6h7.1M391.7,870v7.1M388.4,868h7.1M391.9,864.5v7.1M388.6,862.4h7.1M392.1,858.9v7.1M388.7,854h7.1M392.3,850.5v7.1M388.9,846.8h7.1M392.5,843.3v7.1M389.1,838h7.1M392.7,834.5v7.1M389.3,829.7h7.1M392.9,826.2v7.1M389.5,821.4h7.1M393.1,817.8v7.1M389.7,812.8h7.1M393.3,809.3v7.1M389.9,805h7.1M393.5,801.4v7.1M390.1,797.2h7.1M393.7,793.7v7.1M390.3,791.3h7.1M393.8,787.8v7.1M390.5,786.6h7.1M394,783.1v7.1M390.7,783.9h7.1M394.2,780.3v7.1M390.9,785.2h7.1M394.4,781.6v7.1M391.1,786.2h7.1M394.6,782.7v7.1M391.3,789.8h7.1M394.8,786.3v7.1M391.5,796.3h7.1M395,792.7v7.1M391.7,801.7h7.1M395.2,798.2v7.1M391.9,807.9h7.1M395.4,804.4v7.1M392,815.1h7.1M395.6,811.6v7.1M392.2,822.2h7.1M395.8,818.7v7.1M392.4,827.6h7.1M396,824.1v7.1M392.6,835.3h7.1M396.2,831.7v7.1M392.8,841.1h7.1M396.4,837.5v7.1M393,848.2h7.1M396.6,844.7v7.1M393.2,853.7h7.1M396.8,850.1v7.1M393.4,860.6h7.1M397,857.1v7.1M393.6,865.2h7.1M397.2,861.6v7.1M393.8,869h7.1M397.4,865.4v7.1M394,873.8h7.1M397.5,870.2v7.1M394.2,876.8h7.1M397.7,873.2v7.1M394.4,881h7.1M397.9,877.4v7.1M394.6,884.2h7.1M398.1,880.7v7.1M394.8,886.6h7.1M398.3,883v7.1M395,887.4h7.1M398.5,883.9v7.1M395.2,890.1h7.1M398.7,886.6v7.1M395.4,892.3h7.1M398.9,888.7v7.1M395.6,893.4h7.1M399.1,889.8v7.1M395.8,895h7.1M399.3,891.5v7.1M396,894.2h7.1M399.5,890.7v7.1M396.2,896.2h7.1M399.7,892.6v7.1M396.3,896h7.1M399.9,892.4v7.1M396.5,897h7.1M400.1,893.5v7.1M396.7,897.5h7.1M400.3,894v7.1M396.9,898.1h7.1M400.5,894.5v7.1M397.1,897.5h7.1M400.7,893.9v7.1M397.3,898.2h7.1M400.9,894.7v7.1M397.5,897.5h7.1M401.1,893.9v7.1M397.7,897.5h7.1M401.3,893.9v7.1M397.9,898.9h7.1M401.5,895.4v7.1M398.1,898.7h7.1M401.7,895.1v7.1M398.3,897.7h7.1M401.9,894.1v7.1M398.5,898.3h7.1M402.1,894.8v7.1M398.7,899h7.1M402.3,895.4v7.1M398.9,900.1h7.1M402.4,896.6v7.1M399.1,899.8h7.1M402.6,896.3v7.1M399.3,899.7h7.1M402.8,896.2v7.1M399.5,898.1h7.1M403,894.6v7.1M399.7,899.3h7.1M403.2,895.7v7.1M399.9,899.7h7.1M403.4,896.1v7.1M400.1,899.7h7.1M403.6,896.1v7.1M400.3,899.7h7.1M403.8,896.2v7.1M400.5,899.3h7.1M404,895.8v7.1M400.7,900.7h7.1M404.2,897.2v7.1M400.9,900.6h7.1M404.4,897v7.1M401.1,899.5h7.1M404.6,896v7.1M401.8,899h7.1M405.3,895.5v7.1M402.5,901h7.1M406,897.4v7.1M403.2,899.4h7.1M406.7,895.9v7.1M403.9,900.6h7.1M407.4,897v7.1M404.6,900.8h7.1M408.1,897.3v7.1M404.8,898.9h7.1M408.3,895.4v7.1M405,899.7h7.1M408.5,896.1v7.1M405.2,899.1h7.1M408.7,895.6v7.1M405.4,899.6h7.1M408.9,896v7.1M405.6,899.2h7.1M409.1,895.7v7.1M405.8,900h7.1M409.3,896.4v7.1M406,898.8h7.1M409.5,895.3v7.1M406.2,898h7.1M409.7,894.4v7.1M406.4,898.2h7.1M409.9,894.7v7.1M406.6,896.6h7.1M410.1,893.1v7.1M406.8,895.7h7.1M410.3,892.2v7.1M407,896.2h7.1M410.5,892.6v7.1M407.2,893.3h7.1M410.7,889.7v7.1M407.4,892.1h7.1M410.9,888.6v7.1M407.6,890.9h7.1M411.1,887.4v7.1M407.8,888.4h7.1M411.3,884.9v7.1M408,886.1h7.1M411.5,882.5v7.1M408.2,885.8h7.1M411.7,882.3v7.1M408.4,882.3h7.1M411.9,878.8v7.1M408.6,880.2h7.1M412.1,876.7v7.1M408.8,878h7.1M412.3,874.5v7.1M409,875.4h7.1M412.5,871.9v7.1M409.2,873.3h7.1M412.7,869.7v7.1M409.4,872.3h7.1M412.9,868.8v7.1M409.6,872h7.1M413.1,868.4v7.1M409.8,870.2h7.1M413.3,866.7v7.1M410,869.7h7.1M413.5,866.2v7.1M410.2,868.2h7.1M413.7,864.6v7.1M410.4,869.6h7.1M413.9,866v7.1M410.6,869.6h7.1M414.1,866v7.1M410.8,872h7.1M414.3,868.4v7.1M411,872.6h7.1M414.5,869.1v7.1M411.2,874.4h7.1M414.7,870.8v7.1M411.4,876h7.1M414.9,872.5v7.1M411.6,877.5h7.1M415.1,874v7.1M411.8,878.8h7.1M415.3,875.2v7.1M412,882.1h7.1M415.5,878.6v7.1M412.2,882.7h7.1M415.7,879.1v7.1M412.4,884.7h7.1M415.9,881.1v7.1M412.6,887h7.1M416.1,883.5v7.1M412.8,888.4h7.1M416.3,884.8v7.1M413,890.6h7.1M416.5,887v7.1M413.2,892.5h7.1M416.7,888.9v7.1M413.4,893.2h7.1M416.9,889.6v7.1M413.6,894.3h7.1M417.1,890.7v7.1M413.8,895.2h7.1M417.3,891.6v7.1M414,896.6h7.1M417.5,893v7.1M414.2,895.6h7.1M417.7,892.1v7.1M414.4,897.7h7.1M417.9,894.1v7.1M414.6,897.3h7.1M418.1,893.8v7.1M414.8,897.6h7.1M418.3,894v7.1M415,898.8h7.1M418.5,895.3v7.1M415.2,898.9h7.1M418.7,895.3v7.1M415.4,899.8h7.1M418.9,896.2v7.1M415.6,900.4h7.1M419.1,896.8v7.1M415.8,898.7h7.1M419.3,895.1v7.1M416,899.9h7.1M419.5,896.4v7.1M416.2,901.3h7.1M419.7,897.7v7.1M416.4,900.8h7.1M419.9,897.2v7.1M417.1,901.4h7.1M420.6,897.9v7.1M417.8,900.7h7.1M421.3,897.1v7.1M418.5,899.7h7.1M422,896.2v7.1M419.2,900h7.1M422.7,896.5v7.1M419.9,901.4h7.1M423.4,897.8v7.1M420.6,901.6h7.1M424.1,898v7.1M421.3,900.5h7.1M424.8,896.9v7.1M422,900.9h7.1M425.5,897.3v7.1M422.7,901.3h7.1M426.2,897.7v7.1M423.4,900h7.1M426.9,896.5v7.1M424.1,900.9h7.1M427.6,897.4v7.1M424.8,902.3h7.1M428.3,898.8v7.1M425.5,902.4h7.1M429,898.9v7.1M426.2,901.2h7.1M429.7,897.6v7.1M426.9,902.5h7.1M430.4,898.9v7.1M427.6,901h7.1M431.1,897.4v7.1M428.3,900.8h7.1M431.8,897.2v7.1M429,900.2h7.1M432.5,896.7v7.1M429.7,902h7.1M433.2,898.5v7.1M430.4,901.1h7.1M433.9,897.6v7.1M431.1,902.6h7.1M434.6,899.1v7.1M431.8,901.7h7.1M435.3,898.1v7.1M432.5,901.6h7.1M436,898v7.1M433.2,900.4h7.1M436.7,896.8v7.1M433.9,902.5h7.1M437.4,899v7.1M434.6,901.3h7.1M438.1,897.7v7.1M435.3,901.4h7.1M438.8,897.9v7.1M436,900.4h7.1M439.5,896.9v7.1M436.7,902.2h7.1M440.2,898.6v7.1M437.4,902.2h7.1M440.9,898.7v7.1M438.1,901.2h7.1M441.6,897.6v7.1M438.8,901.7h7.1M442.3,898.1v7.1M439.5,901.9h7.1M443,898.3v7.1M440.2,902.3h7.1M443.7,898.7v7.1M440.9,901.7h7.1M444.4,898.2v7.1M441.6,902.8h7.1M445.1,899.3v7.1M442.3,901.5h7.1M445.8,898v7.1M443,901.3h7.1M446.5,897.7v7.1M443.7,901.4h7.1M447.2,897.8v7.1M444.4,900.6h7.1M447.9,897v7.1M445.1,901.2h7.1M448.6,897.6v7.1M445.8,902.4h7.1M449.3,898.9v7.1M446.5,901.9h7.1M450,898.4v7.1M447.2,901.2h7.1M450.7,897.7v7.1M447.9,902h7.1M451.4,898.5v7.1M448.6,900.7h7.1M452.1,897.1v7.1M449.3,901.6h7.1M452.8,898v7.1M450,902.2h7.1M453.5,898.6v7.1M450.7,902.3h7.1M454.2,898.7v7.1M451.4,901.3h7.1M454.9,897.8v7.1M452.1,902.5h7.1M455.6,898.9v7.1M452.8,903h7.1M456.3,899.5v7.1M453.5,901.6h7.1M457,898v7.1M454.2,902.4h7.1M457.7,898.8v7.1M454.9,900.8h7.1M458.4,897.3v7.1M455.6,900.8h7.1M459.1,897.2v7.1M456.3,902.3h7.1M459.8,898.8v7.1M457,901.9h7.1M460.5,898.4v7.1M457.7,902.1h7.1M461.2,898.5v7.1M458.4,901.5h7.1M461.9,898v7.1M459.1,901.7h7.1M462.6,898.2v7.1M459.8,902.5h7.1M463.3,898.9v7.1M460.5,903.1h7.1M464,899.6v7.1M461.2,901.8h7.1M464.7,898.3v7.1M461.9,900.8h7.1M465.4,897.3v7.1M462.6,902.8h7.1M466.1,899.3v7.1M463.3,902.4h7.1M466.8,898.8v7.1M464,902.4h7.1M467.5,898.9v7.1M464.7,902.1h7.1M468.2,898.6v7.1M465.4,903.2h7.1M468.9,899.6v7.1M466.1,902h7.1M469.6,898.5v7.1M466.8,902.3h7.1M470.3,898.8v7.1M467.5,900.9h7.1M471,897.3v7.1M468.2,901.6h7.1M471.7,898.1v7.1M468.9,901.5h7.1M472.4,898v7.1M469.6,902h7.1M473.1,898.4v7.1M470.3,902.2h7.1M473.8,898.7v7.1M471,901.5h7.1M474.5,897.9v7.1M471.7,903.2h7.1M475.2,899.6v7.1M472.4,901.3h7.1M475.9,897.7v7.1M473.1,901.7h7.1M476.6,898.1v7.1M473.8,902.1h7.1M477.3,898.6v7.1M474.5,901.1h7.1M478,897.5v7.1M475.2,902.3h7.1M478.7,898.8v7.1M475.9,902.3h7.1M479.4,898.8v7.1M476.6,901.7h7.1M480.1,898.1v7.1M477.3,903.1h7.1M480.8,899.5v7.1M478,901.9h7.1M481.5,898.3v7.1M478.7,902h7.1M482.2,898.4v7.1M479.4,901.1h7.1M482.9,897.5v7.1M480.1,900.6h7.1M483.6,897v7.1M480.8,901.2h7.1M484.3,897.6v7.1M481.5,901.3h7.1M485,897.8v7.1M482.2,901.1h7.1M485.7,897.6v7.1M482.9,901.9h7.1M486.4,898.3v7.1M483.6,900.1h7.1M487.1,896.5v7.1M484.3,900.2h7.1M487.8,896.7v7.1M484.5,899.8h7.1M488.1,896.3v7.1M484.7,901.8h7.1M488.3,898.3v7.1M485,900.4h7.1M488.5,896.9v7.1M485.2,900.4h7.1M488.7,896.8v7.1M485.4,899.9h7.1M489,896.4v7.1M485.6,901.2h7.1M489.2,897.6v7.1M485.9,900.2h7.1M489.4,896.7v7.1M486.1,900.5h7.1M489.6,897v7.1M486.3,899.2h7.1M489.9,895.6v7.1M486.5,901h7.1M490.1,897.4v7.1M486.8,900.3h7.1M490.3,896.8v7.1M487,900.3h7.1M490.5,896.8v7.1M487.2,900.6h7.1M490.8,897.1v7.1M487.4,899.5h7.1M491,896v7.1M487.7,899.3h7.1M491.2,895.8v7.1M487.9,899.7h7.1M491.4,896.1v7.1M488.1,899.2h7.1M491.7,895.6v7.1M488.3,898.3h7.1M491.9,894.7v7.1M488.6,897.9h7.1M492.1,894.4v7.1M488.8,896.8h7.1M492.3,893.2v7.1M489,896.6h7.1M492.6,893.1v7.1M489.2,895.5h7.1M492.8,891.9v7.1M489.5,893.1h7.1M493,889.6v7.1M489.7,892.2h7.1M493.2,888.6v7.1M489.9,887.2h7.1M493.5,883.7v7.1M490.1,884.7h7.1M493.7,881.2v7.1M490.4,882h7.1M493.9,878.4v7.1M490.6,875.7h7.1M494.1,872.1v7.1M490.8,869.2h7.1M494.4,865.7v7.1M491,864.8h7.1M494.6,861.2v7.1M491.3,856.9h7.1M494.8,853.3v7.1M491.5,847.6h7.1M495,844v7.1M491.7,840.2h7.1M495.3,836.6v7.1M491.9,829.7h7.1M495.5,826.1v7.1M492.2,819.9h7.1M495.7,816.3v7.1M492.4,811h7.1M495.9,807.5v7.1M492.6,801.4h7.1M496.2,797.8v7.1M492.8,792.1h7.1M496.4,788.5v7.1M493.1,784.6h7.1M496.6,781v7.1M493.3,777.3h7.1M496.8,773.8v7.1M493.5,772.9h7.1M497.1,769.3v7.1M493.7,769.5h7.1M497.3,765.9v7.1M494,768.7h7.1M497.5,765.2v7.1M494.2,768.3h7.1M497.7,764.8v7.1M494.4,769.6h7.1M498,766v7.1M494.6,772.7h7.1M498.2,769.1v7.1M494.9,777.6h7.1M498.4,774.1v7.1M495.1,784.1h7.1M498.7,780.5v7.1M495.3,789.7h7.1M498.9,786.1v7.1M495.6,795.4h7.1M499.1,791.8v7.1M495.8,803.6h7.1M499.3,800v7.1M496,809.6h7.1M499.6,806.1v7.1M496.2,818.7h7.1M499.8,815.1v7.1M496.5,825.3h7.1M500,821.8v7.1M496.7,833.6h7.1M500.2,830v7.1M496.9,840.7h7.1M500.5,837.2v7.1M497.1,847h7.1M500.7,843.5v7.1M497.4,854h7.1M500.9,850.4v7.1M497.6,859.1h7.1M501.1,855.5v7.1M497.8,865.3h7.1M501.4,861.8v7.1M498.1,871.2h7.1M501.6,867.6v7.1M498.3,876.1h7.1M501.8,872.6v7.1M498.5,879.4h7.1M502.1,875.9v7.1M498.7,882.5h7.1M502.3,879v7.1M499,884.8h7.1M502.5,881.2v7.1M499.2,888.8h7.1M502.7,885.2v7.1M499.4,889.1h7.1M503,885.6v7.1M499.7,891.5h7.1M503.2,888v7.1M499.9,893.9h7.1M503.4,890.3v7.1M500.1,894.1h7.1M503.7,890.5v7.1M500.3,897h7.1M503.9,893.4v7.1M500.6,897.5h7.1M504.1,894v7.1M500.8,897.1h7.1M504.3,893.5v7.1M501,897.7h7.1M504.6,894.1v7.1M501.2,897.6h7.1M504.8,894.1v7.1M501.5,897.9h7.1M505,894.4v7.1M501.7,899.5h7.1M505.3,896v7.1M501.9,899.9h7.1M505.5,896.4v7.1M502.2,900h7.1M505.7,896.4v7.1M502.4,900.1h7.1M505.9,896.6v7.1M502.6,899.7h7.1M506.2,896.2v7.1M502.9,900.5h7.1M506.4,897v7.1M503.1,899.4h7.1M506.6,895.8v7.1M503.3,900.5h7.1M506.9,897v7.1M503.5,901.6h7.1M507.1,898.1v7.1M503.8,901.6h7.1M507.3,898.1v7.1M504,900.5h7.1M507.5,897v7.1M504.2,900.7h7.1M507.8,897.1v7.1M504.5,901.9h7.1M508,898.4v7.1M504.7,902.3h7.1M508.2,898.7v7.1M504.9,900.1h7.1M508.5,896.6v7.1M505.1,900.9h7.1M508.7,897.4v7.1M505.4,901.5h7.1M508.9,897.9v7.1M505.6,902.2h7.1M509.2,898.6v7.1M505.8,900.8h7.1M509.4,897.3v7.1M506.1,901.9h7.1M509.6,898.4v7.1M506.3,901.3h7.1M509.8,897.8v7.1M507,902.9h7.1M510.5,899.3v7.1M507.7,902.1h7.1M511.2,898.5v7.1M508.4,901.8h7.1M511.9,898.3v7.1M509.1,901.8h7.1M512.6,898.2v7.1M509.8,902.8h7.1M513.3,899.3v7.1M510.5,902.6h7.1M514,899.1v7.1M511.2,901.5h7.1M514.7,898v7.1M511.9,902.5h7.1M515.4,898.9v7.1M512.6,901.5h7.1M516.1,897.9v7.1M513.3,901.9h7.1M516.8,898.4v7.1M514,901.6h7.1M517.5,898v7.1M514.7,901.6h7.1M518.2,898.1v7.1M515.4,902.1h7.1M518.9,898.6v7.1M516.1,901.9h7.1M519.6,898.4v7.1M516.8,903h7.1M520.3,899.5v7.1M517.5,903.2h7.1M521,899.7v7.1M518.2,902.6h7.1M521.7,899v7.1M518.9,902h7.1M522.4,898.4v7.1M519.6,903.3h7.1M523.1,899.8v7.1M520.3,901.7h7.1M523.8,898.1v7.1M521,901.7h7.1M524.5,898.2v7.1M521.7,903.4h7.1M525.2,899.8v7.1M522.4,903.3h7.1M525.9,899.8v7.1M523.1,903.6h7.1M526.6,900v7.1M523.8,902.8h7.1M527.3,899.2v7.1M524.5,902.1h7.1M528,898.5v7.1M525.2,902.6h7.1M528.7,899.1v7.1M525.9,903.4h7.1M529.4,899.8v7.1M526.6,902.5h7.1M530.1,898.9v7.1M527.3,902.6h7.1M530.8,899v7.1M528,902.1h7.1M531.5,898.6v7.1M528.7,902.3h7.1M532.2,898.7v7.1M529.4,903.7h7.1M532.9,900.1v7.1M530.1,903.4h7.1M533.6,899.9v7.1M530.8,902.3h7.1M534.3,898.8v7.1M531.5,902.4h7.1M535,898.9v7.1M532.2,902.8h7.1M535.7,899.2v7.1M532.9,903.6h7.1M536.4,900v7.1M533.6,902.4h7.1M537.1,898.8v7.1M534.3,903.1h7.1M537.8,899.5v7.1M535,902.1h7.1M538.5,898.6v7.1M535.7,902.4h7.1M539.2,898.8v7.1M536.4,903.5h7.1M539.9,900v7.1M537.1,903.9h7.1M540.6,900.3v7.1M537.8,902.5h7.1M541.3,898.9v7.1M538.5,902.8h7.1M542,899.2v7.1M539.2,903.9h7.1M542.7,900.3v7.1M539.9,903.1h7.1M543.4,899.5v7.1M540.6,903h7.1M544.1,899.4v7.1M541.3,903.7h7.1M544.8,900.2v7.1M542,903.5h7.1M545.5,900v7.1M542.7,904.1h7.1M546.2,900.6v7.1M543.4,903.9h7.1M546.9,900.4v7.1M544.1,903h7.1M547.6,899.5v7.1M544.8,903.3h7.1M548.3,899.8v7.1M545.5,903.4h7.1M549,899.8v7.1M546.2,902.5h7.1M549.7,899v7.1M546.9,902.8h7.1M550.4,899.2v7.1M547.6,904.1h7.1M551.1,900.6v7.1M548.3,902.4h7.1M551.8,898.8v7.1M549,904.2h7.1M552.5,900.6v7.1M549.7,903.7h7.1M553.2,900.1v7.1M550.4,903.4h7.1M553.9,899.9v7.1M551.1,903.9h7.1M554.6,900.3v7.1M551.8,903.8h7.1M555.3,900.3v7.1M552.5,904.4h7.1M556,900.8v7.1M553.2,903.3h7.1M556.7,899.7v7.1M553.9,903.4h7.1M557.4,899.8v7.1M554.6,903.4h7.1M558.1,899.8v7.1M555.3,904.7h7.1M558.8,901.2v7.1M556,904.2h7.1M559.5,900.7v7.1M556.7,902.9h7.1M560.2,899.4v7.1M557.4,903.3h7.1M560.9,899.8v7.1M558.1,903.1h7.1M561.6,899.5v7.1M558.8,903.6h7.1M562.3,900v7.1M559.5,903.7h7.1M563,900.1v7.1M560.2,904.7h7.1M563.7,901.2v7.1M560.9,902.4h7.1M564.4,898.9v7.1M561.6,904.2h7.1M565.1,900.7v7.1M562.3,903.8h7.1M565.8,900.2v7.1M563,903h7.1M566.5,899.4v7.1M563.7,903.2h7.1M567.2,899.7v7.1M564.4,902.9h7.1M567.9,899.3v7.1M565.1,902.9h7.1M568.6,899.4v7.1M565.8,903h7.1M569.3,899.5v7.1M566,901h7.1M569.6,897.5v7.1M566.3,902.6h7.1M569.8,899.1v7.1M566.5,901h7.1M570.1,897.5v7.1M566.8,901.8h7.1M570.3,898.3v7.1M567,900.5h7.1M570.6,896.9v7.1M567.3,900.4h7.1M570.8,896.8v7.1M567.5,899.2h7.1M571.1,895.6v7.1M567.8,898.7h7.1M571.3,895.1v7.1M568,897.1h7.1M571.6,893.5v7.1M568.3,895.5h7.1M571.8,891.9v7.1M568.5,895.5h7.1M572.1,891.9v7.1M568.8,894.4h7.1M572.3,890.9v7.1M569,894h7.1M572.6,890.5v7.1M569.3,890.6h7.1M572.8,887.1v7.1M569.5,890.6h7.1M573.1,887v7.1M569.8,890.5h7.1M573.3,886.9v7.1M570,888.1h7.1M573.6,884.5v7.1M570.3,888.1h7.1M573.8,884.6v7.1M570.5,889h7.1M574.1,885.4v7.1M570.8,888.5h7.1M574.3,884.9v7.1M571,886.9h7.1M574.6,883.3v7.1M571.3,888.6h7.1M574.8,885v7.1M571.5,888.7h7.1M575.1,885.2v7.1M571.8,888.8h7.1M575.3,885.3v7.1M572,889.1h7.1M575.6,885.6v7.1M572.3,889.6h7.1M575.8,886.1v7.1M572.5,889.6h7.1M576.1,886.1v7.1M572.8,890.7h7.1M576.3,887.1v7.1M573,892.4h7.1M576.6,888.8v7.1M573.3,892.8h7.1M576.8,889.3v7.1M573.5,894.8h7.1M577.1,891.3v7.1M573.8,894.3h7.1M577.4,890.8v7.1M574.1,894.3h7.1M577.6,890.8v7.1M574.3,896.1h7.1M577.9,892.5v7.1M574.6,897.3h7.1M578.1,893.8v7.1M574.8,898.2h7.1M578.4,894.6v7.1M575.1,898.7h7.1M578.6,895.1v7.1M575.3,898.8h7.1M578.9,895.2v7.1M575.6,901h7.1M579.1,897.4v7.1M575.8,900h7.1M579.4,896.5v7.1M576.1,901.5h7.1M579.6,897.9v7.1M576.3,901.2h7.1M579.9,897.7v7.1M576.6,901h7.1M580.1,897.4v7.1M576.8,903.1h7.1M580.4,899.5v7.1M577.1,901.2h7.1M580.6,897.7v7.1M577.3,902h7.1M580.9,898.5v7.1M577.6,903.1h7.1M581.1,899.6v7.1M577.8,902.7h7.1M581.4,899.2v7.1M578.5,903.8h7.1M582.1,900.3v7.1M579.2,903.5h7.1M582.8,899.9v7.1M579.9,903.3h7.1M583.5,899.8v7.1M580.6,904.9h7.1M584.2,901.4v7.1M581.3,903.7h7.1M584.9,900.1v7.1M582,903.7h7.1M585.6,900.2v7.1M582.7,903.2h7.1M586.3,899.6v7.1M583.4,903.4h7.1M587,899.9v7.1M584.1,904.4h7.1M587.7,900.9v7.1M584.8,904.4h7.1M588.4,900.8v7.1M585.5,904h7.1M589.1,900.5v7.1M586.2,903.6h7.1M589.8,900v7.1M586.9,904.5h7.1M590.5,901v7.1M587.6,902.9h7.1M591.2,899.4v7.1M588.3,903.9h7.1M591.9,900.3v7.1M589,903.9h7.1M592.6,900.4v7.1M589.7,903.5h7.1M593.3,900v7.1M590.4,904.2h7.1M594,900.7v7.1M591.1,903.7h7.1M594.7,900.1v7.1M591.8,903.6h7.1M595.4,900.1v7.1M592.5,905.3h7.1M596.1,901.8v7.1M593.2,904.7h7.1M596.8,901.1v7.1M593.9,905h7.1M597.5,901.4v7.1M594.6,904.2h7.1M598.2,900.6v7.1M595.3,904.8h7.1M598.9,901.3v7.1M596,904.7h7.1M599.6,901.1v7.1M596.7,905h7.1M600.3,901.4v7.1M597.4,905.3h7.1M601,901.7v7.1M598.1,903.9h7.1M601.7,900.4v7.1M598.8,904.2h7.1M602.4,900.7v7.1M599.5,904h7.1M603.1,900.4v7.1M600.2,902.8h7.1M603.8,899.3v7.1M600.9,902.9h7.1M604.5,899.4v7.1M601.6,903.8h7.1M605.2,900.2v7.1M602.3,904h7.1M605.9,900.4v7.1M603,902.8h7.1M606.6,899.2v7.1M603.3,903.7h7.1M606.8,900.2v7.1M603.6,903.6h7.1M607.1,900v7.1M603.8,902.1h7.1M607.4,898.5v7.1M604.1,902.9h7.1M607.6,899.3v7.1M604.3,902.6h7.1M607.9,899v7.1M604.6,901.1h7.1M608.1,897.5v7.1M604.9,899.3h7.1M608.4,895.8v7.1M605.1,900.1h7.1M608.7,896.5v7.1M605.4,897.9h7.1M608.9,894.4v7.1M605.6,896.5h7.1M609.2,893v7.1M605.9,895.4h7.1M609.5,891.9v7.1M606.2,893.4h7.1M609.7,889.9v7.1M606.4,892.7h7.1M610,889.2v7.1M606.7,890.6h7.1M610.2,887.1v7.1M606.9,888.9h7.1M610.5,885.3v7.1M607.2,886.3h7.1M610.8,882.7v7.1M607.5,883.1h7.1M611,879.6v7.1M607.7,881.3h7.1M611.3,877.8v7.1M608,879.9h7.1M611.5,876.3v7.1M608.3,876.9h7.1M611.8,873.4v7.1M608.5,876.5h7.1M612.1,873v7.1M608.8,873.6h7.1M612.3,870.1v7.1M609,872.1h7.1M612.6,868.6v7.1M609.3,872.5h7.1M612.9,868.9v7.1M609.6,871.8h7.1M613.1,868.3v7.1M609.8,871.3h7.1M613.4,867.7v7.1M610.1,871.4h7.1M613.6,867.9v7.1M610.4,872.4h7.1M613.9,868.9v7.1M610.6,873.5h7.1M614.2,870v7.1M610.9,874.5h7.1M614.4,871v7.1M611.1,875.1h7.1M614.7,871.5v7.1M611.4,877h7.1M615,873.5v7.1M611.7,878.9h7.1M615.2,875.3v7.1M611.9,880.5h7.1M615.5,876.9v7.1M612.2,880.5h7.1M615.7,877v7.1M612.5,882.8h7.1M616,879.3v7.1M612.7,884.7h7.1M616.3,881.1v7.1M613,886.8h7.1M616.5,883.3v7.1M613.3,888.8h7.1M616.8,885.3v7.1M613.5,891h7.1M617.1,887.4v7.1M613.8,892.4h7.1M617.3,888.8v7.1M614,893.4h7.1M617.6,889.8v7.1M614.3,894.8h7.1M617.9,891.3v7.1M614.6,897.3h7.1M618.1,893.7v7.1M614.8,896.9h7.1M618.4,893.3v7.1M615.1,898.5h7.1M618.6,895v7.1M615.4,900.3h7.1M618.9,896.8v7.1M615.6,900.3h7.1M619.2,896.7v7.1M615.9,899.6h7.1M619.4,896.1v7.1M616.2,901.6h7.1M619.7,898.1v7.1M616.4,901.6h7.1M620,898.1v7.1M616.7,902.3h7.1M620.2,898.7v7.1M616.9,903.4h7.1M620.5,899.9v7.1M617.2,903.3h7.1M620.8,899.8v7.1M617.5,903.1h7.1M621,899.5v7.1M617.7,904.1h7.1M621.3,900.5v7.1M618,903.9h7.1M621.6,900.4v7.1M618.7,904h7.1M622.3,900.5v7.1M619.4,904.4h7.1M623,900.8v7.1M620.1,904.4h7.1M623.7,900.9v7.1M620.8,904.1h7.1M624.4,900.6v7.1M621.5,904.1h7.1M625.1,900.6v7.1M622.2,904.5h7.1M625.8,901v7.1M622.9,903.9h7.1M626.5,900.4v7.1M623.6,903.8h7.1M627.2,900.2v7.1M624.3,905.5h7.1M627.9,902v7.1M625,904.5h7.1M628.6,901v7.1M625.7,904.7h7.1M629.3,901.2v7.1M626.4,904.7h7.1M630,901.1v7.1M627.1,904.8h7.1M630.7,901.3v7.1M627.8,904.8h7.1M631.4,901.3v7.1M628.5,904.9h7.1M632.1,901.4v7.1M629.2,904.3h7.1M632.8,900.8v7.1M629.9,905.5h7.1M633.5,902v7.1M630.6,904.5h7.1M634.2,900.9v7.1M631.3,905.7h7.1M634.9,902.1v7.1M632,903.8h7.1M635.6,900.3v7.1M632.7,904.3h7.1M636.3,900.7v7.1M633.4,905.7h7.1M637,902.1v7.1M634.1,904.9h7.1M637.7,901.4v7.1M634.8,904.6h7.1M638.4,901.1v7.1M635.5,905.3h7.1M639.1,901.8v7.1M636.2,904.4h7.1M639.8,900.8v7.1M636.9,905.2h7.1M640.5,901.6v7.1M637.6,904h7.1M641.2,900.4v7.1M638.3,904.8h7.1M641.9,901.3v7.1M639,904.7h7.1M642.6,901.2v7.1M639.7,905.5h7.1M643.3,902v7.1M640.4,905.8h7.1M644,902.2v7.1M641.1,904.6h7.1M644.7,901.1v7.1M641.8,906.3h7.1M645.4,902.8v7.1M642.5,904.8h7.1M646.1,901.3v7.1M643.2,904.1h7.1M646.8,900.6v7.1M643.9,904.1h7.1M647.5,900.6v7.1M644.6,906.3h7.1M648.2,902.8v7.1M645.3,905.2h7.1M648.9,901.7v7.1M646,904.9h7.1M649.6,901.3v7.1M646.7,904.8h7.1M650.3,901.3v7.1M647.4,904.6h7.1M651,901v7.1M648.1,906.3h7.1M651.7,902.7v7.1M648.8,905.3h7.1M652.4,901.8v7.1M649.5,906.5h7.1M653.1,903v7.1M650.2,905.3h7.1M653.8,901.7v7.1M650.9,904.3h7.1M654.5,900.7v7.1M651.6,906h7.1M655.2,902.4v7.1M652.3,905.2h7.1M655.9,901.6v7.1M653,905.3h7.1M656.6,901.7v7.1M653.7,906.5h7.1M657.3,903v7.1M654.4,905.3h7.1M658,901.7v7.1M655.1,906.3h7.1M658.7,902.7v7.1M655.8,905.5h7.1M659.4,901.9v7.1M656.5,905h7.1M660.1,901.4v7.1M657.2,905.9h7.1M660.8,902.3v7.1M657.9,905.1h7.1M661.5,901.6v7.1M658.6,906.4h7.1M662.2,902.8v7.1M659.3,906.2h7.1M662.9,902.7v7.1M660,905.6h7.1M663.6,902.1v7.1M660.7,906h7.1M664.3,902.4v7.1M661.4,906h7.1M665,902.4v7.1M662.1,905.4h7.1M665.7,901.9v7.1M662.8,906.2h7.1M666.4,902.7v7.1M663.5,905.5h7.1M667.1,901.9v7.1M664.2,906.1h7.1M667.8,902.5v7.1M664.9,905h7.1M668.5,901.4v7.1M665.6,905.7h7.1M669.2,902.2v7.1M666.3,905.9h7.1M669.9,902.4v7.1M667,905.1h7.1M670.6,901.6v7.1M667.7,905.4h7.1M671.3,901.8v7.1M668.4,905.3h7.1M672,901.8v7.1M669.1,906.2h7.1M672.7,902.6v7.1M669.8,905.2h7.1M673.4,901.7v7.1M670.5,906h7.1M674.1,902.5v7.1M671.2,906.8h7.1M674.8,903.2v7.1M671.9,906h7.1M675.5,902.4v7.1M672.6,904.6h7.1M676.2,901.1v7.1M673.3,905.8h7.1M676.9,902.3v7.1M674,906.5h7.1M677.6,902.9v7.1M674.7,905.6h7.1M678.3,902v7.1M675.4,906.5h7.1M679,903v7.1M676.1,906.2h7.1M679.7,902.6v7.1M676.8,906.1h7.1M680.4,902.5v7.1M677.5,905.6h7.1M681.1,902.1v7.1M678.2,905.4h7.1M681.8,901.9v7.1M678.9,905.6h7.1M682.5,902.1v7.1M679.6,905.8h7.1M683.2,902.3v7.1M680.3,906.2h7.1M683.9,902.6v7.1M681,906.1h7.1M684.6,902.5v7.1M681.7,905.6h7.1M685.3,902.1v7.1M682.4,905.9h7.1M686,902.3v7.1M683.1,906.1h7.1M686.7,902.5v7.1M683.8,904.7h7.1M687.4,901.2v7.1M684.5,905.3h7.1M688.1,901.7v7.1M685.2,905.3h7.1M688.8,901.7v7.1M685.9,905.7h7.1M689.5,902.1v7.1M686.6,905.6h7.1M690.2,902v7.1M687.3,905.6h7.1M690.9,902.1v7.1M688,905.2h7.1M691.6,901.6v7.1M688.7,906.2h7.1M692.3,902.7v7.1M689.4,905.9h7.1M693,902.4v7.1M690.1,904.6h7.1M693.7,901.1v7.1M690.8,905.7h7.1M694.4,902.2v7.1M691.5,904.9h7.1M695.1,901.4v7.1M692.2,906.8h7.1M695.8,903.3v7.1M692.9,905.3h7.1M696.5,901.8v7.1M693.6,905.3h7.1M697.2,901.8v7.1M694.3,905.6h7.1M697.9,902.1v7.1M695,905.4h7.1M698.6,901.8v7.1M695.7,905.4h7.1M699.3,901.9v7.1M696.4,906.5h7.1M700,902.9v7.1M697.1,905.5h7.1M700.7,901.9v7.1M697.8,905.8h7.1M701.4,902.3v7.1M698.5,905.9h7.1M702.1,902.4v7.1M699.2,904.4h7.1M702.8,900.8v7.1M699.5,906.1h7.1M703,902.6v7.1M699.8,905.4h7.1M703.3,901.8v7.1M700.1,905.5h7.1M703.6,901.9v7.1M700.4,904.2h7.1M703.9,900.6v7.1M700.7,905.2h7.1M704.2,901.7v7.1M701,904.9h7.1M704.5,901.3v7.1M701.2,904.1h7.1M704.8,900.6v7.1M701.5,905.6h7.1M705.1,902v7.1M701.8,904.7h7.1M705.4,901.1v7.1M702.1,904h7.1M705.7,900.5v7.1M702.4,904.2h7.1M706,900.6v7.1M702.7,904.5h7.1M706.2,900.9v7.1M703,904.4h7.1M706.5,900.9v7.1M703.3,903.8h7.1M706.8,900.3v7.1M703.6,904h7.1M707.1,900.4v7.1M703.9,903.8h7.1M707.4,900.3v7.1M704.2,901.6h7.1M707.7,898v7.1M704.5,901.6h7.1M708,898v7.1M704.7,900.6h7.1M708.3,897.1v7.1M705,900.5h7.1M708.6,897v7.1M705.3,900.4h7.1M708.9,896.9v7.1M705.6,898.6h7.1M709.2,895.1v7.1M705.9,895.9h7.1M709.5,892.3v7.1M706.2,894.4h7.1M709.8,890.8v7.1M706.5,892.8h7.1M710,889.3v7.1M706.8,888.7h7.1M710.3,885.2v7.1M707.1,885.3h7.1M710.6,881.8v7.1M707.4,881.3h7.1M710.9,877.7v7.1M707.7,874.9h7.1M711.2,871.3v7.1M708,870.9h7.1M711.5,867.4v7.1M708.3,864.3h7.1M711.8,860.8v7.1M708.5,857.6h7.1M712.1,854.1v7.1M708.8,849.3h7.1M712.4,845.8v7.1M709.1,841.9h7.1M712.7,838.3v7.1M709.4,834.1h7.1M713,830.6v7.1M709.7,826.7h7.1M713.3,823.2v7.1M710,818.7h7.1M713.6,815.1v7.1M710.3,810.9h7.1M713.9,807.4v7.1M710.6,804.6h7.1M714.2,801.1v7.1M710.9,797.7h7.1M714.4,794.1v7.1M711.2,790.5h7.1M714.7,787v7.1M711.5,785.9h7.1M715,782.4v7.1M711.8,784.2h7.1M715.3,780.7v7.1M712.1,781h7.1M715.6,777.5v7.1M712.4,781.9h7.1M715.9,778.4v7.1M712.7,782.9h7.1M716.2,779.4v7.1M713,783.1h7.1M716.5,779.6v7.1M713.3,785.8h7.1M716.8,782.2v7.1M713.5,789.1h7.1M717.1,785.6v7.1M713.8,792.3h7.1M717.4,788.7v7.1M714.1,796.6h7.1M717.7,793v7.1M714.4,801.9h7.1M718,798.3v7.1M714.7,808h7.1M718.3,804.4v7.1M715,812.7h7.1M718.6,809.1v7.1M715.3,818.7h7.1M718.9,815.2v7.1M715.6,824.6h7.1M719.2,821.1v7.1M715.9,830.3h7.1M719.5,826.8v7.1M716.2,838.8h7.1M719.8,835.2v7.1M716.5,843.2h7.1M720,839.7v7.1M716.8,850.7h7.1M720.3,847.1v7.1M717.1,858.1h7.1M720.6,854.5v7.1M717.4,863.1h7.1M720.9,859.6v7.1M717.7,870.4h7.1M721.2,866.9v7.1M718,876.3h7.1M721.5,872.8v7.1M718.3,879.8h7.1M721.8,876.2v7.1M718.6,884.8h7.1M722.1,881.3v7.1M718.9,887.7h7.1M722.4,884.1v7.1M719.2,892h7.1M722.7,888.5v7.1M719.5,894.5h7.1M723,891v7.1M719.8,897h7.1M723.3,893.4v7.1M720.1,899.7h7.1M723.6,896.2v7.1M720.4,900.7h7.1M723.9,897.2v7.1M720.6,902.6h7.1M724.2,899.1v7.1M720.9,903.1h7.1M724.5,899.5v7.1M721.2,902.5h7.1M724.8,899v7.1M721.5,904h7.1M725.1,900.4v7.1M721.8,904.4h7.1M725.4,900.9v7.1M722.1,903.3h7.1M725.7,899.7v7.1M722.4,905.2h7.1M726,901.7v7.1M722.7,904.4h7.1M726.3,900.8v7.1M723,904.6h7.1M726.6,901.1v7.1M723.3,903.8h7.1M726.9,900.2v7.1M723.6,904.5h7.1M727.2,900.9v7.1M723.9,904.7h7.1M727.5,901.1v7.1M724.2,904.3h7.1M727.8,900.8v7.1M724.5,904.7h7.1M728.1,901.2v7.1M724.8,903.6h7.1M728.4,900v7.1M725.1,905.8h7.1M728.7,902.2v7.1M725.4,904.2h7.1M729,900.6v7.1M725.7,903.9h7.1M729.3,900.3v7.1M726,904.5h7.1M729.6,900.9v7.1M726.3,904.6h7.1M729.9,901.1v7.1M726.6,905.7h7.1M730.2,902.1v7.1M726.9,904.8h7.1M730.5,901.2v7.1M727.2,905.6h7.1M730.8,902.1v7.1M727.5,904.9h7.1M731.1,901.3v7.1M727.8,906.7h7.1M731.4,903.2v7.1M728.1,906h7.1M731.7,902.5v7.1M728.4,906.9h7.1M732,903.3v7.1M728.7,905.1h7.1M732.3,901.5v7.1M729,906.3h7.1M732.6,902.7v7.1M729.7,905.3h7.1M733.3,901.7v7.1M730.4,906.5h7.1M734,902.9v7.1M731.1,906.6h7.1M734.7,903.1v7.1M731.8,905.2h7.1M735.4,901.6v7.1M732.5,905.6h7.1M736.1,902v7.1M733.2,905.6h7.1M736.8,902.1v7.1M733.9,905.5h7.1M737.5,901.9v7.1M734.6,906.1h7.1M738.2,902.5v7.1M735.3,906h7.1M738.9,902.4v7.1M736,905.7h7.1M739.6,902.1v7.1M736.7,906.8h7.1M740.3,903.2v7.1M737.4,907.1h7.1M741,903.6v7.1M738.1,905.9h7.1M741.7,902.4v7.1M738.8,906.5h7.1M742.4,902.9v7.1M739.5,906.9h7.1M743.1,903.4v7.1M740.2,906.8h7.1M743.8,903.3v7.1M740.9,906.5h7.1M744.5,903v7.1M741.6,907.6h7.1M745.2,904v7.1M742.3,907.6h7.1M745.9,904v7.1M743,907.4h7.1M746.6,903.9v7.1M743.7,906.8h7.1M747.3,903.2v7.1M744.4,908h7.1M748,904.5v7.1M745.1,908h7.1M748.7,904.4v7.1M745.8,906.5h7.1M749.4,902.9v7.1M746.5,906.6h7.1M750.1,903.1v7.1M747.2,907.5h7.1M750.8,903.9v7.1M747.9,906.1h7.1M751.5,902.5v7.1M748.6,906.8h7.1M752.2,903.3v7.1" stroke="#ff0000" stroke-width="1.15"/>
<path d="M78.5,894.5 80,894.16 80.5,893.85 80.8,893.5 81,892.8 81.2,891.03 81.5,887.14 81.8,879.9 82,869.1 82.2,857.04 82.5,848.9 82.6,848.1 82.8,849.35 83,856.06 83.5,875.4 83.8,883 84,888.1 84.2,891.1 84.5,892.63 84.8,893.4 85,893.8 85.5,894.14 87,894.56 90.2,894.76 91.8,894.63 92,894.5 92.2,894.25 92.5,893.66 92.8,892.5 93,890.56 93.5,885.5 93.8,884.14 93.8,884.1 94,884.55 94.2,886.1 94.8,890.34 95,892.03 95.2,893.2 95.5,893.9 95.8,894.3 96.2,894.6 97.2,894.57 97.8,894.4 98,894.2 98.2,893.8 98.5,892.9 98.8,891 99,887.5 99.2,882.2 99.5,875.8 99.8,870.1 100,867.7 100.2,869.34 100.5,873.5 100.8,878.8 101,883.86 101.2,887.94 101.5,890.8 101.8,892.57 102,893.57 102.2,894.1 102.5,894.37 103.2,894.7 104.5,894.77 105,894.64 105.2,894.44 105.5,894.04 105.8,893.4 106,892.43 106.2,891.37 106.5,890.5 106.8,890.2 107,890.4 107.5,891.23 107.8,891 108,889.53 108.2,886.3 108.5,881.16 108.8,874.7 109,868.6 109.2,865.4 109.3,865.3 109.5,866.4 109.8,870.2 110,875.5 110.2,881 110.5,885.7 110.8,889.3 111,891.65 111.2,893.1 111.5,893.9 111.8,894.33 112.2,894.7 113.8,895.1 117.2,895.2 119.5,895 120.5,894.65 121,894.2 121.2,893.64 121.5,892.54 121.8,890.37 122,886.4 122.2,880.05 122.5,871.25 122.8,861.1 123,852.06 123.2,847.44 123.3,847.3 123.5,848.8 123.8,854.2 124,861.95 124.2,870.25 124.5,877.7 124.8,883.66 125,887.9 125.2,890.6 125.5,892.2 125.8,893 126,893.35 126.2,893.3 126.5,892.73 126.8,891.5 127,889.24 127.2,885.86 127.5,881.54 127.8,877.04 128,873.66 128.2,872.7 128.2,872.74 128.5,874.15 128.8,877.1 129.2,884.46 129.5,887.65 129.8,890.1 130,891.8 130.2,892.8 130.5,893.4 130.8,893.67 131,893.7 131.2,893.6 131.5,893.3 131.8,892.6 132,891.15 132.2,888.3 132.5,883.24 132.8,875.1 133,863.6 133.2,849.87 133.5,836.5 133.8,827.54 133.9,825.9 134,826.4 134.2,831.67 134.5,841.16 134.8,852.5 135,863.7 135.2,873.37 135.5,880.83 135.8,886.1 136,889.5 136.2,891.6 136.5,892.8 136.8,893.5 137,893.9 137.5,894.34 138.5,894.7 139.5,894.7 140.2,894.43 140.5,894.2 140.8,893.7 141,892.8 141.2,891.03 141.5,887.9 141.8,882.84 142,875.64 142.2,866.73 142.5,857.5 142.8,850.15 143,847.3 143.2,849.26 143.5,854.5 143.8,861.7 144,869.4 144.2,876.5 144.5,882.4 144.8,886.9 145,890 145.2,892.04 145.5,893.3 145.8,894 146,894.46 146.5,894.9 147.8,895.35 150.5,895.7 155,895.7 157.2,895.4 158.5,895 159.2,894.46 159.5,894.2 159.8,893.76 160,893.1 160.2,891.9 160.5,889.7 160.8,885.8 161,879.3 161.2,869.34 161.5,855.6 161.8,838.7 162,820.76 162.2,805.24 162.5,796.44 162.6,795.6 162.8,796.86 163,804.1 163.2,816.1 163.5,830.5 163.8,845.13 164,858.4 164.2,869.4 164.5,877.8 164.8,883.8 165,887.9 165.2,890.5 165.5,892.1 165.8,893.06 166,893.7 166.5,894.4 167.2,894.9 168.8,895.44 170.2,895.6 171,895.4 171.8,894.6 172.2,894.1 172.5,894 173,894.25 174.2,895.5 175,895.8 177,895.9 180.8,895.63 182.8,895.16 183.8,894.66 184.2,894.1 184.5,893.64 184.8,892.87 185,891.66 185.2,889.85 185.5,887.3 185.8,884.05 186,880.2 186.2,876.2 186.5,872.6 186.8,870.27 186.9,869.7 187,869.66 187.2,870.4 187.5,872.15 188,876.8 188.2,878.87 188.5,880.2 188.8,880.4 189,878.74 189.2,874.25 189.5,865.37 189.8,850 190,825.9 190.2,791.1 190.5,745.4 190.8,690.96 191,633.3 191.2,581.3 191.5,546 191.7,536.5 191.8,536.9 192,550.76 192.2,581.46 192.5,623.36 192.8,670.3 193,716.9 193.2,759.4 193.5,795.4 193.8,824.1 194,845.6 194.2,860.96 194.5,871.44 194.8,878.37 195,882.84 195.2,885.73 195.5,887.64 195.8,888.96 196,889.9 196.2,890.66 196.8,891.8 197.5,892.9 198.5,893.94 199.8,894.7 201.8,895.44 204.8,895.94 208.5,896.1 211.5,895.83 213.2,895.34 214.2,894.8 215,894.13 215.5,893.45 215.8,892.96 216,892.3 216.2,891.3 216.5,889.7 216.8,887.14 217,883 217.2,876.4 217.5,866.4 217.8,852.1 218,832.93 218.2,809.1 218.5,781.9 218.8,753.77 219,728.46 219.2,710.5 219.5,703.9 219.8,708.3 220,720.8 220.2,739.3 220.5,761.27 220.8,784.36 221,806.65 221.2,826.75 221.5,843.85 221.8,857.67 222,868.3 222.2,876.16 222.5,881.73 222.8,885.56 223,888.14 223.2,889.84 223.5,890.97 223.8,891.7 224,892.25 224.5,892.9 225.2,893.3 225.8,893.3 226,893.14 226.2,892.9 226.5,892.4 226.8,891.5 227,890 227.2,887.6 227.5,883.85 227.8,878.33 228,870.7 228.2,860.85 228.5,849 229,823 229.2,811.9 229.5,804.6 229.7,802.7 229.8,802.8 230,805.6 230.2,812 230.5,821 230.8,831.4 231,842.3 231.2,852.8 231.5,862.3 231.8,870.4 232,877.04 232.2,882.2 232.5,886.1 232.8,888.9 233,890.86 233.2,892.2 233.5,893.1 233.8,893.67 234,894.03 234.5,894.34 235,894.24 236.2,893.25 236.8,893.25 238.2,894.2 238.8,894.25 239.2,893.93 239.5,893.54 239.8,892.9 240,891.8 240.2,890 240.5,887.2 240.8,882.95 241,876.7 241.2,868.1 241.5,856.9 241.8,843.24 242,827.73 242.2,811.6 242.5,796.6 242.8,784.9 243,778.77 243.1,778.2 243.2,779.07 243.5,784.15 243.8,793.05 244,804.6 244.2,817.56 244.5,830.8 244.8,843.43 245,854.8 245.2,864.6 245.5,872.6 245.8,878.95 246,883.75 246.2,887.3 246.5,889.8 246.8,891.55 247,892.77 247.2,893.6 247.5,894.2 248,894.93 248.8,895.55 250,896.1 252,896.5 254,896.4 255,896.1 255.5,895.8 255.8,895.54 256,895.14 256.2,894.5 256.5,893.5 256.8,892 257,889.7 257.2,886.46 257.5,882 257.8,876.1 258,868.9 258.2,860.6 258.5,851.7 258.8,842.94 259,835.4 259.2,830.25 259.5,828.4 259.8,829.66 260,833.25 260.2,838.7 260.5,845.34 261,859.9 261.2,866.9 261.5,873.2 261.8,878.6 262,883.1 262.2,886.7 262.5,889.5 262.8,891.55 263,893.1 263.2,894.15 263.5,894.9 263.8,895.46 264.2,896.1 265,896.6 266.8,897.14 269.2,897.4 270.5,897.3 271,897.06 271.2,896.83 271.5,896.5 271.8,895.96 272,895.2 272.2,894.23 272.5,892.95 272.8,891.4 273,889.6 273.5,885.85 273.8,884.2 274,883.03 274.2,882.5 274.5,882.7 274.8,883.33 275,884.4 275.2,885.77 276,890.43 276.2,891.87 276.5,893.14 276.8,894.2 277,895.1 277.2,895.84 277.5,896.4 278,897.1 278.8,897.6 280.5,897.96 288,898.3 300.2,898.44 303.5,898.2 304.5,897.9 305,897.6 305.2,897.3 305.5,896.83 305.8,896.2 306,895.3 306.2,894 306.5,892.3 306.8,890.14 307,887.46 307.2,884.3 307.5,880.77 308,873.35 308.2,870.06 308.5,867.5 308.8,866.05 308.9,865.8 309,865.9 309.2,866.7 309.5,868.34 309.8,870.64 310,873.4 310.8,882.5 311,885.3 311.2,887.8 311.5,890 311.8,891.87 312,893.4 312.2,894.6 312.5,895.6 312.8,896.3 313,896.87 313.5,897.6 314.2,898.1 316,898.5 320.8,898.8 326.8,898.8 328.2,898.6 329,898.25 329.5,897.73 330,896.84 330.5,895.5 331,893.7 331.5,891.8 331.8,891 332,890.36 332.2,890 332.5,889.9 332.8,890.06 333,890.4 333.5,891.5 334.5,894.23 335,895.3 335.5,896 336,896.36 336.5,896.3 336.8,896.1 337,895.7 337.2,895.16 337.5,894.3 337.8,893.05 338,891.25 338.2,888.7 338.5,885.24 338.8,880.6 339,874.67 339.2,867.25 339.5,858.35 339.8,848.1 340,836.77 340.2,824.9 340.5,813.16 340.8,802.45 341,793.73 341.2,788 341.5,786 341.8,787.36 342,791.3 342.2,797.43 342.5,805.3 342.8,814.3 343,823.9 343.2,833.7 343.5,843.2 343.8,852.1 344,860.26 344.2,867.45 344.5,873.66 344.8,878.87 345,883.15 345.2,886.6 345.5,889.3 345.8,891.4 346,893 346.2,894.23 346.5,895.14 346.8,895.83 347,896.35 347.5,897.06 348.2,897.7 349.8,898.4 352.5,899 357.5,899.54 369,900 379.8,900 384.2,899.74 386.8,899.24 388,898.7 388.8,898.14 389.2,897.45 389.5,896.9 389.8,896.2 390,895.2 390.2,893.85 390.5,892 390.8,889.57 391,886.37 391.2,882.27 391.5,877.16 391.8,870.95 392,863.6 392.2,855.25 392.5,846 392.8,836.15 393,826.1 393.2,816.4 393.5,807.7 393.8,800.53 394,795.66 394.2,793.56 394.3,793.5 394.5,794.15 394.8,796.75 395,801.1 395.2,807 395.5,813.95 395.8,821.7 396.2,838 396.5,846.06 396.8,853.7 397,860.77 397.2,867.2 397.5,872.84 397.8,877.76 398,881.95 398.2,885.45 398.5,888.33 398.8,890.66 399,892.5 399.2,894 399.5,895.1 399.8,896 400,896.7 400.5,897.65 401,898.24 402,898.9 403.8,899.5 406.2,899.8 408,899.7 408.8,899.4 409.2,898.9 409.5,898.5 409.8,897.95 410,897.23 410.2,896.3 410.5,895.14 410.8,893.7 411,891.97 411.2,889.95 411.5,887.66 411.8,885.15 412.5,877.2 412.8,874.8 413,872.84 413.2,871.45 413.5,870.76 413.6,870.7 413.8,870.8 414,871.4 414.2,872.46 414.5,873.94 414.8,875.74 415,877.8 416,886.55 416.2,888.57 416.5,890.4 416.8,892.1 417,893.6 417.2,894.9 417.5,896 417.8,896.9 418,897.67 418.2,898.3 418.8,899.2 419.2,899.8 420,900.25 421.5,900.66 426.2,901.1 439.2,901.6 470.2,902.03 480.8,901.9 485.5,901.5 488.2,900.94 489.8,900.3 490.5,899.8 491,899.24 491.5,898.4 491.8,897.8 492,897 492.2,896 492.5,894.66 492.8,892.97 493,890.8 493.2,888.1 493.5,884.7 493.8,880.53 494,875.5 494.2,869.6 494.5,862.73 494.8,854.9 495,846.2 495.2,836.77 495.5,826.75 496,806.1 496.2,796.2 496.5,787.14 496.8,779.4 497,773.45 497.2,769.7 497.5,768.4 497.8,769.27 498,771.8 498.2,775.9 498.5,781.4 498.8,787.96 499,795.4 499.2,803.4 499.5,811.77 500,828.7 500.2,836.85 500.5,844.65 500.8,851.95 501,858.7 501.2,864.8 501.5,870.3 501.8,875.16 502,879.4 502.2,883.05 502.5,886.16 502.8,888.8 503,891 503.2,892.8 503.5,894.3 503.8,895.5 504,896.5 504.2,897.3 504.5,897.94 505,898.9 505.8,899.8 506.8,900.5 508.8,901.3 512,901.95 517.8,902.5 530.8,903.06 558.8,903.6 566.2,903.5 568,903.2 569,902.7 569.8,901.86 570.2,900.96 570.8,899.7 571.2,898.06 571.8,896.03 573,890.1 573.5,888 573.8,887.15 574,886.5 574.2,886.13 574.5,886 574.8,886.1 575,886.37 575.2,886.8 575.5,887.4 576,888.93 576.8,891.8 577.8,895.73 578.5,898.27 579,899.64 579.5,900.76 580.2,901.97 581,902.74 582,903.3 583.8,903.7 589.8,904.05 600.2,904.15 604.5,903.9 606,903.5 606.8,903.05 607.2,902.5 607.8,901.7 608.2,900.5 608.5,899.7 608.8,898.8 609,897.7 609.2,896.5 609.5,895.1 609.8,893.6 610,891.9 610.5,888.1 611.5,879.95 611.8,878.05 612,876.33 612.2,874.86 612.5,873.7 612.8,872.9 613,872.53 613.2,872.56 613.5,872.9 613.8,873.5 614,874.3 614.2,875.4 614.5,876.7 614.8,878.1 615.2,881.3 616.2,888.05 616.8,891.2 617.2,894 617.8,896.4 618.2,898.4 618.8,900 619.2,901.2 619.8,902.1 620.5,903 621.5,903.7 623,904.17 627,904.6 639.2,905.1 677.2,905.75 693.5,905.73 699.8,905.4 703.2,904.9 705.5,904.23 706.8,903.5 707.5,902.7 708,901.9 708.5,900.7 708.8,899.94 709,899 709.2,897.87 709.5,896.5 709.8,894.9 710,893 710.2,890.7 710.5,888.1 710.8,885.07 711,881.6 711.2,877.64 711.5,873.2 711.8,868.3 712,862.85 712.2,856.95 712.5,850.6 712.8,843.9 713,836.84 713.5,822.2 713.8,814.8 714,807.6 714.2,800.65 714.5,794.2 714.8,788.46 715,783.54 715.2,779.64 715.5,776.9 715.8,775.44 715.9,775.2 716,775.3 716.2,776.1 716.5,777.8 716.8,780.3 717,783.6 717.2,787.56 717.5,792.1 717.8,797.16 718,802.6 718.2,808.3 718.8,820.3 719.2,832.4 719.5,838.3 719.8,844.06 720,849.6 720.2,854.9 720.5,859.9 720.8,864.6 721,868.97 721.2,873 721.5,876.7 721.8,880.1 722,883.2 722.2,885.9 722.5,888.4 722.8,890.6 723,892.5 723.2,894.2 723.5,895.7 723.8,897 724,898.1 724.2,899.1 724.8,900.6 725.2,901.8 725.8,902.6 726.5,903.5 727.5,904.25 729.2,905 732.5,905.8 738,906.5 745.2,907 752.8,906.5" stroke="#0000cc" stroke-opacity="0.9" stroke-width="1.65" stroke-linejoin="round"/>
<path d="M82.3,915.2V923.9M85.1,915.2V923.9M92.2,915.2V923.9M93.4,915.2V923.9M98.9,915.2V923.9M100.1,915.2V923.9M106.4,915.2V923.9M108.5,915.2V923.9M109.5,915.2V923.9M123.1,915.2V923.9M128,915.2V923.9M134.1,915.2V923.9M142.2,915.2V923.9M143.3,915.2V923.9M144.4,915.2V923.9M161.5,915.2V923.9M162.7,915.2V923.9M172.5,915.2V923.9M186.9,915.2V923.9M191.8,915.2V923.9M197.5,915.2V923.9M219.3,915.2V923.9M229.7,915.2V923.9M236.2,915.2V923.9M241.6,915.2V923.9M243.6,915.2V923.9M259.2,915.2V923.9M264.9,915.2V923.9M274.3,915.2V923.9M306.8,915.2V923.9M308,915.2V923.9M309.3,915.2V923.9M332.7,915.2V923.9M341.5,915.2V923.9M394.3,915.2V923.9M413.6,915.2V923.9M497.5,915.2V923.9M574.5,915.2V923.9M613.1,915.2V923.9M715.9,915.2V923.9" stroke="#000" stroke-width="1.25"/>
<path d="M78.8,949.5 79.3,949.2 79.8,949.4 80.3,948.8 80.8,949.3 81.3,948.6 81.8,950.5 82.3,950.2 82.8,950.1 83.3,949.6 83.8,950 84.3,950.1 84.8,950 85.3,949.9 85.8,949.1 86.3,949.7 86.8,949.3 87.3,949 87.8,949 88.3,949.7 88.8,950 89.3,948.9 89.8,950.3 90.3,950.2 90.8,949.3 91.3,949.3 91.8,949.5 92.3,949.9 92.8,949.3 93.3,949 93.8,949.7 94.3,948.6 94.8,949.6 95.3,950 95.8,949.6 96.3,949.9 96.8,949.7 97.3,949.8 97.8,949.6 98.3,949.1 98.8,949.4 99.3,949.5 99.8,950.1 100.3,950.2 100.8,949.7 101.3,949.2 101.8,949.2 102.3,949.4 102.8,950.1 103.3,949.7 103.8,949.5 104.3,949.2 104.8,949.9 105.3,949.6 105.8,949.5 106.3,949.5 106.8,950.3 107.3,949.4 107.8,950.3 108.3,950.1 108.8,949.5 109.3,949.9 109.8,949.4 110.3,949.1 110.8,949.4 111.3,949.1 111.8,949.7 112.3,949.5 112.8,949.8 113.3,949.9 113.8,948.1 114.3,949.6 114.8,948.7 115.3,949.6 115.8,949.1 116.3,949.5 116.8,950.1 117.3,948.7 117.8,949.6 118.3,949.5 118.8,948.6 119.3,949.8 119.8,949.5 120.3,949.3 120.8,949.2 121.3,950.9 121.8,949.3 122.3,948.7 122.8,949.1 123.3,949.3 123.8,949.3 124.3,949.5 124.8,949 125.3,949.7 125.8,949.3 126.3,948.9 126.8,949.1 127.3,949.3 127.8,949.9 128.3,949.7 128.8,949.3 129.3,949.5 129.8,949.6 130.3,950.4 130.8,949.2 131.3,949.7 131.8,949.8 132.3,949.1 132.8,949.6 133.3,949.6 133.8,949.3 134.3,949.8 134.8,950 135.3,950 135.8,949.4 136.3,949.6 136.8,950.6 137.3,949 137.8,949.6 138.3,949.9 138.8,949.6 139.3,949.8 139.8,949.6 140.3,949.8 140.8,950.1 141.3,949.4 141.8,949.6 142.3,949.5 142.8,949.3 143.3,949.5 143.8,949 144.3,949.8 144.8,950.3 145.3,950.3 145.8,950.1 146.3,949.1 146.8,950.2 147.3,949.2 147.8,949.5 148.3,950.3 148.8,949 149.3,949.9 149.8,949.6 150.3,949.4 150.8,949.1 151.3,949.7 151.8,949.3 152.3,950 152.8,950.1 153.3,948.9 153.8,949.3 154.3,949.4 154.8,949 155.3,949 155.8,949.5 156.3,949.4 156.8,948.8 157.3,949.3 157.8,949.7 158.3,949 158.8,949.1 159.3,950.2 159.8,950.1 160.3,948.8 160.8,948.8 161.3,949.3 161.8,947.6 162.3,946.7 162.8,946.4 163.3,948.1 163.8,947.9 164.3,948.4 164.8,948.9 165.3,950 165.8,949.4 166.3,948.7 166.8,949.7 167.3,949.8 167.8,949.4 168.3,949.4 168.8,949.7 169.3,950 169.8,949.6 170.3,949.7 170.8,949.5 171.3,949.3 171.8,949.1 172.3,949.6 172.8,949.4 173.3,949.4 173.8,949.9 174.3,949.7 174.8,949.9 175.3,948.8 175.8,949.8 176.3,949.2 176.8,949.1 177.3,949.1 177.8,950 178.3,949.9 178.8,949.2 179.3,949 179.8,949.5 180.3,949.3 180.8,950.2 181.3,948.8 181.8,948.7 182.3,949.4 182.8,949.5 183.3,949.6 183.8,949.8 184.3,950.4 184.8,949.3 185.3,949.2 185.8,948.6 186.3,948.7 186.8,947.9 187.3,948 187.8,949.7 188.3,949.5 188.8,950.2 189.3,949.6 189.8,948.8 190.3,946.4 190.8,941 191.3,943.7 191.8,949.4 192.3,953 192.8,957.2 193.3,954.4 193.8,950.6 194.3,949.4 194.8,951 195.3,951.6 195.8,951 196.3,950.7 196.8,950 197.3,948.7 197.8,949.8 198.3,949.6 198.8,949.3 199.3,949.3 199.8,950.3 200.3,950.2 200.8,950.3 201.3,949 201.8,949.2 202.3,949.9 202.8,949 203.3,949.2 203.8,948.7 204.3,950.3 204.8,950 205.3,949.7 205.8,949.6 206.3,949.3 206.8,949.3 207.3,949.8 207.8,949.2 208.3,950.1 208.8,949.3 209.3,949.1 209.8,950.1 210.3,949.4 210.8,949.7 211.3,949.3 211.8,948.5 212.3,949.7 212.8,948.9 213.3,950 213.8,948.8 214.3,948.7 214.8,949.6 215.3,949.7 215.8,949.5 216.3,949 216.8,949.9 217.3,948.9 217.8,949.7 218.3,950.8 218.8,953.3 219.3,955.6 219.8,954.1 220.3,952.3 220.8,950.6 221.3,948.9 221.8,949 222.3,949.3 222.8,949.2 223.3,949.6 223.8,948.6 224.3,949.8 224.8,949.8 225.3,949.4 225.8,948.9 226.3,949.5 226.8,949.3 227.3,949.8 227.8,949.5 228.3,949.8 228.8,949.1 229.3,949.1 229.8,947 230.3,948.4 230.8,949.6 231.3,948.8 231.8,949.8 232.3,949 232.8,949.5 233.3,949.1 233.8,949.3 234.3,949.6 234.8,949.5 235.3,949.3 235.8,950.5 236.3,949.5 236.8,949.1 237.3,949.9 237.8,949.9 238.3,950.1 238.8,950.3 239.3,949.1 239.8,950 240.3,950 240.8,949.5 241.3,949.8 241.8,949.1 242.3,951.7 242.8,954.1 243.3,952.3 243.8,951.3 244.3,950.3 244.8,949.9 245.3,950.3 245.8,948.7 246.3,949.5 246.8,949.9 247.3,948.9 247.8,949.5 248.3,950.3 248.8,950.1 249.3,949.7 249.8,948.3 250.3,949.4 250.8,949.7 251.3,949.4 251.8,949.5 252.3,950.9 252.8,949.4 253.3,949.1 253.8,949.6 254.3,949.4 254.8,949.4 255.3,949.5 255.8,949.8 256.3,949.6 256.8,949 257.3,949.4 257.8,949.7 258.3,949.3 258.8,950 259.3,949.8 259.8,949.1 260.3,949.6 260.8,950.4 261.3,950.2 261.8,949.5 262.3,949.9 262.8,949.2 263.3,948.8 263.8,949.7 264.3,949.6 264.8,949.7 265.3,949.5 265.8,949.6 266.3,949.3 266.8,949.7 267.3,949.9 267.8,949.5 268.3,949.9 268.8,948.7 269.3,949.1 269.8,950.2 270.3,950.3 270.8,949.6 271.3,949.5 271.8,948.9 272.3,949.7 272.8,949.9 273.3,948.8 273.8,949.8 274.3,949.7 274.8,949.7 275.3,949 275.8,949.7 276.3,948.8 276.8,950.2 277.3,949.6 277.8,949 278.3,950.1 278.8,950 279.3,949.2 279.8,950.5 280.3,949 280.8,949.6 281.3,950 281.8,948.5 282.3,950 282.8,949.5 283.3,949.5 283.8,949 284.3,949.6 284.8,949 285.3,949.1 285.8,949.3 286.3,948.9 286.8,950.2 287.3,948.9 287.8,949.2 288.3,949.4 288.8,949.5 289.3,949.9 289.8,949.9 290.3,949.4 290.8,949.3 291.3,949.5 291.8,949.9 292.3,949.8 292.8,949.3 293.3,948.6 293.8,950.5 294.3,949.9 294.8,949.6 295.3,949.7 295.8,949.3 296.3,949 296.8,949.4 297.3,949.4 297.8,949.2 298.3,948.8 298.8,949.4 299.3,949.8 299.8,949.3 300.3,949.5 300.8,948.6 301.3,949.4 301.8,949.4 302.3,948.9 302.8,948.7 303.3,949.7 303.8,949.1 304.3,949.7 304.8,949.3 305.3,949.8 305.8,949.3 306.3,948.8 306.8,949.4 307.3,949.2 307.8,949.2 308.3,948.2 308.8,947.8 309.3,948.6 309.8,949.2 310.3,949.5 310.8,949.9 311.3,949.7 311.8,949.8 312.3,949.9 312.8,949.7 313.3,949.5 313.8,949.6 314.3,950.6 314.8,949.5 315.3,949.4 315.8,949.3 316.3,949.5 316.8,949.6 317.3,949 317.8,948.6 318.3,949.6 318.8,948.8 319.3,949.6 319.8,949.6 320.3,950 320.8,950.3 321.3,949.7 321.8,949.3 322.3,949 322.8,949.1 323.3,949.5 323.8,948.6 324.3,949.5 324.8,949.5 325.3,949.8 325.8,949.3 326.3,949.5 326.8,949.2 327.3,949.3 327.8,948.7 328.3,949.6 328.8,950.2 329.3,949.6 329.8,949.7 330.3,949.1 330.8,950.1 331.3,949.2 331.8,949.9 332.3,949.5 332.8,949.1 333.3,950 333.8,949.5 334.3,949.6 334.8,949.7 335.3,949.5 335.8,949.3 336.3,949.7 336.8,949.3 337.3,949.5 337.8,949.2 338.3,948.8 338.8,949.2 339.3,949.3 339.8,949.4 340.3,948.5 340.8,942.2 341.3,937.8 341.8,939.4 342.3,946.1 342.8,949.1 343.3,949.3 343.8,950.4 344.3,952 344.8,951.9 345.3,951 345.8,949.8 346.3,950.7 346.8,949.5 347.3,949.1 347.8,950.3 348.3,949.8 348.8,949.3 349.3,950 349.8,949.6 350.3,949.8 350.8,949.6 351.3,949 351.8,949.9 352.3,949.6 352.8,949 353.3,949.2 353.8,949.9 354.3,949.3 354.8,949.5 355.3,949.8 355.8,949.6 356.3,948.8 356.8,949.8 357.3,949.9 357.8,949.9 358.3,950.2 358.8,949.7 359.3,949.8 359.8,950.2 360.3,949.4 360.8,950.3 361.3,950.3 361.8,949.9 362.3,950.3 362.8,949.9 363.3,949.1 363.8,950 364.3,949.6 364.8,949.7 365.3,949.6 365.8,950.1 366.3,949.7 366.8,949.2 367.3,949.7 367.8,949.8 368.3,949.2 368.8,949.3 369.3,949.3 369.8,949.2 370.3,949.7 370.8,950 371.3,950.4 371.8,950 372.3,950 372.8,950 373.3,950.1 373.8,949.3 374.3,949.8 374.8,949.6 375.3,949.4 375.8,949.3 376.3,949.3 376.8,949.4 377.3,948.9 377.8,949.7 378.3,949.5 378.8,949.5 379.3,949.7 379.8,949.8 380.3,949.2 380.8,949.5 381.3,948.8 381.8,948.5 382.3,948.6 382.8,950.2 383.3,948.7 383.8,949.7 384.3,950.2 384.8,949.3 385.3,950.2 385.8,950.3 386.3,949.9 386.8,950.6 387.3,949.8 387.8,949.2 388.3,949.7 388.8,949.3 389.3,949 389.8,949.2 390.3,951.3 390.8,951 391.3,951.9 391.8,951.5 392.3,951.1 392.8,949.7 393.3,947.4 393.8,942.5 394.3,939.4 394.8,942.7 395.3,947.6 395.8,950.1 396.3,950 396.8,950.3 397.3,949.7 397.8,949.5 398.3,948.9 398.8,949.5 399.3,948.5 399.8,949.4 400.3,950.2 400.8,949.7 401.3,950 401.8,949.3 402.3,948.9 402.8,949.3 403.3,949.3 403.8,950.1 404.3,950.4 404.8,949.2 405.3,949.3 405.8,949.4 406.3,949.4 406.8,949 407.3,949.6 407.8,949.7 408.3,949.7 408.8,949 409.3,949.5 409.8,948.7 410.3,949.9 410.8,949 411.3,949.3 411.8,949.1 412.3,948.7 412.8,948 413.3,947.3 413.8,948.8 414.3,948.5 414.8,949 415.3,950.1 415.8,949.4 416.3,949.7 416.8,949.5 417.3,950 417.8,949.7 418.3,949.7 418.8,949.4 419.3,949.6 419.8,950 420.3,948.6 420.8,949.5 421.3,949.3 421.8,949.4 422.3,948.6 422.8,949.8 423.3,949.1 423.8,949.4 424.3,949.3 424.8,948.8 425.3,949.3 425.8,948.7 426.3,949.1 426.8,949.4 427.3,949.5 427.8,949.5 428.3,949.5 428.8,950.5 429.3,949.7 429.8,949 430.3,949.2 430.8,949.2 431.3,949.4 431.8,949.2 432.3,949.1 432.8,950.3 433.3,949.5 433.8,949.4 434.3,949.4 434.8,949.4 435.3,950.1 435.8,949.7 436.3,950 436.8,948.1 437.3,949.7 437.8,950 438.3,950.4 438.8,949.5 439.3,948.7 439.8,949.8 440.3,949.2 440.8,948.7 441.3,949.2 441.8,950 442.3,950.1 442.8,949.8 443.3,949 443.8,950.6 444.3,949 444.8,949.5 445.3,948.9 445.8,950.1 446.3,949.7 446.8,949.9 447.3,949.6 447.8,949.5 448.3,949.6 448.8,948.7 449.3,950 449.8,949.9 450.3,949.3 450.8,949.5 451.3,949.7 451.8,950.2 452.3,949.7 452.8,949.5 453.3,949.3 453.8,948.8 454.3,949.3 454.8,949.6 455.3,949.4 455.8,949.6 456.3,949.9 456.8,949.7 457.3,949.6 457.8,949.8 458.3,949.6 458.8,949.5 459.3,949.7 459.8,948.7 460.3,950.1 460.8,948.9 461.3,949.9 461.8,949.5 462.3,950 462.8,949.5 463.3,949.1 463.8,950 464.3,949.6 464.8,949.6 465.3,949.6 465.8,950 466.3,949.9 466.8,949.6 467.3,948.8 467.8,949.3 468.3,949.6 468.8,950.3 469.3,949.7 469.8,949.5 470.3,950.1 470.8,949.5 471.3,949.5 471.8,949.6 472.3,948.9 472.8,950 473.3,949.7 473.8,949.4 474.3,949 474.8,949.6 475.3,950.2 475.8,949.2 476.3,949 476.8,949.7 477.3,948.8 477.8,948.5 478.3,949.3 478.8,949.2 479.3,949.4 479.8,949.3 480.3,949.7 480.8,949.4 481.3,949.3 481.8,949.3 482.3,949.8 482.8,950 483.3,949.9 483.8,949.8 484.3,948 484.8,949.1 485.3,949.4 485.8,949.6 486.3,948.8 486.8,950.2 487.3,949.7 487.8,949.2 488.3,949.6 488.8,949.4 489.3,949.2 489.8,949.8 490.3,949.3 490.8,948.9 491.3,949.4 491.8,949.8 492.3,949.8 492.8,951.5 493.3,951.3 493.8,953.3 494.3,953.4 494.8,952.5 495.3,952.5 495.8,952.1 496.3,950.7 496.8,949.6 497.3,949.7 497.8,950 498.3,947.8 498.8,947.8 499.3,946.7 499.8,946 500.3,946 500.8,946.7 501.3,948.2 501.8,948.8 502.3,948.7 502.8,950.1 503.3,948.9 503.8,949.8 504.3,949.6 504.8,950.1 505.3,949.7 505.8,950 506.3,949.5 506.8,950 507.3,949.7 507.8,950.5 508.3,949.2 508.8,950.1 509.3,949.7 509.8,949.6 510.3,949.3 510.8,949.7 511.3,948.9 511.8,948.9 512.3,949.9 512.8,948.8 513.3,950.2 513.8,949.4 514.3,949.6 514.8,949.6 515.3,949.7 515.8,949.4 516.3,949.4 516.8,949.5 517.3,950 517.8,950 518.3,950.1 518.8,949.7 519.3,949.4 519.8,948.8 520.3,949.8 520.8,949.9 521.3,949.4 521.8,949.9 522.3,950.1 522.8,949.6 523.3,950 523.8,949.7 524.3,948.8 524.8,949.3 525.3,949.3 525.8,949.8 526.3,949.1 526.8,949.3 527.3,949.1 527.8,949.5 528.3,949.6 528.8,950 529.3,949.9 529.8,949.6 530.3,949.6 530.8,949.6 531.3,949.6 531.8,950.2 532.3,948.4 532.8,949.5 533.3,949.7 533.8,950 534.3,949 534.8,949.7 535.3,949.9 535.8,949.3 536.3,948.7 536.8,949.4 537.3,949 537.8,949.8 538.3,949.2 538.8,950.3 539.3,949.6 539.8,949.2 540.3,949.3 540.8,949 541.3,949.7 541.8,950.2 542.3,949.4 542.8,950 543.3,949.1 543.8,949.7 544.3,950.6 544.8,948.9 545.3,950.1 545.8,950.1 546.3,948.7 546.8,948.9 547.3,949.1 547.8,950 548.3,949.3 548.8,949.5 549.3,949.9 549.8,949.6 550.3,949.6 550.8,949.4 551.3,950 551.8,949.2 552.3,950.3 552.8,949.4 553.3,949.2 553.8,949.8 554.3,949.7 554.8,948.6 555.3,949.6 555.8,948.9 556.3,949.2 556.8,949.9 557.3,949.1 557.8,949.7 558.3,949.4 558.8,950.4 559.3,949.5 559.8,949 560.3,949 560.8,949.1 561.3,949.6 561.8,949.5 562.3,950 562.8,949.6 563.3,949.6 563.8,949.7 564.3,949.5 564.8,949.7 565.3,949.9 565.8,949.9 566.3,949.3 566.8,948.7 567.3,949.2 567.8,949.7 568.3,948.4 568.8,949.3 569.3,949.7 569.8,949.3 570.3,949 570.8,950.3 571.3,950.2 571.8,949.6 572.3,950.5 572.8,950.7 573.3,950 573.8,952 574.3,950.6 574.8,950.9 575.3,950.3 575.8,950.5 576.3,949.5 576.8,949.8 577.3,950.1 577.8,949.7 578.3,949.4 578.8,950.2 579.3,949.1 579.8,950 580.3,949.4 580.8,949.6 581.3,949.5 581.8,949.6 582.3,949.5 582.8,949.2 583.3,949.3 583.8,949.7 584.3,949.5 584.8,949 585.3,949.2 585.8,949.2 586.3,949.5 586.8,949.6 587.3,949.6 587.8,949.2 588.3,949.5 588.8,948.9 589.3,948.2 589.8,949.5 590.3,948.8 590.8,949.1 591.3,949 591.8,949.8 592.3,949 592.8,949.6 593.3,949.3 593.8,949 594.3,948.8 594.8,949.7 595.3,949.7 595.8,949.9 596.3,950.3 596.8,949.6 597.3,949.6 597.8,949.5 598.3,949.6 598.8,949.4 599.3,949.1 599.8,950.4 600.3,948.7 600.8,949.6 601.3,949.7 601.8,949.6 602.3,949.1 602.8,949.4 603.3,949.3 603.8,949 604.3,949.5 604.8,949.3 605.3,949.3 605.8,949.8 606.3,949 606.8,949.7 607.3,949.2 607.8,949.7 608.3,949.5 608.8,949.6 609.3,949.1 609.8,949.1 610.3,949.1 610.8,949.6 611.3,949.8 611.8,949.9 612.3,949.1 612.8,949.1 613.3,948.1 613.8,947.3 614.3,947.4 614.8,946.9 615.3,946.1 615.8,945.7 616.3,946.8 616.8,946.5 617.3,946.6 617.8,949 618.3,948.5 618.8,948.7 619.3,949.4 619.8,949 620.3,950.1 620.8,948.8 621.3,948.9 621.8,949.4 622.3,949.1 622.8,950.1 623.3,948.8 623.8,949.2 624.3,949.6 624.8,949.7 625.3,949.9 625.8,949.6 626.3,950.5 626.8,949.3 627.3,949.6 627.8,949.9 628.3,949.3 628.8,949.4 629.3,949.3 629.8,949.2 630.3,949 630.8,949.2 631.3,948.8 631.8,949.7 632.3,948.8 632.8,950.4 633.3,950.2 633.8,950 634.3,949.4 634.8,949.2 635.3,950 635.8,949.6 636.3,949.7 636.8,949.2 637.3,950 637.8,949.1 638.3,949.5 638.8,948.7 639.3,949.2 639.8,949.7 640.3,949.3 640.8,949.3 641.3,949.8 641.8,949.4 642.3,950 642.8,948.4 643.3,949.7 643.8,949.7 644.3,948.8 644.8,948.9 645.3,949.9 645.8,949 646.3,949.2 646.8,949.7 647.3,949.3 647.8,949.7 648.3,949.1 648.8,949.6 649.3,950 649.8,949.6 650.3,948.5 650.8,949.8 651.3,949.5 651.8,949.1 652.3,950.1 652.8,948.7 653.3,950.3 653.8,949.2 654.3,950.2 654.8,949.5 655.3,948.9 655.8,949.5 656.3,949.6 656.8,949.7 657.3,950 657.8,949.1 658.3,949.7 658.8,949.8 659.3,949.4 659.8,949.1 660.3,949 660.8,949.8 661.3,949.8 661.8,949.1 662.3,948.9 662.8,950 663.3,948.8 663.8,949.5 664.3,949.1 664.8,948.7 665.3,949.5 665.8,949.4 666.3,950.1 666.8,950.5 667.3,949.4 667.8,949.9 668.3,949.9 668.8,949.2 669.3,949.1 669.8,950.2 670.3,949.3 670.8,949.5 671.3,949.3 671.8,949.4 672.3,949.2 672.8,949.8 673.3,950 673.8,949.3 674.3,948.9 674.8,949.5 675.3,948.8 675.8,949.2 676.3,950 676.8,950.5 677.3,949.6 677.8,949 678.3,949.8 678.8,948.5 679.3,949.2 679.8,950.2 680.3,949.8 680.8,948.9 681.3,948.7 681.8,949.9 682.3,949.5 682.8,949.2 683.3,949.7 683.8,949.2 684.3,948.6 684.8,949.8 685.3,949.2 685.8,949 686.3,948.9 686.8,949.6 687.3,949.1 687.8,949.8 688.3,949.4 688.8,950 689.3,949.3 689.8,949.2 690.3,948.6 690.8,949 691.3,949.8 691.8,950.8 692.3,948.9 692.8,949 693.3,949.6 693.8,949.7 694.3,949.2 694.8,949.5 695.3,948.8 695.8,949.3 696.3,949.9 696.8,950.2 697.3,949.4 697.8,949.4 698.3,949.7 698.8,950 699.3,949.7 699.8,949.1 700.3,949.6 700.8,949.9 701.3,949.2 701.8,948.9 702.3,949.7 702.8,949.6 703.3,949.9 703.8,949.5 704.3,949.2 704.8,949.3 705.3,949 705.8,949.1 706.3,949.2 706.8,949.3 707.3,950 707.8,948.9 708.3,949.5 708.8,949.2 709.3,950.1 709.8,949.5 710.3,949.1 710.8,949.1 711.3,947.9 711.8,946.5 712.3,946.7 712.8,946.6 713.3,948.2 713.8,949.1 714.3,950.1 714.8,951.2 715.3,952.6 715.8,955.2 716.3,955.5 716.8,954.5 717.3,952.2 717.8,949.8 718.3,947.8 718.8,946.4 719.3,944.5 719.8,942.9 720.3,944.1 720.8,946.7 721.3,947.6 721.8,949.1 722.3,949.5 722.8,951.3 723.3,951.6 723.8,951.9 724.3,951.5 724.8,951.8 725.3,951.6 725.8,950.3 726.3,949.8 726.8,950 727.3,949 727.8,949.5 728.3,949.8 728.8,949.1 729.3,949.1 729.8,949.6 730.3,949.4 730.8,949.4 731.3,949.6 731.8,949.6 732.3,949.1 732.8,949.2 733.3,949.7 733.8,950 734.3,950.1 734.8,949.1 735.3,950 735.8,949.8 736.3,949.5 736.8,949.7 737.3,949.9 737.8,950.3 738.3,949 738.8,949.8 739.3,949.4 739.8,949.4 740.3,950 740.8,949.8 741.3,949 741.8,949.4 742.3,949.6 742.8,948.9 743.3,949.9 743.8,949.5 744.3,949.6 744.8,949.6 745.3,950.3 745.8,949.5 746.3,949.3 746.8,950.3 747.3,949.3 747.8,949.3 748.3,948.9 748.8,950 749.3,949.6 749.8,949.7 750.3,949.6 750.8,949.4 751.3,949.1 751.8,949.1 752.3,949.7 752.8,949.5 753.3,950.2" stroke="#000" stroke-width="1.6" stroke-linejoin="round"/>
</g>
<path d="M155.6,964.8v-8.8M251.9,964.8v-8.8M348.2,964.8v-8.8M444.5,964.8v-8.8M540.8,964.8v-8.8M637.1,964.8v-8.8M733.4,964.8v-8.8M71.8,934.5h8.8M71.8,874.4h8.8M71.8,814.3h8.8M71.8,754.2h8.8M71.8,694.1h8.8M71.8,634h8.8M71.8,573.9h8.8" stroke="#000" stroke-width="1.3" fill="none"/>
</g>
<g fill="none" stroke="#000">
<path d="M70.8,0V436.3H759.5" stroke-width="1.3"/>
<path d="M70.2,0.2H759.5" stroke-width="1.4"/>
<path d="M758.9,0V436.3" stroke-width="1.3" stroke="#2a2a2a"/>
<path d="M71.8,528.7V964.8H761" stroke-width="1.45"/>
<path d="M71.2,528.7H761" stroke-width="1.3" stroke="#444"/>
<path d="M760,528.7V964.8" stroke-width="1.6" stroke="#666"/>
</g>
<g font-family="'Liberation Sans', Arial, Helvetica, sans-serif" font-size="33.7" fill="#000" opacity="0.999">
<text transform="translate(195.2,465.5) scale(1,1.06)" text-anchor="middle">1.5</text>
<text transform="translate(342.6,465.5) scale(1,1.06)" text-anchor="middle">2.0</text>
<text transform="translate(488.3,465.5) scale(1,1.06)" text-anchor="middle">2.5</text>
<text transform="translate(634.8,465.5) scale(1,1.06)" text-anchor="middle">3.0</text>
<text transform="translate(59.6,400.8) scale(1,1.06)" text-anchor="end">0</text>
<text transform="translate(59.6,312.3) scale(1,1.06)" text-anchor="end">1</text>
<text transform="translate(59.6,223.8) scale(1,1.06)" text-anchor="end">2</text>
<text transform="translate(59.6,135.3) scale(1,1.06)" text-anchor="end">3</text>
<text transform="translate(59.6,46.8) scale(1,1.06)" text-anchor="end">4</text>
<text transform="translate(154.3,995.7) scale(1,1.06)" text-anchor="middle">2.0</text>
<text transform="translate(249.9,995.7) scale(1,1.06)" text-anchor="middle">2.5</text>
<text transform="translate(346.1,995.7) scale(1,1.06)" text-anchor="middle">3.0</text>
<text transform="translate(441.3,995.7) scale(1,1.06)" text-anchor="middle">3.5</text>
<text transform="translate(538.6,995.7) scale(1,1.06)" text-anchor="middle">4.0</text>
<text transform="translate(634.8,995.7) scale(1,1.06)" text-anchor="middle">4.5</text>
<text transform="translate(730.9,995.7) scale(1,1.06)" text-anchor="middle">5.0</text>
<text transform="translate(66.2,946.9) scale(1,1.06)" text-anchor="end">0</text>
<text transform="translate(66.2,886.8) scale(1,1.06)" text-anchor="end">2</text>
<text transform="translate(66.2,826.7) scale(1,1.06)" text-anchor="end">4</text>
<text transform="translate(66.2,766.6) scale(1,1.06)" text-anchor="end">6</text>
<text transform="translate(66.2,706.5) scale(1,1.06)" text-anchor="end">8</text>
<text transform="translate(66.2,646.4) scale(1,1.06)" text-anchor="end">10</text>
<text transform="translate(66.2,586.3) scale(1,1.06)" text-anchor="end">12</text>
<text x="411.4" y="494.7" text-anchor="middle"><tspan font-style="italic">d</tspan> (Å)</text>
<text x="411.5" y="1030.4" text-anchor="middle"><tspan font-style="italic">d</tspan> (Å)</text>
<text transform="translate(24.4,215.5) rotate(-90)" text-anchor="middle">Intensity (a.u.)</text>
<text transform="translate(24.9,768.2) rotate(-90)" text-anchor="middle">Intensity (a.u.)</text>
<text x="723.2" y="44.6" text-anchor="middle" font-weight="bold">a</text>
<text x="724.6" y="578.2" text-anchor="middle" font-weight="bold">b</text>
</g>
</svg>
</body>
</html>
